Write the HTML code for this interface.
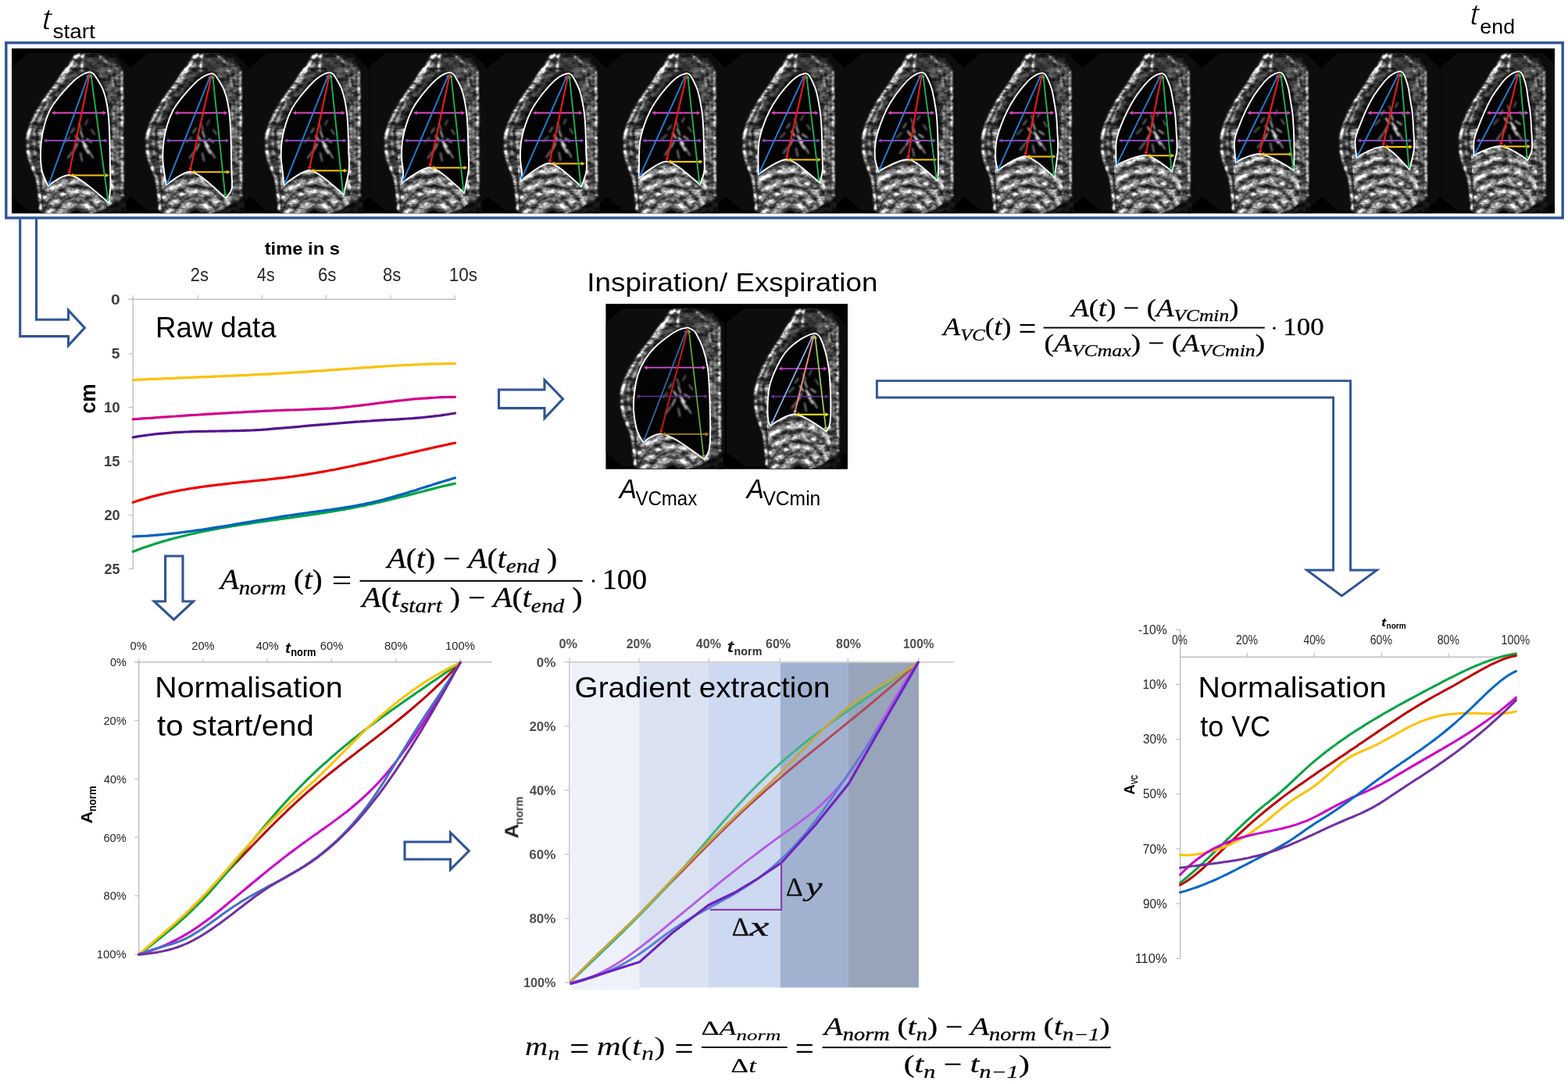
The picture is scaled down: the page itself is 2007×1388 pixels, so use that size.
<!DOCTYPE html>
<html><head><meta charset="utf-8"><title>Lung MRI analysis pipeline</title>
<style>html,body{margin:0;padding:0;background:#fff;}svg{display:block;}</style>
</head><body>
<svg width="2007" height="1388" viewBox="0 0 2007 1388">
<defs>
<filter id="blur1" x="-5%" y="-5%" width="110%" height="110%"><feGaussianBlur stdDeviation="1"/></filter>
<filter id="blurT" x="-5%" y="-20%" width="110%" height="140%"><feGaussianBlur stdDeviation="0.55"/></filter>
<filter id="blurC" x="-2%" y="-2%" width="104%" height="104%"><feGaussianBlur stdDeviation="0.7"/></filter>
</defs>
<rect x="0" y="0" width="2007" height="1388" fill="#fff"/>

<text x="53.30" y="37.60" font-size="39.00" textLength="12.96" lengthAdjust="spacingAndGlyphs" style='font-family:"Liberation Sans", Arial, sans-serif;font-style:italic;' fill="#000" stroke="#fff" stroke-width="1.1">t</text>
<text x="67.62" y="48.60" font-size="26.50" textLength="54.27" lengthAdjust="spacingAndGlyphs" style='font-family:"Liberation Sans", Arial, sans-serif;' fill="#000">start</text>
<text x="1880.90" y="32.00" font-size="39.00" textLength="12.34" lengthAdjust="spacingAndGlyphs" style='font-family:"Liberation Sans", Arial, sans-serif;font-style:italic;' fill="#000" stroke="#fff" stroke-width="1.1">t</text>
<text x="1894.38" y="42.90" font-size="26.50" textLength="44.65" lengthAdjust="spacingAndGlyphs" style='font-family:"Liberation Sans", Arial, sans-serif;' fill="#000">end</text>
<rect x="7.8" y="54.8" width="1992.4" height="224.2" fill="none" stroke="#2F5597" stroke-width="3.4"/>
<defs>
<filter id="mriBlur" x="-10%" y="-10%" width="120%" height="120%"><feGaussianBlur stdDeviation="1.1"/></filter>
<filter id="mriBlur2" x="-10%" y="-10%" width="120%" height="120%"><feGaussianBlur stdDeviation="2.0"/></filter>
<filter id="mriTex" x="0" y="0" width="100%" height="100%" color-interpolation-filters="sRGB">
  <feTurbulence type="fractalNoise" baseFrequency="0.1 0.16" numOctaves="3" seed="11" result="n"/>
  <feColorMatrix in="n" type="matrix" values="2.6 0 0 0 -0.8  2.6 0 0 0 -0.8  2.6 0 0 0 -0.8  0 0 0 0 1" result="g"/>
  <feComposite in="SourceGraphic" in2="g" operator="arithmetic" k1="1.05" k2="0.36" k3="0" k4="0" result="c"/>
  <feGaussianBlur in="c" stdDeviation="0.45"/>
</filter>
<path id="mriOct" d="M0,24 L22,6 L132,6 L152.4,26 L152.4,190 L132,208 L22,208 L0,190 Z" fill="#0d0d0d"/>
<clipPath id="abdClip"><path d="M33,104 C55,100 100,102 130,112 L131,198 C120,206 110,211 100,211 L42,211 C40,190 38,160 33,104 Z"/></clipPath>
<g id="mriBodyRaw">
  <g filter="url(#mriBlur)">
    <!-- general soft tissue -->
    <path d="M87,7 C96,4 120,6 134,12 C142,18 145,40 145,80 L145,190 C140,200 134,208 126,211 L38,211
             C35,195 33,178 30,165 C22,150 17,135 19,118 C21,96 30,80 40,70 C52,55 62,36 72,22 C77,14 82,9 87,7 Z" fill="#1a1a1a"/>
    <!-- anterior chest wall -->
    <path d="M88,7 C80,12 72,24 63,37 C55,50 45,63 36,76 C27,90 20,106 19,122 C18,136 22,148 29,160
             C34,172 35,188 37,210 L46,210 C44,196 43,184 42,172 C38,160 36,146 36.5,128 C37,108 42,92 50,77
             C60,60 72,47 84,38 C90,33 94,30 98,29 C96,20 93,12 88,7 Z" fill="#3c3c3c"/>
    <!-- posterior soft tissue -->
    <path d="M116,14 C128,12 138,18 142,28 L143,190 C140,196 134,200 128,200 L127,120 C127,80 124,52 112,36 C110,26 111,17 116,14 Z" fill="#484848"/>
    <!-- top (above apex) -->
    <path d="M86,8 C92,5 108,5 118,9 C122,16 118,26 110,32 C104,28 96,28 90,31 C88,24 86,16 86,8 Z" fill="#3a3a3a"/>
  </g>
  <!-- abdomen (visible below the diaphragm): concentric arcs around the spine -->
  <g clip-path="url(#abdClip)">
    <g filter="url(#mriBlur)" fill="none">
      <rect x="30" y="100" width="104" height="112" fill="#8a8a8a"/>
      <circle cx="83" cy="218" r="14" stroke="#303030" stroke-width="3.6"/>
      <circle cx="83" cy="218" r="21" stroke="#d8d8d8" stroke-width="3.2"/>
      <circle cx="83" cy="218" r="28" stroke="#303030" stroke-width="3.6"/>
      <circle cx="83" cy="218" r="35" stroke="#d8d8d8" stroke-width="3.2"/>
      <circle cx="83" cy="218" r="42" stroke="#303030" stroke-width="3.6"/>
      <circle cx="83" cy="218" r="49" stroke="#d8d8d8" stroke-width="3.2"/>
      <circle cx="83" cy="218" r="56" stroke="#303030" stroke-width="3.6"/>
      <circle cx="83" cy="218" r="63" stroke="#d8d8d8" stroke-width="3.2"/>
      <circle cx="83" cy="218" r="70" stroke="#303030" stroke-width="3.6"/>
      <circle cx="83" cy="218" r="77" stroke="#d8d8d8" stroke-width="3.2"/>
      <circle cx="83" cy="218" r="84" stroke="#303030" stroke-width="3.6"/>
      <circle cx="83" cy="218" r="91" stroke="#d8d8d8" stroke-width="3.2"/>
      <circle cx="83" cy="218" r="98" stroke="#303030" stroke-width="3.6"/>
      <circle cx="83" cy="218" r="12" fill="#050505"/>
    </g>
  </g>
  <g filter="url(#mriBlur)" fill="none" stroke-linecap="round">
    <!-- skin lines -->
    <path d="M141,30 L141.5,188" stroke="#f0f0f0" stroke-width="2.2"/>
    <path d="M134,24 C136,60 136,120 135,180" stroke="#7a7a7a" stroke-width="2"/>
    <path d="M86,8 C74,18 62,40 48,58 C36,74 24,92 20,116" stroke="#f4f4f4" stroke-width="3.2"/>
    <path d="M20,124 C21,140 26,152 32,164 C35,176 36,190 37,206" stroke="#e0e0e0" stroke-width="3"/>
    <path d="M82,10 C76,20 70,30 66,38" stroke="#ffffff" stroke-width="4"/>
    <path d="M90,10 C82,22 70,34 58,50 C48,64 40,80 34,96" stroke="#a8a8a8" stroke-width="2"/>
    <path d="M30,100 C28,112 28,124 30,136" stroke="#9a9a9a" stroke-width="2"/>
    <path d="M92,8 C90,14 89,20 90,28" stroke="#dddddd" stroke-width="2.5"/>
    <path d="M122,18 C126,30 130,44 134,60" stroke="#b0b0b0" stroke-width="2.4"/>
    <path d="M112,10 C118,14 124,18 128,26" stroke="#c8c8c8" stroke-width="2"/>
    <path d="M130,70 C131,90 131,110 130,130" stroke="#a8a8a8" stroke-width="1.8"/>
    <path d="M131,140 C132,155 132,170 131,185" stroke="#909090" stroke-width="1.8"/>
  </g>
  <!-- dark gap right of posterior tip -->
  <path d="M127,196 C131,205 134,209 136,211 L146,211 L146,196 Z" fill="#141414" filter="url(#mriBlur)"/>
</g>
<g id="mriBody"><use href="#mriBodyRaw" filter="url(#mriTex)"/></g>
<clipPath id="stripClip"><rect x="15.0" y="62.0" width="1975.0" height="211.3"/></clipPath></defs>
<rect x="15.0" y="62.0" width="1975.0" height="211.3" fill="#000"/>
<g clip-path="url(#stripClip)">
<g transform="translate(15.00,62.00)">
<use href="#mriOct"/>
<use href="#mriBody"/>
<path d="M100.00,30.20 C98.75,30.58 95.33,31.12 92.50,32.50 C89.67,33.88 86.00,36.17 83.00,38.50 C80.00,40.83 78.08,42.75 74.50,46.50 C70.92,50.25 65.58,55.92 61.50,61.00 C57.42,66.08 53.17,71.17 50.00,77.00 C46.83,82.83 44.50,89.17 42.50,96.00 C40.50,102.83 38.92,110.67 38.00,118.00 C37.08,125.33 36.83,133.33 37.00,140.00 C37.17,146.67 37.42,152.00 39.00,158.00 C40.58,164.00 45.25,173.00 46.50,176.00 C55.77,168.90 66.38,162.60 73.00,162.00 C85.75,162.80 106.15,182.57 124.00,197.50 C124.38,194.25 125.97,185.08 126.30,178.00 C126.63,170.92 126.12,163.00 126.00,155.00 C125.88,147.00 125.77,138.33 125.60,130.00 C125.43,121.67 125.33,112.67 125.00,105.00 C124.67,97.33 124.30,90.50 123.60,84.00 C122.90,77.50 121.98,71.33 120.80,66.00 C119.62,60.67 118.22,56.17 116.50,52.00 C114.78,47.83 112.50,44.25 110.50,41.00 C108.50,37.75 106.25,34.30 104.50,32.50 C102.75,30.70 100.75,30.58 100.00,30.20 Z" fill="#030303" stroke="none"/>
<g stroke-linecap="round" fill="none" filter="url(#mriBlur)"><path d="M86.0,96.0 L89.0,104.0" stroke="#a0a0a0" stroke-width="1.4"/><path d="M88.0,106.0 L91.0,114.0" stroke="#d0d0d0" stroke-width="1.8"/><path d="M82.0,112.0 L86.0,118.0" stroke="#e0e0e0" stroke-width="2.0"/><path d="M90.0,118.0 L96.0,126.0" stroke="#f4f4f4" stroke-width="2.4"/><path d="M92.0,124.0 L98.0,134.0" stroke="#e4e4e4" stroke-width="2.2"/><path d="M84.0,122.0 L80.0,130.0" stroke="#c0c0c0" stroke-width="1.8"/><path d="M96.0,116.0 L102.0,120.0" stroke="#cccccc" stroke-width="1.8"/><path d="M98.0,130.0 L104.0,140.0" stroke="#a8a8a8" stroke-width="1.7"/><path d="M78.0,132.0 L72.0,140.0" stroke="#6a6a6a" stroke-width="2.6"/><path d="M74.0,114.0 L68.0,120.0" stroke="#5a5a5a" stroke-width="2.4"/><path d="M102.0,104.0 L106.0,110.0" stroke="#8a8a8a" stroke-width="1.5"/><path d="M88.0,134.0 L90.0,144.0" stroke="#9a9a9a" stroke-width="1.7"/><path d="M80.0,102.0 L76.0,108.0" stroke="#9a9a9a" stroke-width="1.5"/><path d="M94.0,98.0 L97.0,92.0" stroke="#8a8a8a" stroke-width="1.4"/></g>
<path d="M100.00,30.20 C98.75,30.58 95.33,31.12 92.50,32.50 C89.67,33.88 86.00,36.17 83.00,38.50 C80.00,40.83 78.08,42.75 74.50,46.50 C70.92,50.25 65.58,55.92 61.50,61.00 C57.42,66.08 53.17,71.17 50.00,77.00 C46.83,82.83 44.50,89.17 42.50,96.00 C40.50,102.83 38.92,110.67 38.00,118.00 C37.08,125.33 36.83,133.33 37.00,140.00 C37.17,146.67 37.42,152.00 39.00,158.00 C40.58,164.00 45.25,173.00 46.50,176.00 C55.77,168.90 66.38,162.60 73.00,162.00 C85.75,162.80 106.15,182.57 124.00,197.50 C124.38,194.25 125.97,185.08 126.30,178.00 C126.63,170.92 126.12,163.00 126.00,155.00 C125.88,147.00 125.77,138.33 125.60,130.00 C125.43,121.67 125.33,112.67 125.00,105.00 C124.67,97.33 124.30,90.50 123.60,84.00 C122.90,77.50 121.98,71.33 120.80,66.00 C119.62,60.67 118.22,56.17 116.50,52.00 C114.78,47.83 112.50,44.25 110.50,41.00 C108.50,37.75 106.25,34.30 104.50,32.50 C102.75,30.70 100.75,30.58 100.00,30.20 Z" fill="none" stroke="#fff" stroke-width="1.9"/>
<line x1="54.51" y1="82.50" x2="117.69" y2="82.50" stroke="#E444C6" stroke-width="1.90"/><path d="M121.37,82.50 L116.77,85.03 L116.77,79.97 Z" fill="#E444C6"/><path d="M50.83,82.50 L55.43,85.03 L55.43,79.97 Z" fill="#E444C6"/>
<line x1="44.18" y1="118.00" x2="119.63" y2="118.00" stroke="#8A44B8" stroke-width="1.90"/><path d="M123.31,118.00 L118.71,120.53 L118.71,115.47 Z" fill="#8A44B8"/><path d="M40.50,118.00 L45.10,120.53 L45.10,115.47 Z" fill="#8A44B8"/>
<line x1="78.18" y1="162.50" x2="120.92" y2="162.50" stroke="#FFC20A" stroke-width="2.10"/><path d="M124.60,162.50 L120.00,165.03 L120.00,159.97 Z" fill="#FFC20A"/><path d="M74.50,162.50 L79.10,165.03 L79.10,159.97 Z" fill="#FFC20A"/>
<line x1="48.25" y1="172.04" x2="97.55" y2="35.66" stroke="#1F7FD6" stroke-width="1.90"/><path d="M98.80,32.20 L99.62,37.39 L94.86,35.67 Z" fill="#1F7FD6"/><path d="M47.00,175.50 L50.94,172.03 L46.18,170.31 Z" fill="#1F7FD6"/>
<line x1="73.75" y1="158.40" x2="99.45" y2="34.80" stroke="#F21818" stroke-width="2.10"/><path d="M100.20,31.20 L101.74,36.22 L96.79,35.19 Z" fill="#F21818"/><path d="M73.00,162.00 L76.41,158.01 L71.46,156.98 Z" fill="#F21818"/>
<line x1="123.01" y1="193.05" x2="101.69" y2="35.85" stroke="#1DB054" stroke-width="1.90"/><path d="M101.20,32.20 L104.33,36.42 L99.31,37.10 Z" fill="#1DB054"/><path d="M123.50,196.70 L125.39,191.80 L120.37,192.48 Z" fill="#1DB054"/>
</g>
<g transform="translate(167.40,62.00)">
<use href="#mriOct"/>
<use href="#mriBody" transform="translate(64,0) scale(0.9908,1) translate(-64,0)"/>
<path d="M103.60,32.00 C102.36,32.38 98.95,32.92 96.14,34.30 C93.33,35.68 89.70,37.97 86.74,40.30 C83.78,42.63 81.89,44.55 78.37,48.30 C74.85,52.05 69.61,57.72 65.61,62.80 C61.61,67.88 57.52,72.97 54.38,78.80 C51.24,84.63 48.81,90.97 46.75,97.80 C44.69,104.63 42.97,112.47 42.02,119.80 C41.06,127.13 40.85,135.13 41.02,141.80 C41.18,148.47 42.25,154.32 43.02,159.80 C43.78,165.28 45.17,172.22 45.60,174.70 C56.10,166.55 68.10,158.30 75.60,157.70 C87.10,158.50 105.50,177.23 121.60,191.60 C122.87,189.63 127.98,185.60 129.19,179.80 C130.41,174.00 129.01,164.80 128.89,156.80 C128.77,148.80 128.66,140.13 128.49,131.80 C128.32,123.47 128.22,114.47 127.89,106.80 C127.56,99.13 127.19,92.30 126.49,85.80 C125.79,79.30 124.84,73.13 123.69,67.80 C122.54,62.47 121.23,57.97 119.59,53.80 C117.94,49.63 115.77,46.05 113.84,42.80 C111.92,39.55 109.75,36.10 108.05,34.30 C106.34,32.50 104.34,32.38 103.60,32.00 Z" fill="#030303" stroke="none"/>
<g stroke-linecap="round" fill="none" filter="url(#mriBlur)"><path d="M89.6,96.0 L92.6,104.0" stroke="#a0a0a0" stroke-width="1.4"/><path d="M91.6,106.0 L94.6,114.0" stroke="#d0d0d0" stroke-width="1.8"/><path d="M85.6,112.0 L89.6,118.0" stroke="#e0e0e0" stroke-width="2.0"/><path d="M93.6,118.0 L99.6,126.0" stroke="#f4f4f4" stroke-width="2.4"/><path d="M95.6,124.0 L101.6,134.0" stroke="#e4e4e4" stroke-width="2.2"/><path d="M87.6,122.0 L83.6,130.0" stroke="#c0c0c0" stroke-width="1.8"/><path d="M99.6,116.0 L105.6,120.0" stroke="#cccccc" stroke-width="1.8"/><path d="M101.6,130.0 L107.6,140.0" stroke="#a8a8a8" stroke-width="1.7"/><path d="M81.6,132.0 L75.6,140.0" stroke="#6a6a6a" stroke-width="2.6"/><path d="M77.6,114.0 L71.6,120.0" stroke="#5a5a5a" stroke-width="2.4"/><path d="M105.6,104.0 L109.6,110.0" stroke="#8a8a8a" stroke-width="1.5"/><path d="M91.6,134.0 L93.6,144.0" stroke="#9a9a9a" stroke-width="1.7"/><path d="M83.6,102.0 L79.6,108.0" stroke="#9a9a9a" stroke-width="1.5"/><path d="M97.6,98.0 L100.6,92.0" stroke="#8a8a8a" stroke-width="1.4"/></g>
<path d="M103.60,32.00 C102.36,32.38 98.95,32.92 96.14,34.30 C93.33,35.68 89.70,37.97 86.74,40.30 C83.78,42.63 81.89,44.55 78.37,48.30 C74.85,52.05 69.61,57.72 65.61,62.80 C61.61,67.88 57.52,72.97 54.38,78.80 C51.24,84.63 48.81,90.97 46.75,97.80 C44.69,104.63 42.97,112.47 42.02,119.80 C41.06,127.13 40.85,135.13 41.02,141.80 C41.18,148.47 42.25,154.32 43.02,159.80 C43.78,165.28 45.17,172.22 45.60,174.70 C56.10,166.55 68.10,158.30 75.60,157.70 C87.10,158.50 105.50,177.23 121.60,191.60 C122.87,189.63 127.98,185.60 129.19,179.80 C130.41,174.00 129.01,164.80 128.89,156.80 C128.77,148.80 128.66,140.13 128.49,131.80 C128.32,123.47 128.22,114.47 127.89,106.80 C127.56,99.13 127.19,92.30 126.49,85.80 C125.79,79.30 124.84,73.13 123.69,67.80 C122.54,62.47 121.23,57.97 119.59,53.80 C117.94,49.63 115.77,46.05 113.84,42.80 C111.92,39.55 109.75,36.10 108.05,34.30 C106.34,32.50 104.34,32.38 103.60,32.00 Z" fill="none" stroke="#fff" stroke-width="1.9"/>
<line x1="59.57" y1="82.50" x2="120.30" y2="82.50" stroke="#E444C6" stroke-width="1.90"/><path d="M123.98,82.50 L119.38,85.03 L119.38,79.97 Z" fill="#E444C6"/><path d="M55.89,82.50 L60.49,85.03 L60.49,79.97 Z" fill="#E444C6"/>
<line x1="48.58" y1="118.00" x2="122.48" y2="118.00" stroke="#8A44B8" stroke-width="1.90"/><path d="M126.16,118.00 L121.56,120.53 L121.56,115.47 Z" fill="#8A44B8"/><path d="M44.90,118.00 L49.50,120.53 L49.50,115.47 Z" fill="#8A44B8"/>
<line x1="80.78" y1="158.20" x2="123.73" y2="158.20" stroke="#FFC20A" stroke-width="2.10"/><path d="M127.41,158.20 L122.81,160.73 L122.81,155.67 Z" fill="#FFC20A"/><path d="M77.10,158.20 L81.70,160.73 L81.70,155.67 Z" fill="#FFC20A"/>
<line x1="47.47" y1="170.79" x2="101.03" y2="37.41" stroke="#1F7FD6" stroke-width="1.90"/><path d="M102.40,34.00 L103.03,39.21 L98.34,37.33 Z" fill="#1F7FD6"/><path d="M46.10,174.20 L50.16,170.87 L45.47,168.99 Z" fill="#1F7FD6"/>
<line x1="76.41" y1="154.11" x2="102.99" y2="36.59" stroke="#F21818" stroke-width="2.10"/><path d="M103.80,33.00 L105.25,38.04 L100.32,36.93 Z" fill="#F21818"/><path d="M75.60,157.70 L79.08,153.77 L74.15,152.66 Z" fill="#F21818"/>
<line x1="120.72" y1="187.14" x2="105.18" y2="37.66" stroke="#1DB054" stroke-width="1.90"/><path d="M104.80,34.00 L107.79,38.31 L102.76,38.84 Z" fill="#1DB054"/><path d="M121.10,190.80 L123.14,185.96 L118.11,186.49 Z" fill="#1DB054"/>
</g>
<g transform="translate(319.80,62.00)">
<use href="#mriOct"/>
<use href="#mriBody" transform="translate(64,0) scale(0.9817,1) translate(-64,0)"/>
<path d="M102.20,30.70 C100.96,31.08 97.56,31.62 94.77,33.00 C91.99,34.38 88.39,36.67 85.47,39.00 C82.55,41.33 80.69,43.25 77.23,47.00 C73.77,50.75 68.62,56.42 64.70,61.50 C60.78,66.58 56.83,71.67 53.72,77.50 C50.61,83.33 48.15,89.67 46.03,96.50 C43.92,103.33 42.03,111.17 41.03,118.50 C40.03,125.83 39.87,133.83 40.03,140.50 C40.20,147.17 41.39,152.80 42.03,158.50 C42.68,164.20 43.59,172.00 43.90,174.70 C55.06,165.96 67.82,156.60 75.80,156.00 C86.83,156.80 104.47,173.65 119.90,187.00 C121.05,181.75 125.70,164.92 126.78,155.50 C127.86,146.08 126.55,138.83 126.38,130.50 C126.22,122.17 126.12,113.17 125.78,105.50 C125.45,97.83 125.08,91.00 124.38,84.50 C123.68,78.00 122.70,71.83 121.58,66.50 C120.46,61.17 119.24,56.67 117.67,52.50 C116.10,48.33 114.04,44.75 112.19,41.50 C110.34,38.25 108.26,34.80 106.59,33.00 C104.93,31.20 102.93,31.08 102.20,30.70 Z" fill="#030303" stroke="none"/>
<g stroke-linecap="round" fill="none" filter="url(#mriBlur)"><path d="M88.2,96.0 L91.2,104.0" stroke="#a0a0a0" stroke-width="1.4"/><path d="M90.2,106.0 L93.2,114.0" stroke="#d0d0d0" stroke-width="1.8"/><path d="M84.2,112.0 L88.2,118.0" stroke="#e0e0e0" stroke-width="2.0"/><path d="M92.2,118.0 L98.2,126.0" stroke="#f4f4f4" stroke-width="2.4"/><path d="M94.2,124.0 L100.2,134.0" stroke="#e4e4e4" stroke-width="2.2"/><path d="M86.2,122.0 L82.2,130.0" stroke="#c0c0c0" stroke-width="1.8"/><path d="M98.2,116.0 L104.2,120.0" stroke="#cccccc" stroke-width="1.8"/><path d="M100.2,130.0 L106.2,140.0" stroke="#a8a8a8" stroke-width="1.7"/><path d="M80.2,132.0 L74.2,140.0" stroke="#6a6a6a" stroke-width="2.6"/><path d="M76.2,114.0 L70.2,120.0" stroke="#5a5a5a" stroke-width="2.4"/><path d="M104.2,104.0 L108.2,110.0" stroke="#8a8a8a" stroke-width="1.5"/><path d="M90.2,134.0 L92.2,144.0" stroke="#9a9a9a" stroke-width="1.7"/><path d="M82.2,102.0 L78.2,108.0" stroke="#9a9a9a" stroke-width="1.5"/><path d="M96.2,98.0 L99.2,92.0" stroke="#8a8a8a" stroke-width="1.4"/></g>
<path d="M102.20,30.70 C100.96,31.08 97.56,31.62 94.77,33.00 C91.99,34.38 88.39,36.67 85.47,39.00 C82.55,41.33 80.69,43.25 77.23,47.00 C73.77,50.75 68.62,56.42 64.70,61.50 C60.78,66.58 56.83,71.67 53.72,77.50 C50.61,83.33 48.15,89.67 46.03,96.50 C43.92,103.33 42.03,111.17 41.03,118.50 C40.03,125.83 39.87,133.83 40.03,140.50 C40.20,147.17 41.39,152.80 42.03,158.50 C42.68,164.20 43.59,172.00 43.90,174.70 C55.06,165.96 67.82,156.60 75.80,156.00 C86.83,156.80 104.47,173.65 119.90,187.00 C121.05,181.75 125.70,164.92 126.78,155.50 C127.86,146.08 126.55,138.83 126.38,130.50 C126.22,122.17 126.12,113.17 125.78,105.50 C125.45,97.83 125.08,91.00 124.38,84.50 C123.68,78.00 122.70,71.83 121.58,66.50 C120.46,61.17 119.24,56.67 117.67,52.50 C116.10,48.33 114.04,44.75 112.19,41.50 C110.34,38.25 108.26,34.80 106.59,33.00 C104.93,31.20 102.93,31.08 102.20,30.70 Z" fill="none" stroke="#fff" stroke-width="1.9"/>
<line x1="58.38" y1="82.50" x2="118.39" y2="82.50" stroke="#E444C6" stroke-width="1.90"/><path d="M122.07,82.50 L117.47,85.03 L117.47,79.97 Z" fill="#E444C6"/><path d="M54.70,82.50 L59.30,85.03 L59.30,79.97 Z" fill="#E444C6"/>
<line x1="47.33" y1="118.00" x2="120.40" y2="118.00" stroke="#8A44B8" stroke-width="1.90"/><path d="M124.08,118.00 L119.48,120.53 L119.48,115.47 Z" fill="#8A44B8"/><path d="M43.65,118.00 L48.25,120.53 L48.25,115.47 Z" fill="#8A44B8"/>
<line x1="80.98" y1="156.50" x2="121.38" y2="156.50" stroke="#FFC20A" stroke-width="2.10"/><path d="M125.06,156.50 L120.46,159.03 L120.46,153.97 Z" fill="#FFC20A"/><path d="M77.30,156.50 L81.90,159.03 L81.90,153.97 Z" fill="#FFC20A"/>
<line x1="45.77" y1="170.78" x2="99.63" y2="36.12" stroke="#1F7FD6" stroke-width="1.90"/><path d="M101.00,32.70 L101.64,37.91 L96.94,36.03 Z" fill="#1F7FD6"/><path d="M44.40,174.20 L48.46,170.87 L43.76,168.99 Z" fill="#1F7FD6"/>
<line x1="76.57" y1="152.40" x2="101.63" y2="35.30" stroke="#F21818" stroke-width="2.10"/><path d="M102.40,31.70 L103.91,36.73 L98.96,35.67 Z" fill="#F21818"/><path d="M75.80,156.00 L79.24,152.03 L74.29,150.97 Z" fill="#F21818"/>
<line x1="119.02" y1="182.54" x2="103.78" y2="36.36" stroke="#1DB054" stroke-width="1.90"/><path d="M103.40,32.70 L106.39,37.01 L101.36,37.54 Z" fill="#1DB054"/><path d="M119.40,186.20 L121.44,181.36 L116.41,181.89 Z" fill="#1DB054"/>
</g>
<g transform="translate(472.20,62.00)">
<use href="#mriOct"/>
<use href="#mriBody" transform="translate(64,0) scale(0.9725,1) translate(-64,0)"/>
<path d="M103.70,30.60 C102.47,30.98 99.08,31.52 96.31,32.90 C93.55,34.28 89.99,36.57 87.10,38.90 C84.22,41.23 82.39,43.15 78.99,46.90 C75.59,50.65 70.53,56.32 66.70,61.40 C62.86,66.48 59.06,71.57 55.98,77.40 C52.89,83.23 50.37,89.57 48.20,96.40 C46.03,103.23 43.99,111.07 42.95,118.40 C41.91,125.73 41.78,133.73 41.95,140.40 C42.12,147.07 43.81,153.17 43.95,158.40 C44.09,163.63 42.99,169.57 42.80,171.80 C55.05,162.78 69.05,152.90 77.80,152.30 C88.80,153.10 106.40,170.86 121.80,184.70 C122.76,179.82 126.68,164.45 127.57,155.40 C128.47,146.35 127.34,138.73 127.18,130.40 C127.01,122.07 126.91,113.07 126.57,105.40 C126.24,97.73 125.88,90.90 125.17,84.40 C124.47,77.90 123.46,71.73 122.38,66.40 C121.29,61.07 120.15,56.57 118.66,52.40 C117.17,48.23 115.20,44.65 113.44,41.40 C111.67,38.15 109.66,34.70 108.04,32.90 C106.41,31.10 104.42,30.98 103.70,30.60 Z" fill="#030303" stroke="none"/>
<g stroke-linecap="round" fill="none" filter="url(#mriBlur)"><path d="M89.7,96.0 L92.7,104.0" stroke="#a0a0a0" stroke-width="1.4"/><path d="M91.7,106.0 L94.7,114.0" stroke="#d0d0d0" stroke-width="1.8"/><path d="M85.7,112.0 L89.7,118.0" stroke="#e0e0e0" stroke-width="2.0"/><path d="M93.7,118.0 L99.7,126.0" stroke="#f4f4f4" stroke-width="2.4"/><path d="M95.7,124.0 L101.7,134.0" stroke="#e4e4e4" stroke-width="2.2"/><path d="M87.7,122.0 L83.7,130.0" stroke="#c0c0c0" stroke-width="1.8"/><path d="M99.7,116.0 L105.7,120.0" stroke="#cccccc" stroke-width="1.8"/><path d="M101.7,130.0 L107.7,140.0" stroke="#a8a8a8" stroke-width="1.7"/><path d="M81.7,132.0 L75.7,140.0" stroke="#6a6a6a" stroke-width="2.6"/><path d="M77.7,114.0 L71.7,120.0" stroke="#5a5a5a" stroke-width="2.4"/><path d="M105.7,104.0 L109.7,110.0" stroke="#8a8a8a" stroke-width="1.5"/><path d="M91.7,134.0 L93.7,144.0" stroke="#9a9a9a" stroke-width="1.7"/><path d="M83.7,102.0 L79.7,108.0" stroke="#9a9a9a" stroke-width="1.5"/><path d="M97.7,98.0 L100.7,92.0" stroke="#8a8a8a" stroke-width="1.4"/></g>
<path d="M103.70,30.60 C102.47,30.98 99.08,31.52 96.31,32.90 C93.55,34.28 89.99,36.57 87.10,38.90 C84.22,41.23 82.39,43.15 78.99,46.90 C75.59,50.65 70.53,56.32 66.70,61.40 C62.86,66.48 59.06,71.57 55.98,77.40 C52.89,83.23 50.37,89.57 48.20,96.40 C46.03,103.23 43.99,111.07 42.95,118.40 C41.91,125.73 41.78,133.73 41.95,140.40 C42.12,147.07 43.81,153.17 43.95,158.40 C44.09,163.63 42.99,169.57 42.80,171.80 C55.05,162.78 69.05,152.90 77.80,152.30 C88.80,153.10 106.40,170.86 121.80,184.70 C122.76,179.82 126.68,164.45 127.57,155.40 C128.47,146.35 127.34,138.73 127.18,130.40 C127.01,122.07 126.91,113.07 126.57,105.40 C126.24,97.73 125.88,90.90 125.17,84.40 C124.47,77.90 123.46,71.73 122.38,66.40 C121.29,61.07 120.15,56.57 118.66,52.40 C117.17,48.23 115.20,44.65 113.44,41.40 C111.67,38.15 109.66,34.70 108.04,32.90 C106.41,31.10 104.42,30.98 103.70,30.60 Z" fill="none" stroke="#fff" stroke-width="1.9"/>
<line x1="60.57" y1="82.50" x2="119.20" y2="82.50" stroke="#E444C6" stroke-width="1.90"/><path d="M122.88,82.50 L118.28,85.03 L118.28,79.97 Z" fill="#E444C6"/><path d="M56.89,82.50 L61.49,85.03 L61.49,79.97 Z" fill="#E444C6"/>
<line x1="49.23" y1="118.00" x2="121.20" y2="118.00" stroke="#8A44B8" stroke-width="1.90"/><path d="M124.88,118.00 L120.28,120.53 L120.28,115.47 Z" fill="#8A44B8"/><path d="M45.55,118.00 L50.15,120.53 L50.15,115.47 Z" fill="#8A44B8"/>
<line x1="82.98" y1="152.80" x2="122.35" y2="152.80" stroke="#FFC20A" stroke-width="2.10"/><path d="M126.03,152.80 L121.43,155.33 L121.43,150.27 Z" fill="#FFC20A"/><path d="M79.30,152.80 L83.90,155.33 L83.90,150.27 Z" fill="#FFC20A"/>
<line x1="44.74" y1="167.92" x2="101.06" y2="35.98" stroke="#1F7FD6" stroke-width="1.90"/><path d="M102.50,32.60 L103.02,37.82 L98.37,35.84 Z" fill="#1F7FD6"/><path d="M43.30,171.30 L47.43,168.06 L42.78,166.08 Z" fill="#1F7FD6"/>
<line x1="78.58" y1="148.70" x2="103.12" y2="35.20" stroke="#F21818" stroke-width="2.10"/><path d="M103.90,31.60 L105.40,36.63 L100.45,35.56 Z" fill="#F21818"/><path d="M77.80,152.30 L81.25,148.34 L76.30,147.27 Z" fill="#F21818"/>
<line x1="120.90" y1="180.24" x2="105.30" y2="36.26" stroke="#1DB054" stroke-width="1.90"/><path d="M104.90,32.60 L107.91,36.90 L102.88,37.45 Z" fill="#1DB054"/><path d="M121.30,183.90 L123.32,179.05 L118.29,179.60 Z" fill="#1DB054"/>
</g>
<g transform="translate(624.60,62.00)">
<use href="#mriOct"/>
<use href="#mriBody" transform="translate(64,0) scale(0.9633,1) translate(-64,0)"/>
<path d="M102.80,31.90 C101.58,32.28 98.19,32.82 95.45,34.20 C92.71,35.58 89.20,37.87 86.35,40.20 C83.51,42.53 81.72,44.45 78.38,48.20 C75.05,51.95 70.09,57.62 66.35,62.70 C62.60,67.78 58.99,72.87 55.91,78.70 C52.84,84.53 50.15,90.87 47.91,97.70 C45.67,104.53 43.54,112.37 42.47,119.70 C41.39,127.03 41.30,135.03 41.47,141.70 C41.63,148.37 43.39,155.15 43.47,159.70 C43.54,164.25 42.16,167.45 41.90,169.00 C54.78,159.10 69.50,147.60 78.70,147.00 C88.88,147.80 105.16,164.00 119.40,177.00 C120.49,173.62 124.94,164.25 125.97,156.70 C126.99,149.15 125.73,140.03 125.57,131.70 C125.40,123.37 125.30,114.37 124.97,106.70 C124.63,99.03 124.27,92.20 123.57,85.70 C122.87,79.20 121.82,73.03 120.77,67.70 C119.71,62.37 118.66,57.87 117.24,53.70 C115.83,49.53 113.97,45.95 112.28,42.70 C110.59,39.45 108.66,36.00 107.08,34.20 C105.50,32.40 103.51,32.28 102.80,31.90 Z" fill="#030303" stroke="none"/>
<g stroke-linecap="round" fill="none" filter="url(#mriBlur)"><path d="M88.8,95.0 L91.8,103.0" stroke="#a0a0a0" stroke-width="1.4"/><path d="M90.8,105.0 L93.8,113.0" stroke="#d0d0d0" stroke-width="1.8"/><path d="M84.8,111.0 L88.8,117.0" stroke="#e0e0e0" stroke-width="2.0"/><path d="M92.8,117.0 L98.8,125.0" stroke="#f4f4f4" stroke-width="2.4"/><path d="M94.8,123.0 L100.8,133.0" stroke="#e4e4e4" stroke-width="2.2"/><path d="M86.8,121.0 L82.8,129.0" stroke="#c0c0c0" stroke-width="1.8"/><path d="M98.8,115.0 L104.8,119.0" stroke="#cccccc" stroke-width="1.8"/><path d="M100.8,129.0 L106.8,139.0" stroke="#a8a8a8" stroke-width="1.7"/><path d="M80.8,131.0 L74.8,139.0" stroke="#6a6a6a" stroke-width="2.6"/><path d="M76.8,113.0 L70.8,119.0" stroke="#5a5a5a" stroke-width="2.4"/><path d="M104.8,103.0 L108.8,109.0" stroke="#8a8a8a" stroke-width="1.5"/><path d="M90.8,133.0 L92.8,143.0" stroke="#9a9a9a" stroke-width="1.7"/><path d="M82.8,101.0 L78.8,107.0" stroke="#9a9a9a" stroke-width="1.5"/><path d="M96.8,97.0 L99.8,91.0" stroke="#8a8a8a" stroke-width="1.4"/></g>
<path d="M102.80,31.90 C101.58,32.28 98.19,32.82 95.45,34.20 C92.71,35.58 89.20,37.87 86.35,40.20 C83.51,42.53 81.72,44.45 78.38,48.20 C75.05,51.95 70.09,57.62 66.35,62.70 C62.60,67.78 58.99,72.87 55.91,78.70 C52.84,84.53 50.15,90.87 47.91,97.70 C45.67,104.53 43.54,112.37 42.47,119.70 C41.39,127.03 41.30,135.03 41.47,141.70 C41.63,148.37 43.39,155.15 43.47,159.70 C43.54,164.25 42.16,167.45 41.90,169.00 C54.78,159.10 69.50,147.60 78.70,147.00 C88.88,147.80 105.16,164.00 119.40,177.00 C120.49,173.62 124.94,164.25 125.97,156.70 C126.99,149.15 125.73,140.03 125.57,131.70 C125.40,123.37 125.30,114.37 124.97,106.70 C124.63,99.03 124.27,92.20 123.57,85.70 C122.87,79.20 121.82,73.03 120.77,67.70 C119.71,62.37 118.66,57.87 117.24,53.70 C115.83,49.53 113.97,45.95 112.28,42.70 C110.59,39.45 108.66,36.00 107.08,34.20 C105.50,32.40 103.51,32.28 102.80,31.90 Z" fill="none" stroke="#fff" stroke-width="1.9"/>
<line x1="60.99" y1="82.50" x2="117.39" y2="82.50" stroke="#E444C6" stroke-width="1.90"/><path d="M121.07,82.50 L116.47,85.03 L116.47,79.97 Z" fill="#E444C6"/><path d="M57.31,82.50 L61.91,85.03 L61.91,79.97 Z" fill="#E444C6"/>
<line x1="49.07" y1="118.00" x2="119.56" y2="118.00" stroke="#8A44B8" stroke-width="1.90"/><path d="M123.24,118.00 L118.64,120.53 L118.64,115.47 Z" fill="#8A44B8"/><path d="M45.39,118.00 L49.99,120.53 L49.99,115.47 Z" fill="#8A44B8"/>
<line x1="83.88" y1="147.50" x2="120.64" y2="147.50" stroke="#FFC20A" stroke-width="2.10"/><path d="M124.32,147.50 L119.72,150.03 L119.72,144.97 Z" fill="#FFC20A"/><path d="M80.20,147.50 L84.80,150.03 L84.80,144.97 Z" fill="#FFC20A"/>
<line x1="43.88" y1="165.13" x2="100.12" y2="37.27" stroke="#1F7FD6" stroke-width="1.90"/><path d="M101.60,33.90 L102.06,39.13 L97.43,37.09 Z" fill="#1F7FD6"/><path d="M42.40,168.50 L46.57,165.31 L41.94,163.27 Z" fill="#1F7FD6"/>
<line x1="79.47" y1="143.40" x2="102.23" y2="36.50" stroke="#F21818" stroke-width="2.10"/><path d="M103.00,32.90 L104.52,37.93 L99.57,36.87 Z" fill="#F21818"/><path d="M78.70,147.00 L82.13,143.03 L77.18,141.97 Z" fill="#F21818"/>
<line x1="118.52" y1="172.54" x2="104.38" y2="37.56" stroke="#1DB054" stroke-width="1.90"/><path d="M104.00,33.90 L107.00,38.21 L101.96,38.74 Z" fill="#1DB054"/><path d="M118.90,176.20 L120.94,171.36 L115.90,171.89 Z" fill="#1DB054"/>
</g>
<g transform="translate(777.00,62.00)">
<use href="#mriOct"/>
<use href="#mriBody" transform="translate(64,0) scale(0.9542,1) translate(-64,0)"/>
<path d="M102.00,31.90 C100.78,32.28 97.41,32.82 94.69,34.20 C91.97,35.58 88.50,37.87 85.69,40.20 C82.88,42.53 81.13,44.45 77.86,48.20 C74.58,51.95 69.72,57.62 66.06,62.70 C62.40,67.78 58.94,72.87 55.89,78.70 C52.84,84.53 50.06,90.87 47.76,97.70 C45.46,104.53 43.20,112.37 42.08,119.70 C40.97,127.03 41.26,134.10 41.08,141.70 C40.90,149.30 41.01,161.37 41.00,165.30 C53.25,155.86 67.25,145.20 76.00,144.60 C86.70,145.40 103.82,161.41 118.80,174.30 C119.74,171.37 123.58,163.80 124.46,156.70 C125.33,149.60 124.22,140.03 124.06,131.70 C123.89,123.37 123.79,114.37 123.46,106.70 C123.12,99.03 122.76,92.20 122.06,85.70 C121.36,79.20 120.28,73.03 119.26,67.70 C118.24,62.37 117.27,57.87 115.93,53.70 C114.59,49.53 112.84,45.95 111.22,42.70 C109.61,39.45 107.77,36.00 106.23,34.20 C104.69,32.40 102.70,32.28 102.00,31.90 Z" fill="#030303" stroke="none"/>
<g stroke-linecap="round" fill="none" filter="url(#mriBlur)"><path d="M88.0,92.6 L91.0,100.6" stroke="#a0a0a0" stroke-width="1.4"/><path d="M90.0,102.6 L93.0,110.6" stroke="#d0d0d0" stroke-width="1.8"/><path d="M84.0,108.6 L88.0,114.6" stroke="#e0e0e0" stroke-width="2.0"/><path d="M92.0,114.6 L98.0,122.6" stroke="#f4f4f4" stroke-width="2.4"/><path d="M94.0,120.6 L100.0,130.6" stroke="#e4e4e4" stroke-width="2.2"/><path d="M86.0,118.6 L82.0,126.6" stroke="#c0c0c0" stroke-width="1.8"/><path d="M98.0,112.6 L104.0,116.6" stroke="#cccccc" stroke-width="1.8"/><path d="M100.0,126.6 L106.0,136.6" stroke="#a8a8a8" stroke-width="1.7"/><path d="M80.0,128.6 L74.0,136.6" stroke="#6a6a6a" stroke-width="2.6"/><path d="M76.0,110.6 L70.0,116.6" stroke="#5a5a5a" stroke-width="2.4"/><path d="M104.0,100.6 L108.0,106.6" stroke="#8a8a8a" stroke-width="1.5"/><path d="M90.0,130.6 L92.0,140.6" stroke="#9a9a9a" stroke-width="1.7"/><path d="M82.0,98.6 L78.0,104.6" stroke="#9a9a9a" stroke-width="1.5"/><path d="M96.0,94.6 L99.0,88.6" stroke="#8a8a8a" stroke-width="1.4"/></g>
<path d="M102.00,31.90 C100.78,32.28 97.41,32.82 94.69,34.20 C91.97,35.58 88.50,37.87 85.69,40.20 C82.88,42.53 81.13,44.45 77.86,48.20 C74.58,51.95 69.72,57.62 66.06,62.70 C62.40,67.78 58.94,72.87 55.89,78.70 C52.84,84.53 50.06,90.87 47.76,97.70 C45.46,104.53 43.20,112.37 42.08,119.70 C40.97,127.03 41.26,134.10 41.08,141.70 C40.90,149.30 41.01,161.37 41.00,165.30 C53.25,155.86 67.25,145.20 76.00,144.60 C86.70,145.40 103.82,161.41 118.80,174.30 C119.74,171.37 123.58,163.80 124.46,156.70 C125.33,149.60 124.22,140.03 124.06,131.70 C123.89,123.37 123.79,114.37 123.46,106.70 C123.12,99.03 122.76,92.20 122.06,85.70 C121.36,79.20 120.28,73.03 119.26,67.70 C118.24,62.37 117.27,57.87 115.93,53.70 C114.59,49.53 112.84,45.95 111.22,42.70 C109.61,39.45 107.77,36.00 106.23,34.20 C104.69,32.40 102.70,32.28 102.00,31.90 Z" fill="none" stroke="#fff" stroke-width="1.9"/>
<line x1="60.95" y1="82.50" x2="115.88" y2="82.50" stroke="#E444C6" stroke-width="1.90"/><path d="M119.56,82.50 L114.96,85.03 L114.96,79.97 Z" fill="#E444C6"/><path d="M57.27,82.50 L61.87,85.03 L61.87,79.97 Z" fill="#E444C6"/>
<line x1="48.70" y1="118.00" x2="118.05" y2="118.00" stroke="#8A44B8" stroke-width="1.90"/><path d="M121.73,118.00 L117.13,120.53 L117.13,115.47 Z" fill="#8A44B8"/><path d="M45.02,118.00 L49.62,120.53 L49.62,115.47 Z" fill="#8A44B8"/>
<line x1="81.18" y1="145.10" x2="119.09" y2="145.10" stroke="#FFC20A" stroke-width="2.10"/><path d="M122.77,145.10 L118.17,147.63 L118.17,142.57 Z" fill="#FFC20A"/><path d="M77.50,145.10 L82.10,147.63 L82.10,142.57 Z" fill="#FFC20A"/>
<line x1="43.02" y1="161.45" x2="99.28" y2="37.25" stroke="#1F7FD6" stroke-width="1.90"/><path d="M100.80,33.90 L101.21,39.13 L96.60,37.05 Z" fill="#1F7FD6"/><path d="M41.50,164.80 L45.70,161.65 L41.09,159.57 Z" fill="#1F7FD6"/>
<line x1="76.84" y1="141.02" x2="101.36" y2="36.48" stroke="#F21818" stroke-width="2.10"/><path d="M102.20,32.90 L103.61,37.96 L98.69,36.80 Z" fill="#F21818"/><path d="M76.00,144.60 L79.51,140.70 L74.59,139.54 Z" fill="#F21818"/>
<line x1="117.90" y1="169.84" x2="103.60" y2="37.56" stroke="#1DB054" stroke-width="1.90"/><path d="M103.20,33.90 L106.21,38.20 L101.18,38.75 Z" fill="#1DB054"/><path d="M118.30,173.50 L120.32,168.65 L115.29,169.20 Z" fill="#1DB054"/>
</g>
<g transform="translate(929.40,62.00)">
<use href="#mriOct"/>
<use href="#mriBody" transform="translate(64,0) scale(0.9450,1) translate(-64,0)"/>
<path d="M101.60,31.90 C100.39,32.28 97.02,32.82 94.33,34.20 C91.63,35.58 88.20,37.87 85.43,40.20 C82.66,42.53 80.94,44.45 77.73,48.20 C74.52,51.95 69.75,57.62 66.17,62.70 C62.60,67.78 59.30,72.87 56.27,78.70 C53.24,84.53 50.37,90.87 48.01,97.70 C45.65,104.53 43.25,112.37 42.10,119.70 C40.95,127.03 41.20,134.82 41.10,141.70 C41.00,148.58 41.43,157.78 41.50,161.00 C53.96,152.15 68.20,142.60 77.10,142.00 C87.72,142.80 104.72,158.87 119.60,171.80 C120.22,169.28 122.79,163.38 123.35,156.70 C123.91,150.02 123.12,140.03 122.95,131.70 C122.78,123.37 122.68,114.37 122.35,106.70 C122.02,99.03 121.65,92.20 120.95,85.70 C120.25,79.20 119.14,73.03 118.15,67.70 C117.16,62.37 116.27,57.87 115.01,53.70 C113.75,49.53 112.11,45.95 110.57,42.70 C109.03,39.45 107.27,36.00 105.77,34.20 C104.28,32.40 102.30,32.28 101.60,31.90 Z" fill="#030303" stroke="none"/>
<g stroke-linecap="round" fill="none" filter="url(#mriBlur)"><path d="M87.6,90.0 L90.6,98.0" stroke="#a0a0a0" stroke-width="1.4"/><path d="M89.6,100.0 L92.6,108.0" stroke="#d0d0d0" stroke-width="1.8"/><path d="M83.6,106.0 L87.6,112.0" stroke="#e0e0e0" stroke-width="2.0"/><path d="M91.6,112.0 L97.6,120.0" stroke="#f4f4f4" stroke-width="2.4"/><path d="M93.6,118.0 L99.6,128.0" stroke="#e4e4e4" stroke-width="2.2"/><path d="M85.6,116.0 L81.6,124.0" stroke="#c0c0c0" stroke-width="1.8"/><path d="M97.6,110.0 L103.6,114.0" stroke="#cccccc" stroke-width="1.8"/><path d="M99.6,124.0 L105.6,134.0" stroke="#a8a8a8" stroke-width="1.7"/><path d="M79.6,126.0 L73.6,134.0" stroke="#6a6a6a" stroke-width="2.6"/><path d="M75.6,108.0 L69.6,114.0" stroke="#5a5a5a" stroke-width="2.4"/><path d="M103.6,98.0 L107.6,104.0" stroke="#8a8a8a" stroke-width="1.5"/><path d="M89.6,128.0 L91.6,138.0" stroke="#9a9a9a" stroke-width="1.7"/><path d="M81.6,96.0 L77.6,102.0" stroke="#9a9a9a" stroke-width="1.5"/><path d="M95.6,92.0 L98.6,86.0" stroke="#8a8a8a" stroke-width="1.4"/></g>
<path d="M101.60,31.90 C100.39,32.28 97.02,32.82 94.33,34.20 C91.63,35.58 88.20,37.87 85.43,40.20 C82.66,42.53 80.94,44.45 77.73,48.20 C74.52,51.95 69.75,57.62 66.17,62.70 C62.60,67.78 59.30,72.87 56.27,78.70 C53.24,84.53 50.37,90.87 48.01,97.70 C45.65,104.53 43.25,112.37 42.10,119.70 C40.95,127.03 41.20,134.82 41.10,141.70 C41.00,148.58 41.43,157.78 41.50,161.00 C53.96,152.15 68.20,142.60 77.10,142.00 C87.72,142.80 104.72,158.87 119.60,171.80 C120.22,169.28 122.79,163.38 123.35,156.70 C123.91,150.02 123.12,140.03 122.95,131.70 C122.78,123.37 122.68,114.37 122.35,106.70 C122.02,99.03 121.65,92.20 120.95,85.70 C120.25,79.20 119.14,73.03 118.15,67.70 C117.16,62.37 116.27,57.87 115.01,53.70 C113.75,49.53 112.11,45.95 110.57,42.70 C109.03,39.45 107.27,36.00 105.77,34.20 C104.28,32.40 102.30,32.28 101.60,31.90 Z" fill="none" stroke="#fff" stroke-width="1.9"/>
<line x1="61.30" y1="82.50" x2="114.77" y2="82.50" stroke="#E444C6" stroke-width="1.90"/><path d="M118.45,82.50 L113.85,85.03 L113.85,79.97 Z" fill="#E444C6"/><path d="M57.62,82.50 L62.22,85.03 L62.22,79.97 Z" fill="#E444C6"/>
<line x1="48.74" y1="118.00" x2="116.94" y2="118.00" stroke="#8A44B8" stroke-width="1.90"/><path d="M120.62,118.00 L116.02,120.53 L116.02,115.47 Z" fill="#8A44B8"/><path d="M45.06,118.00 L49.66,120.53 L49.66,115.47 Z" fill="#8A44B8"/>
<line x1="82.28" y1="142.50" x2="117.94" y2="142.50" stroke="#FFC20A" stroke-width="2.10"/><path d="M121.62,142.50 L117.02,145.03 L117.02,139.97 Z" fill="#FFC20A"/><path d="M78.60,142.50 L83.20,145.03 L83.20,139.97 Z" fill="#FFC20A"/>
<line x1="43.54" y1="157.16" x2="98.86" y2="37.24" stroke="#1F7FD6" stroke-width="1.90"/><path d="M100.40,33.90 L100.77,39.14 L96.18,37.02 Z" fill="#1F7FD6"/><path d="M42.00,160.50 L46.22,157.38 L41.63,155.26 Z" fill="#1F7FD6"/>
<line x1="77.91" y1="138.41" x2="100.99" y2="36.49" stroke="#F21818" stroke-width="2.10"/><path d="M101.80,32.90 L103.25,37.95 L98.32,36.83 Z" fill="#F21818"/><path d="M77.10,142.00 L80.58,138.07 L75.65,136.95 Z" fill="#F21818"/>
<line x1="118.67" y1="167.35" x2="103.23" y2="37.55" stroke="#1DB054" stroke-width="1.90"/><path d="M102.80,33.90 L105.86,38.17 L100.83,38.77 Z" fill="#1DB054"/><path d="M119.10,171.00 L121.07,166.13 L116.04,166.73 Z" fill="#1DB054"/>
</g>
<g transform="translate(1081.80,62.00)">
<use href="#mriOct"/>
<use href="#mriBody" transform="translate(64,0) scale(0.9358,1) translate(-64,0)"/>
<path d="M98.20,30.60 C96.99,30.98 93.64,31.52 90.96,32.90 C88.28,34.28 84.88,36.57 82.14,38.90 C79.41,41.23 77.71,43.15 74.55,46.90 C71.39,50.65 66.70,56.32 63.20,61.40 C59.69,66.48 56.48,71.57 53.51,77.40 C50.54,83.23 47.77,89.57 45.37,96.40 C42.97,103.23 40.33,111.07 39.12,118.40 C37.91,125.73 37.54,133.88 38.12,140.40 C38.70,146.92 41.85,154.65 42.60,157.50 C55.76,149.88 70.80,142.60 80.20,142.00 C89.58,142.80 104.58,157.05 117.70,169.00 C117.96,166.73 119.05,161.83 119.24,155.40 C119.43,148.97 119.01,138.73 118.84,130.40 C118.67,122.07 118.58,113.07 118.24,105.40 C117.91,97.73 117.54,90.90 116.84,84.40 C116.14,77.90 115.00,71.73 114.04,66.40 C113.08,61.07 112.28,56.57 111.10,52.40 C109.91,48.23 108.38,44.65 106.92,41.40 C105.45,38.15 103.77,34.70 102.32,32.90 C100.87,31.10 98.89,30.98 98.20,30.60 Z" fill="#030303" stroke="none"/>
<g stroke-linecap="round" fill="none" filter="url(#mriBlur)"><path d="M84.2,90.0 L87.2,98.0" stroke="#a0a0a0" stroke-width="1.4"/><path d="M86.2,100.0 L89.2,108.0" stroke="#d0d0d0" stroke-width="1.8"/><path d="M80.2,106.0 L84.2,112.0" stroke="#e0e0e0" stroke-width="2.0"/><path d="M88.2,112.0 L94.2,120.0" stroke="#f4f4f4" stroke-width="2.4"/><path d="M90.2,118.0 L96.2,128.0" stroke="#e4e4e4" stroke-width="2.2"/><path d="M82.2,116.0 L78.2,124.0" stroke="#c0c0c0" stroke-width="1.8"/><path d="M94.2,110.0 L100.2,114.0" stroke="#cccccc" stroke-width="1.8"/><path d="M96.2,124.0 L102.2,134.0" stroke="#a8a8a8" stroke-width="1.7"/><path d="M76.2,126.0 L70.2,134.0" stroke="#6a6a6a" stroke-width="2.6"/><path d="M72.2,108.0 L66.2,114.0" stroke="#5a5a5a" stroke-width="2.4"/><path d="M100.2,98.0 L104.2,104.0" stroke="#8a8a8a" stroke-width="1.5"/><path d="M86.2,128.0 L88.2,138.0" stroke="#9a9a9a" stroke-width="1.7"/><path d="M78.2,96.0 L74.2,102.0" stroke="#9a9a9a" stroke-width="1.5"/><path d="M92.2,92.0 L95.2,86.0" stroke="#8a8a8a" stroke-width="1.4"/></g>
<path d="M98.20,30.60 C96.99,30.98 93.64,31.52 90.96,32.90 C88.28,34.28 84.88,36.57 82.14,38.90 C79.41,41.23 77.71,43.15 74.55,46.90 C71.39,50.65 66.70,56.32 63.20,61.40 C59.69,66.48 56.48,71.57 53.51,77.40 C50.54,83.23 47.77,89.57 45.37,96.40 C42.97,103.23 40.33,111.07 39.12,118.40 C37.91,125.73 37.54,133.88 38.12,140.40 C38.70,146.92 41.85,154.65 42.60,157.50 C55.76,149.88 70.80,142.60 80.20,142.00 C89.58,142.80 104.58,157.05 117.70,169.00 C117.96,166.73 119.05,161.83 119.24,155.40 C119.43,148.97 119.01,138.73 118.84,130.40 C118.67,122.07 118.58,113.07 118.24,105.40 C117.91,97.73 117.54,90.90 116.84,84.40 C116.14,77.90 115.00,71.73 114.04,66.40 C113.08,61.07 112.28,56.57 111.10,52.40 C109.91,48.23 108.38,44.65 106.92,41.40 C105.45,38.15 103.77,34.70 102.32,32.90 C100.87,31.10 98.89,30.98 98.20,30.60 Z" fill="none" stroke="#fff" stroke-width="1.9"/>
<line x1="58.01" y1="82.50" x2="110.87" y2="82.50" stroke="#E444C6" stroke-width="1.90"/><path d="M114.55,82.50 L109.95,85.03 L109.95,79.97 Z" fill="#E444C6"/><path d="M54.33,82.50 L58.93,85.03 L58.93,79.97 Z" fill="#E444C6"/>
<line x1="45.41" y1="118.00" x2="112.86" y2="118.00" stroke="#8A44B8" stroke-width="1.90"/><path d="M116.54,118.00 L111.94,120.53 L111.94,115.47 Z" fill="#8A44B8"/><path d="M41.73,118.00 L46.33,120.53 L46.33,115.47 Z" fill="#8A44B8"/>
<line x1="85.38" y1="142.50" x2="113.86" y2="142.50" stroke="#FFC20A" stroke-width="2.10"/><path d="M117.54,142.50 L112.94,145.03 L112.94,139.97 Z" fill="#FFC20A"/><path d="M81.70,142.50 L86.30,145.03 L86.30,139.97 Z" fill="#FFC20A"/>
<line x1="44.56" y1="153.62" x2="95.54" y2="35.98" stroke="#1F7FD6" stroke-width="1.90"/><path d="M97.00,32.60 L97.49,37.83 L92.85,35.81 Z" fill="#1F7FD6"/><path d="M43.10,157.00 L47.25,153.79 L42.61,151.77 Z" fill="#1F7FD6"/>
<line x1="80.80" y1="138.37" x2="97.80" y2="35.23" stroke="#F21818" stroke-width="2.10"/><path d="M98.40,31.60 L100.15,36.55 L95.16,35.73 Z" fill="#F21818"/><path d="M80.20,142.00 L83.44,137.87 L78.45,137.05 Z" fill="#F21818"/>
<line x1="116.72" y1="164.55" x2="99.88" y2="36.25" stroke="#1DB054" stroke-width="1.90"/><path d="M99.40,32.60 L102.51,36.83 L97.49,37.49 Z" fill="#1DB054"/><path d="M117.20,168.20 L119.11,163.31 L114.09,163.97 Z" fill="#1DB054"/>
</g>
<g transform="translate(1234.20,62.00)">
<use href="#mriOct"/>
<use href="#mriBody" transform="translate(64,0) scale(0.9267,1) translate(-64,0)"/>
<path d="M99.80,31.30 C98.60,31.68 95.25,32.22 92.60,33.60 C89.95,34.98 86.58,37.27 83.89,39.60 C81.20,41.93 79.53,43.85 76.44,47.60 C73.35,51.35 68.76,57.02 65.35,62.10 C61.94,67.18 58.92,72.27 55.95,78.10 C52.99,83.93 50.04,90.27 47.57,97.10 C45.10,103.93 42.37,111.77 41.13,119.10 C39.89,126.43 39.86,134.95 40.13,141.10 C40.41,147.25 42.36,153.52 42.80,156.00 C55.05,147.50 69.05,138.60 77.80,138.00 C87.22,138.80 102.31,153.05 115.50,165.00 C116.21,159.35 119.13,140.92 119.73,131.10 C120.34,121.28 119.47,113.77 119.13,106.10 C118.80,98.43 118.43,91.60 117.73,85.10 C117.03,78.60 115.86,72.43 114.93,67.10 C114.01,61.77 113.29,57.27 112.18,53.10 C111.07,48.93 109.65,45.35 108.26,42.10 C106.87,38.85 105.28,35.40 103.87,33.60 C102.46,31.80 100.48,31.68 99.80,31.30 Z" fill="#030303" stroke="none"/>
<g stroke-linecap="round" fill="none" filter="url(#mriBlur)"><path d="M85.8,86.0 L88.8,94.0" stroke="#a0a0a0" stroke-width="1.4"/><path d="M87.8,96.0 L90.8,104.0" stroke="#d0d0d0" stroke-width="1.8"/><path d="M81.8,102.0 L85.8,108.0" stroke="#e0e0e0" stroke-width="2.0"/><path d="M89.8,108.0 L95.8,116.0" stroke="#f4f4f4" stroke-width="2.4"/><path d="M91.8,114.0 L97.8,124.0" stroke="#e4e4e4" stroke-width="2.2"/><path d="M83.8,112.0 L79.8,120.0" stroke="#c0c0c0" stroke-width="1.8"/><path d="M95.8,106.0 L101.8,110.0" stroke="#cccccc" stroke-width="1.8"/><path d="M97.8,120.0 L103.8,130.0" stroke="#a8a8a8" stroke-width="1.7"/><path d="M77.8,122.0 L71.8,130.0" stroke="#6a6a6a" stroke-width="2.6"/><path d="M73.8,104.0 L67.8,110.0" stroke="#5a5a5a" stroke-width="2.4"/><path d="M101.8,94.0 L105.8,100.0" stroke="#8a8a8a" stroke-width="1.5"/><path d="M87.8,124.0 L89.8,134.0" stroke="#9a9a9a" stroke-width="1.7"/><path d="M79.8,92.0 L75.8,98.0" stroke="#9a9a9a" stroke-width="1.5"/><path d="M93.8,88.0 L96.8,82.0" stroke="#8a8a8a" stroke-width="1.4"/></g>
<path d="M99.80,31.30 C98.60,31.68 95.25,32.22 92.60,33.60 C89.95,34.98 86.58,37.27 83.89,39.60 C81.20,41.93 79.53,43.85 76.44,47.60 C73.35,51.35 68.76,57.02 65.35,62.10 C61.94,67.18 58.92,72.27 55.95,78.10 C52.99,83.93 50.04,90.27 47.57,97.10 C45.10,103.93 42.37,111.77 41.13,119.10 C39.89,126.43 39.86,134.95 40.13,141.10 C40.41,147.25 42.36,153.52 42.80,156.00 C55.05,147.50 69.05,138.60 77.80,138.00 C87.22,138.80 102.31,153.05 115.50,165.00 C116.21,159.35 119.13,140.92 119.73,131.10 C120.34,121.28 119.47,113.77 119.13,106.10 C118.80,98.43 118.43,91.60 117.73,85.10 C117.03,78.60 115.86,72.43 114.93,67.10 C114.01,61.77 113.29,57.27 112.18,53.10 C111.07,48.93 109.65,45.35 108.26,42.10 C106.87,38.85 105.28,35.40 103.87,33.60 C102.46,31.80 100.48,31.68 99.80,31.30 Z" fill="none" stroke="#fff" stroke-width="1.9"/>
<line x1="60.69" y1="82.50" x2="111.65" y2="82.50" stroke="#E444C6" stroke-width="1.90"/><path d="M115.33,82.50 L110.73,85.03 L110.73,79.97 Z" fill="#E444C6"/><path d="M57.01,82.50 L61.61,85.03 L61.61,79.97 Z" fill="#E444C6"/>
<line x1="47.64" y1="118.00" x2="113.74" y2="118.00" stroke="#8A44B8" stroke-width="1.90"/><path d="M117.42,118.00 L112.82,120.53 L112.82,115.47 Z" fill="#8A44B8"/><path d="M43.96,118.00 L48.56,120.53 L48.56,115.47 Z" fill="#8A44B8"/>
<line x1="82.98" y1="138.50" x2="113.63" y2="138.50" stroke="#FFC20A" stroke-width="2.10"/><path d="M117.31,138.50 L112.71,141.03 L112.71,135.97 Z" fill="#FFC20A"/><path d="M79.30,138.50 L83.90,141.03 L83.90,135.97 Z" fill="#FFC20A"/>
<line x1="44.82" y1="152.15" x2="97.08" y2="36.65" stroke="#1F7FD6" stroke-width="1.90"/><path d="M98.60,33.30 L99.01,38.53 L94.40,36.45 Z" fill="#1F7FD6"/><path d="M43.30,155.50 L47.50,152.35 L42.89,150.27 Z" fill="#1F7FD6"/>
<line x1="78.56" y1="134.40" x2="99.24" y2="35.90" stroke="#F21818" stroke-width="2.10"/><path d="M100.00,32.30 L101.53,37.32 L96.58,36.28 Z" fill="#F21818"/><path d="M77.80,138.00 L81.22,134.02 L76.27,132.98 Z" fill="#F21818"/>
<line x1="114.61" y1="160.54" x2="101.39" y2="36.96" stroke="#1DB054" stroke-width="1.90"/><path d="M101.00,33.30 L104.00,37.60 L98.97,38.14 Z" fill="#1DB054"/><path d="M115.00,164.20 L117.03,159.36 L112.00,159.90 Z" fill="#1DB054"/>
</g>
<g transform="translate(1386.60,62.00)">
<use href="#mriOct"/>
<use href="#mriBody" transform="translate(64,0) scale(0.9175,1) translate(-64,0)"/>
<path d="M100.40,31.90 C99.21,32.28 95.87,32.82 93.24,34.20 C90.62,35.58 87.29,37.87 84.64,40.20 C81.99,42.53 80.36,44.45 77.34,48.20 C74.32,51.95 69.83,57.62 66.51,62.70 C63.19,67.78 60.36,72.87 57.41,78.70 C54.45,84.53 51.31,90.87 48.76,97.70 C46.22,104.53 43.24,111.03 42.15,119.70 C41.06,128.37 42.19,144.70 42.20,149.70 C55.33,142.99 70.33,137.40 79.70,136.80 C88.12,137.60 101.61,147.75 113.40,157.50 C114.44,153.20 118.69,140.17 119.62,131.70 C120.56,123.23 119.36,114.37 119.03,106.70 C118.69,99.03 118.33,92.20 117.62,85.70 C116.92,79.20 115.72,73.03 114.83,67.70 C113.93,62.37 113.30,57.87 112.27,53.70 C111.23,49.53 109.91,45.95 108.61,42.70 C107.30,39.45 105.78,36.00 104.41,34.20 C103.04,32.40 101.07,32.28 100.40,31.90 Z" fill="#030303" stroke="none"/>
<g stroke-linecap="round" fill="none" filter="url(#mriBlur)"><path d="M86.4,84.8 L89.4,92.8" stroke="#a0a0a0" stroke-width="1.4"/><path d="M88.4,94.8 L91.4,102.8" stroke="#d0d0d0" stroke-width="1.8"/><path d="M82.4,100.8 L86.4,106.8" stroke="#e0e0e0" stroke-width="2.0"/><path d="M90.4,106.8 L96.4,114.8" stroke="#f4f4f4" stroke-width="2.4"/><path d="M92.4,112.8 L98.4,122.8" stroke="#e4e4e4" stroke-width="2.2"/><path d="M84.4,110.8 L80.4,118.8" stroke="#c0c0c0" stroke-width="1.8"/><path d="M96.4,104.8 L102.4,108.8" stroke="#cccccc" stroke-width="1.8"/><path d="M98.4,118.8 L104.4,128.8" stroke="#a8a8a8" stroke-width="1.7"/><path d="M78.4,120.8 L72.4,128.8" stroke="#6a6a6a" stroke-width="2.6"/><path d="M74.4,102.8 L68.4,108.8" stroke="#5a5a5a" stroke-width="2.4"/><path d="M102.4,92.8 L106.4,98.8" stroke="#8a8a8a" stroke-width="1.5"/><path d="M88.4,122.8 L90.4,132.8" stroke="#9a9a9a" stroke-width="1.7"/><path d="M80.4,90.8 L76.4,96.8" stroke="#9a9a9a" stroke-width="1.5"/><path d="M94.4,86.8 L97.4,80.8" stroke="#8a8a8a" stroke-width="1.4"/></g>
<path d="M100.40,31.90 C99.21,32.28 95.87,32.82 93.24,34.20 C90.62,35.58 87.29,37.87 84.64,40.20 C81.99,42.53 80.36,44.45 77.34,48.20 C74.32,51.95 69.83,57.62 66.51,62.70 C63.19,67.78 60.36,72.87 57.41,78.70 C54.45,84.53 51.31,90.87 48.76,97.70 C46.22,104.53 43.24,111.03 42.15,119.70 C41.06,128.37 42.19,144.70 42.20,149.70 C55.33,142.99 70.33,137.40 79.70,136.80 C88.12,137.60 101.61,147.75 113.40,157.50 C114.44,153.20 118.69,140.17 119.62,131.70 C120.56,123.23 119.36,114.37 119.03,106.70 C118.69,99.03 118.33,92.20 117.62,85.70 C116.92,79.20 115.72,73.03 114.83,67.70 C113.93,62.37 113.30,57.87 112.27,53.70 C111.23,49.53 109.91,45.95 108.61,42.70 C107.30,39.45 105.78,36.00 104.41,34.20 C103.04,32.40 101.07,32.28 100.40,31.90 Z" fill="none" stroke="#fff" stroke-width="1.9"/>
<line x1="62.36" y1="82.50" x2="111.45" y2="82.50" stroke="#E444C6" stroke-width="1.90"/><path d="M115.13,82.50 L110.53,85.03 L110.53,79.97 Z" fill="#E444C6"/><path d="M58.68,82.50 L63.28,85.03 L63.28,79.97 Z" fill="#E444C6"/>
<line x1="48.84" y1="118.00" x2="113.62" y2="118.00" stroke="#8A44B8" stroke-width="1.90"/><path d="M117.30,118.00 L112.70,120.53 L112.70,115.47 Z" fill="#8A44B8"/><path d="M45.16,118.00 L49.76,120.53 L49.76,115.47 Z" fill="#8A44B8"/>
<line x1="84.88" y1="137.30" x2="113.09" y2="137.30" stroke="#FFC20A" stroke-width="2.10"/><path d="M116.77,137.30 L112.17,139.83 L112.17,134.77 Z" fill="#FFC20A"/><path d="M81.20,137.30 L85.80,139.83 L85.80,134.77 Z" fill="#FFC20A"/>
<line x1="44.32" y1="145.90" x2="97.58" y2="37.20" stroke="#1F7FD6" stroke-width="1.90"/><path d="M99.20,33.90 L99.45,39.14 L94.90,36.92 Z" fill="#1F7FD6"/><path d="M42.70,149.20 L47.00,146.18 L42.45,143.96 Z" fill="#1F7FD6"/>
<line x1="80.43" y1="133.19" x2="99.87" y2="36.51" stroke="#F21818" stroke-width="2.10"/><path d="M100.60,32.90 L102.17,37.91 L97.21,36.91 Z" fill="#F21818"/><path d="M79.70,136.80 L83.09,132.79 L78.13,131.79 Z" fill="#F21818"/>
<line x1="112.56" y1="153.04" x2="101.94" y2="37.56" stroke="#1DB054" stroke-width="1.90"/><path d="M101.60,33.90 L104.54,38.25 L99.50,38.71 Z" fill="#1DB054"/><path d="M112.90,156.70 L115.00,151.89 L109.96,152.35 Z" fill="#1DB054"/>
</g>
<g transform="translate(1539.00,62.00)">
<use href="#mriOct"/>
<use href="#mriBody" transform="translate(64,0) scale(0.9083,1) translate(-64,0)"/>
<path d="M99.00,30.60 C97.81,30.98 94.48,31.52 91.87,32.90 C89.26,34.28 85.97,36.57 83.35,38.90 C80.72,41.23 79.12,43.15 76.14,46.90 C73.17,50.65 68.75,56.32 65.49,61.40 C62.23,66.48 59.48,71.57 56.59,77.40 C53.70,83.23 50.74,89.57 48.17,96.40 C45.60,103.23 42.09,110.17 41.17,118.40 C40.24,126.63 42.36,141.23 42.60,145.80 C53.24,139.82 65.40,135.60 73.00,135.00 C84.00,135.80 101.60,146.15 117.00,156.00 C117.09,151.73 117.53,138.83 117.52,130.40 C117.50,121.97 117.25,113.07 116.92,105.40 C116.58,97.73 116.22,90.90 115.52,84.40 C114.82,77.90 113.58,71.73 112.72,66.40 C111.86,61.07 111.31,56.57 110.35,52.40 C109.39,48.23 108.18,44.65 106.95,41.40 C105.72,38.15 104.28,34.70 102.96,32.90 C101.63,31.10 99.66,30.98 99.00,30.60 Z" fill="#030303" stroke="none"/>
<g stroke-linecap="round" fill="none" filter="url(#mriBlur)"><path d="M85.0,83.0 L88.0,91.0" stroke="#a0a0a0" stroke-width="1.4"/><path d="M87.0,93.0 L90.0,101.0" stroke="#d0d0d0" stroke-width="1.8"/><path d="M81.0,99.0 L85.0,105.0" stroke="#e0e0e0" stroke-width="2.0"/><path d="M89.0,105.0 L95.0,113.0" stroke="#f4f4f4" stroke-width="2.4"/><path d="M91.0,111.0 L97.0,121.0" stroke="#e4e4e4" stroke-width="2.2"/><path d="M83.0,109.0 L79.0,117.0" stroke="#c0c0c0" stroke-width="1.8"/><path d="M95.0,103.0 L101.0,107.0" stroke="#cccccc" stroke-width="1.8"/><path d="M97.0,117.0 L103.0,127.0" stroke="#a8a8a8" stroke-width="1.7"/><path d="M77.0,119.0 L71.0,127.0" stroke="#6a6a6a" stroke-width="2.6"/><path d="M73.0,101.0 L67.0,107.0" stroke="#5a5a5a" stroke-width="2.4"/><path d="M101.0,91.0 L105.0,97.0" stroke="#8a8a8a" stroke-width="1.5"/><path d="M87.0,121.0 L89.0,131.0" stroke="#9a9a9a" stroke-width="1.7"/><path d="M79.0,89.0 L75.0,95.0" stroke="#9a9a9a" stroke-width="1.5"/><path d="M93.0,85.0 L96.0,79.0" stroke="#8a8a8a" stroke-width="1.4"/></g>
<path d="M99.00,30.60 C97.81,30.98 94.48,31.52 91.87,32.90 C89.26,34.28 85.97,36.57 83.35,38.90 C80.72,41.23 79.12,43.15 76.14,46.90 C73.17,50.65 68.75,56.32 65.49,61.40 C62.23,66.48 59.48,71.57 56.59,77.40 C53.70,83.23 50.74,89.57 48.17,96.40 C45.60,103.23 42.09,110.17 41.17,118.40 C40.24,126.63 42.36,141.23 42.60,145.80 C53.24,139.82 65.40,135.60 73.00,135.00 C84.00,135.80 101.60,146.15 117.00,156.00 C117.09,151.73 117.53,138.83 117.52,130.40 C117.50,121.97 117.25,113.07 116.92,105.40 C116.58,97.73 116.22,90.90 115.52,84.40 C114.82,77.90 113.58,71.73 112.72,66.40 C111.86,61.07 111.31,56.57 110.35,52.40 C109.39,48.23 108.18,44.65 106.95,41.40 C105.72,38.15 104.28,34.70 102.96,32.90 C101.63,31.10 99.66,30.98 99.00,30.60 Z" fill="none" stroke="#fff" stroke-width="1.9"/>
<line x1="61.01" y1="82.50" x2="109.54" y2="82.50" stroke="#E444C6" stroke-width="1.90"/><path d="M113.22,82.50 L108.62,85.03 L108.62,79.97 Z" fill="#E444C6"/><path d="M57.33,82.50 L61.93,85.03 L61.93,79.97 Z" fill="#E444C6"/>
<line x1="47.47" y1="118.00" x2="111.54" y2="118.00" stroke="#8A44B8" stroke-width="1.90"/><path d="M115.22,118.00 L110.62,120.53 L110.62,115.47 Z" fill="#8A44B8"/><path d="M43.79,118.00 L48.39,120.53 L48.39,115.47 Z" fill="#8A44B8"/>
<line x1="78.18" y1="135.50" x2="112.23" y2="135.50" stroke="#FFC20A" stroke-width="2.10"/><path d="M115.91,135.50 L111.31,138.03 L111.31,132.97 Z" fill="#FFC20A"/><path d="M74.50,135.50 L79.10,138.03 L79.10,132.97 Z" fill="#FFC20A"/>
<line x1="44.71" y1="141.99" x2="96.19" y2="35.91" stroke="#1F7FD6" stroke-width="1.90"/><path d="M97.80,32.60 L98.07,37.84 L93.52,35.63 Z" fill="#1F7FD6"/><path d="M43.10,145.30 L47.38,142.27 L42.83,140.06 Z" fill="#1F7FD6"/>
<line x1="73.90" y1="131.43" x2="98.30" y2="35.17" stroke="#F21818" stroke-width="2.10"/><path d="M99.20,31.60 L100.52,36.68 L95.62,35.44 Z" fill="#F21818"/><path d="M73.00,135.00 L76.58,131.16 L71.68,129.92 Z" fill="#F21818"/>
<line x1="116.02" y1="151.55" x2="100.68" y2="36.25" stroke="#1DB054" stroke-width="1.90"/><path d="M100.20,32.60 L103.31,36.83 L98.30,37.49 Z" fill="#1DB054"/><path d="M116.50,155.20 L118.40,150.31 L113.39,150.97 Z" fill="#1DB054"/>
</g>
<g transform="translate(1691.40,62.00)">
<use href="#mriOct"/>
<use href="#mriBody" transform="translate(64,0) scale(0.8992,1) translate(-64,0)"/>
<path d="M100.60,29.30 C99.42,29.68 96.09,30.22 93.50,31.60 C90.91,32.98 87.64,35.27 85.04,37.60 C82.45,39.93 80.87,41.85 77.94,45.60 C75.00,49.35 70.66,55.02 67.46,60.10 C64.26,65.18 61.55,70.27 58.74,76.10 C55.93,81.93 53.17,88.27 50.60,95.10 C48.03,101.93 44.21,109.72 43.30,117.10 C42.38,124.48 44.80,135.68 45.10,139.40 C56.82,132.37 70.22,126.20 78.60,125.60 C87.10,126.40 100.70,142.21 112.60,155.00 C113.57,150.68 117.54,137.58 118.41,129.10 C119.28,120.62 118.14,111.77 117.81,104.10 C117.47,96.43 117.11,89.60 116.41,83.10 C115.71,76.60 114.44,70.43 113.61,65.10 C112.78,59.77 112.32,55.27 111.44,51.10 C110.55,46.93 109.45,43.35 108.29,40.10 C107.14,36.85 105.79,33.40 104.50,31.60 C103.22,29.80 101.25,29.68 100.60,29.30 Z" fill="#030303" stroke="none"/>
<g stroke-linecap="round" fill="none" filter="url(#mriBlur)"><path d="M86.6,73.6 L89.6,81.6" stroke="#a0a0a0" stroke-width="1.4"/><path d="M88.6,83.6 L91.6,91.6" stroke="#d0d0d0" stroke-width="1.8"/><path d="M82.6,89.6 L86.6,95.6" stroke="#e0e0e0" stroke-width="2.0"/><path d="M90.6,95.6 L96.6,103.6" stroke="#f4f4f4" stroke-width="2.4"/><path d="M92.6,101.6 L98.6,111.6" stroke="#e4e4e4" stroke-width="2.2"/><path d="M84.6,99.6 L80.6,107.6" stroke="#c0c0c0" stroke-width="1.8"/><path d="M96.6,93.6 L102.6,97.6" stroke="#cccccc" stroke-width="1.8"/><path d="M98.6,107.6 L104.6,117.6" stroke="#a8a8a8" stroke-width="1.7"/><path d="M78.6,109.6 L72.6,117.6" stroke="#6a6a6a" stroke-width="2.6"/><path d="M74.6,91.6 L68.6,97.6" stroke="#5a5a5a" stroke-width="2.4"/><path d="M102.6,81.6 L106.6,87.6" stroke="#8a8a8a" stroke-width="1.5"/><path d="M88.6,111.6 L90.6,121.6" stroke="#9a9a9a" stroke-width="1.7"/><path d="M80.6,79.6 L76.6,85.6" stroke="#9a9a9a" stroke-width="1.5"/><path d="M94.6,75.6 L97.6,69.6" stroke="#8a8a8a" stroke-width="1.4"/></g>
<path d="M100.60,29.30 C99.42,29.68 96.09,30.22 93.50,31.60 C90.91,32.98 87.64,35.27 85.04,37.60 C82.45,39.93 80.87,41.85 77.94,45.60 C75.00,49.35 70.66,55.02 67.46,60.10 C64.26,65.18 61.55,70.27 58.74,76.10 C55.93,81.93 53.17,88.27 50.60,95.10 C48.03,101.93 44.21,109.72 43.30,117.10 C42.38,124.48 44.80,135.68 45.10,139.40 C56.82,132.37 70.22,126.20 78.60,125.60 C87.10,126.40 100.70,142.21 112.60,155.00 C113.57,150.68 117.54,137.58 118.41,129.10 C119.28,120.62 118.14,111.77 117.81,104.10 C117.47,96.43 117.11,89.60 116.41,83.10 C115.71,76.60 114.44,70.43 113.61,65.10 C112.78,59.77 112.32,55.27 111.44,51.10 C110.55,46.93 109.45,43.35 108.29,40.10 C107.14,36.85 105.79,33.40 104.50,31.60 C103.22,29.80 101.25,29.68 100.60,29.30 Z" fill="none" stroke="#fff" stroke-width="1.9"/>
<line x1="62.68" y1="82.50" x2="110.63" y2="82.50" stroke="#E444C6" stroke-width="1.90"/><path d="M114.31,82.50 L109.71,85.03 L109.71,79.97 Z" fill="#E444C6"/><path d="M59.00,82.50 L63.60,85.03 L63.60,79.97 Z" fill="#E444C6"/>
<line x1="49.55" y1="118.00" x2="112.46" y2="118.00" stroke="#8A44B8" stroke-width="1.90"/><path d="M116.14,118.00 L111.54,120.53 L111.54,115.47 Z" fill="#8A44B8"/><path d="M45.87,118.00 L50.47,120.53 L50.47,115.47 Z" fill="#8A44B8"/>
<line x1="83.78" y1="126.10" x2="113.16" y2="126.10" stroke="#FFC20A" stroke-width="2.10"/><path d="M116.84,126.10 L112.24,128.63 L112.24,123.57 Z" fill="#FFC20A"/><path d="M80.10,126.10 L84.70,128.63 L84.70,123.57 Z" fill="#FFC20A"/>
<line x1="47.25" y1="135.61" x2="97.75" y2="34.59" stroke="#1F7FD6" stroke-width="1.90"/><path d="M99.40,31.30 L99.61,36.55 L95.08,34.28 Z" fill="#1F7FD6"/><path d="M45.60,138.90 L49.92,135.92 L45.39,133.65 Z" fill="#1F7FD6"/>
<line x1="79.43" y1="122.02" x2="99.97" y2="33.88" stroke="#F21818" stroke-width="2.10"/><path d="M100.80,30.30 L102.22,35.35 L97.29,34.21 Z" fill="#F21818"/><path d="M78.60,125.60 L82.11,121.69 L77.18,120.55 Z" fill="#F21818"/>
<line x1="111.79" y1="150.53" x2="102.11" y2="34.97" stroke="#1DB054" stroke-width="1.90"/><path d="M101.80,31.30 L104.71,35.67 L99.66,36.10 Z" fill="#1DB054"/><path d="M112.10,154.20 L114.24,149.40 L109.19,149.83 Z" fill="#1DB054"/>
</g>
<g transform="translate(1843.80,62.00)">
<use href="#mriOct"/>
<use href="#mriBody" transform="translate(64,0) scale(0.8900,1) translate(-64,0)"/>
<path d="M99.90,29.30 C98.72,29.68 95.41,30.22 92.84,31.60 C90.27,32.98 87.03,35.27 84.47,37.60 C81.92,39.93 80.36,41.85 77.49,45.60 C74.62,49.35 70.36,55.02 67.24,60.10 C64.13,65.18 61.56,70.27 58.78,76.10 C56.00,81.93 53.21,88.27 50.58,95.10 C47.95,101.93 44.31,110.15 43.03,117.10 C41.74,124.05 42.92,133.52 42.90,136.80 C54.69,130.47 68.17,125.60 76.60,125.00 C85.35,125.80 99.35,134.20 111.60,143.00 C112.50,140.68 116.20,135.58 117.00,129.10 C117.80,122.62 116.73,111.77 116.40,104.10 C116.07,96.43 115.70,89.60 115.00,83.10 C114.30,76.60 113.00,70.43 112.20,65.10 C111.40,59.77 111.03,55.27 110.22,51.10 C109.41,46.93 108.42,43.35 107.34,40.10 C106.26,36.85 104.99,33.40 103.75,31.60 C102.51,29.80 100.54,29.68 99.90,29.30 Z" fill="#030303" stroke="none"/>
<g stroke-linecap="round" fill="none" filter="url(#mriBlur)"><path d="M85.9,73.0 L88.9,81.0" stroke="#a0a0a0" stroke-width="1.4"/><path d="M87.9,83.0 L90.9,91.0" stroke="#d0d0d0" stroke-width="1.8"/><path d="M81.9,89.0 L85.9,95.0" stroke="#e0e0e0" stroke-width="2.0"/><path d="M89.9,95.0 L95.9,103.0" stroke="#f4f4f4" stroke-width="2.4"/><path d="M91.9,101.0 L97.9,111.0" stroke="#e4e4e4" stroke-width="2.2"/><path d="M83.9,99.0 L79.9,107.0" stroke="#c0c0c0" stroke-width="1.8"/><path d="M95.9,93.0 L101.9,97.0" stroke="#cccccc" stroke-width="1.8"/><path d="M97.9,107.0 L103.9,117.0" stroke="#a8a8a8" stroke-width="1.7"/><path d="M77.9,109.0 L71.9,117.0" stroke="#6a6a6a" stroke-width="2.6"/><path d="M73.9,91.0 L67.9,97.0" stroke="#5a5a5a" stroke-width="2.4"/><path d="M101.9,81.0 L105.9,87.0" stroke="#8a8a8a" stroke-width="1.5"/><path d="M87.9,111.0 L89.9,121.0" stroke="#9a9a9a" stroke-width="1.7"/><path d="M79.9,79.0 L75.9,85.0" stroke="#9a9a9a" stroke-width="1.5"/><path d="M93.9,75.0 L96.9,69.0" stroke="#8a8a8a" stroke-width="1.4"/></g>
<path d="M99.90,29.30 C98.72,29.68 95.41,30.22 92.84,31.60 C90.27,32.98 87.03,35.27 84.47,37.60 C81.92,39.93 80.36,41.85 77.49,45.60 C74.62,49.35 70.36,55.02 67.24,60.10 C64.13,65.18 61.56,70.27 58.78,76.10 C56.00,81.93 53.21,88.27 50.58,95.10 C47.95,101.93 44.31,110.15 43.03,117.10 C41.74,124.05 42.92,133.52 42.90,136.80 C54.69,130.47 68.17,125.60 76.60,125.00 C85.35,125.80 99.35,134.20 111.60,143.00 C112.50,140.68 116.20,135.58 117.00,129.10 C117.80,122.62 116.73,111.77 116.40,104.10 C116.07,96.43 115.70,89.60 115.00,83.10 C114.30,76.60 113.00,70.43 112.20,65.10 C111.40,59.77 111.03,55.27 110.22,51.10 C109.41,46.93 108.42,43.35 107.34,40.10 C106.26,36.85 104.99,33.40 103.75,31.60 C102.51,29.80 100.54,29.68 99.90,29.30 Z" fill="none" stroke="#fff" stroke-width="1.9"/>
<line x1="62.70" y1="82.50" x2="109.23" y2="82.50" stroke="#E444C6" stroke-width="1.90"/><path d="M112.91,82.50 L108.31,85.03 L108.31,79.97 Z" fill="#E444C6"/><path d="M59.02,82.50 L63.62,85.03 L63.62,79.97 Z" fill="#E444C6"/>
<line x1="49.20" y1="118.00" x2="111.05" y2="118.00" stroke="#8A44B8" stroke-width="1.90"/><path d="M114.73,118.00 L110.13,120.53 L110.13,115.47 Z" fill="#8A44B8"/><path d="M45.52,118.00 L50.12,120.53 L50.12,115.47 Z" fill="#8A44B8"/>
<line x1="81.78" y1="125.50" x2="111.73" y2="125.50" stroke="#FFC20A" stroke-width="2.10"/><path d="M115.41,125.50 L110.81,128.03 L110.81,122.97 Z" fill="#FFC20A"/><path d="M78.10,125.50 L82.70,128.03 L82.70,122.97 Z" fill="#FFC20A"/>
<line x1="45.11" y1="133.04" x2="96.99" y2="34.56" stroke="#1F7FD6" stroke-width="1.90"/><path d="M98.70,31.30 L98.79,36.55 L94.32,34.19 Z" fill="#1F7FD6"/><path d="M43.40,136.30 L47.78,133.41 L43.31,131.05 Z" fill="#1F7FD6"/>
<line x1="77.49" y1="121.43" x2="99.21" y2="33.87" stroke="#F21818" stroke-width="2.10"/><path d="M100.10,30.30 L101.45,35.37 L96.54,34.16 Z" fill="#F21818"/><path d="M76.60,125.00 L80.16,121.14 L75.25,119.93 Z" fill="#F21818"/>
<line x1="110.77" y1="138.53" x2="101.43" y2="34.97" stroke="#1DB054" stroke-width="1.90"/><path d="M101.10,31.30 L104.03,35.65 L98.99,36.11 Z" fill="#1DB054"/><path d="M111.10,142.20 L113.21,137.39 L108.17,137.85 Z" fill="#1DB054"/>
</g>
</g>
<path d="M25.7,280.5 L25.7,430.6 L87.5,430.6 L87.5,442.5 L108.3,419.8 L87.5,397.3 L87.5,409.3 L46.5,409.3 L46.5,280.5" fill="none" stroke="#2F5597" stroke-width="3.1" stroke-linejoin="miter"/>
<path d="M638.5,499 L697,499 L697,486.5 L720.5,510.8 L697,535.5 L697,522.6 L638.5,522.6 Z" fill="none" stroke="#2F5597" stroke-width="3.1" stroke-linejoin="miter"/>
<path d="M1122.4,487.6 L1728.6,487.6 L1728.6,730 L1762.5,730 L1717.4,763 L1672.7,730 L1706.6,730 L1706.6,509 L1122.4,509 Z" fill="none" stroke="#2F5597" stroke-width="2.9" stroke-linejoin="miter"/>
<path d="M211.6,712 L234,712 L234,770 L247.5,770 L222.5,793.3 L197.3,770 L211.6,770 Z" fill="none" stroke="#2F5597" stroke-width="3.1" stroke-linejoin="miter"/>
<path d="M518,1078 L576.5,1078 L576.5,1066 L600.3,1089.6 L576.5,1113.6 L576.5,1100.3 L518,1100.3 Z" fill="none" stroke="#2F5597" stroke-width="3.1" stroke-linejoin="miter"/>
<line x1="163.70" y1="383.30" x2="582.80" y2="383.30" stroke="#BFBFBF" stroke-width="1.40"/>
<line x1="170.30" y1="378.00" x2="170.30" y2="383.30" stroke="#BFBFBF" stroke-width="1.20"/>
<line x1="253.10" y1="378.00" x2="253.10" y2="383.30" stroke="#BFBFBF" stroke-width="1.20"/>
<line x1="335.30" y1="378.00" x2="335.30" y2="383.30" stroke="#BFBFBF" stroke-width="1.20"/>
<line x1="417.40" y1="378.00" x2="417.40" y2="383.30" stroke="#BFBFBF" stroke-width="1.20"/>
<line x1="500.00" y1="378.00" x2="500.00" y2="383.30" stroke="#BFBFBF" stroke-width="1.20"/>
<line x1="582.20" y1="378.00" x2="582.20" y2="383.30" stroke="#BFBFBF" stroke-width="1.20"/>
<line x1="170.30" y1="383.30" x2="170.30" y2="729.00" stroke="#BFBFBF" stroke-width="1.40"/>
<line x1="164.60" y1="453.00" x2="170.30" y2="453.00" stroke="#BFBFBF" stroke-width="1.20"/>
<line x1="164.60" y1="521.70" x2="170.30" y2="521.70" stroke="#BFBFBF" stroke-width="1.20"/>
<line x1="164.60" y1="590.90" x2="170.30" y2="590.90" stroke="#BFBFBF" stroke-width="1.20"/>
<line x1="164.60" y1="659.60" x2="170.30" y2="659.60" stroke="#BFBFBF" stroke-width="1.20"/>
<line x1="164.60" y1="728.50" x2="170.30" y2="728.50" stroke="#BFBFBF" stroke-width="1.20"/>
<text x="338.72" y="325.80" font-size="22.50" textLength="96.27" lengthAdjust="spacingAndGlyphs" style='font-family:"Liberation Sans", Arial, sans-serif;font-weight:bold;' fill="#000">time in s</text>
<text x="243.80" y="359.70" font-size="23.30" textLength="23.19" lengthAdjust="spacingAndGlyphs" style='font-family:"Liberation Sans", Arial, sans-serif;' fill="#262626">2s</text>
<text x="329.11" y="359.70" font-size="23.30" textLength="22.46" lengthAdjust="spacingAndGlyphs" style='font-family:"Liberation Sans", Arial, sans-serif;' fill="#262626">4s</text>
<text x="406.96" y="359.70" font-size="23.30" textLength="23.54" lengthAdjust="spacingAndGlyphs" style='font-family:"Liberation Sans", Arial, sans-serif;' fill="#262626">6s</text>
<text x="490.05" y="359.70" font-size="23.30" textLength="23.24" lengthAdjust="spacingAndGlyphs" style='font-family:"Liberation Sans", Arial, sans-serif;' fill="#262626">8s</text>
<text x="574.79" y="359.70" font-size="23.30" textLength="36.33" lengthAdjust="spacingAndGlyphs" style='font-family:"Liberation Sans", Arial, sans-serif;' fill="#262626">10s</text>
<text x="141.98" y="389.50" font-size="17.80" textLength="11.68" lengthAdjust="spacingAndGlyphs" style='font-family:"Liberation Sans", Arial, sans-serif;font-weight:bold;' fill="#404040">0</text>
<text x="142.80" y="459.20" font-size="17.80" textLength="10.74" lengthAdjust="spacingAndGlyphs" style='font-family:"Liberation Sans", Arial, sans-serif;font-weight:bold;' fill="#404040">5</text>
<text x="132.92" y="527.90" font-size="17.80" textLength="20.86" lengthAdjust="spacingAndGlyphs" style='font-family:"Liberation Sans", Arial, sans-serif;font-weight:bold;' fill="#404040">10</text>
<text x="132.93" y="597.10" font-size="17.80" textLength="20.59" lengthAdjust="spacingAndGlyphs" style='font-family:"Liberation Sans", Arial, sans-serif;font-weight:bold;' fill="#404040">15</text>
<text x="133.46" y="665.80" font-size="17.80" textLength="20.29" lengthAdjust="spacingAndGlyphs" style='font-family:"Liberation Sans", Arial, sans-serif;font-weight:bold;' fill="#404040">20</text>
<text x="133.47" y="734.70" font-size="17.80" textLength="20.04" lengthAdjust="spacingAndGlyphs" style='font-family:"Liberation Sans", Arial, sans-serif;font-weight:bold;' fill="#404040">25</text>
<g transform="translate(121.6,528.4) rotate(-90)"><text x="-1.03" y="0.00" font-size="27.50" textLength="38.07" lengthAdjust="spacingAndGlyphs" style='font-family:"Liberation Sans", Arial, sans-serif;font-weight:bold;' fill="#000">cm</text></g>
<text x="199.00" y="431.80" font-size="37.50" textLength="154.52" lengthAdjust="spacingAndGlyphs" style='font-family:"Liberation Sans", Arial, sans-serif;' fill="#000">Raw data</text>
<path d="M170.2,486.5 C171.2,486.5 174.2,486.3 176.3,486.2 C178.3,486.1 180.3,486.0 182.3,486.0 C184.3,485.9 186.4,485.8 188.4,485.7 C190.4,485.6 192.4,485.5 194.5,485.4 C196.5,485.3 198.5,485.3 200.5,485.2 C202.5,485.1 204.6,485.0 206.6,484.9 C208.6,484.8 210.6,484.8 212.6,484.7 C214.7,484.6 216.7,484.5 218.7,484.4 C220.7,484.3 222.7,484.3 224.8,484.2 C226.8,484.1 228.8,484.0 230.8,483.9 C232.9,483.9 234.9,483.8 236.9,483.7 C238.9,483.6 240.9,483.5 243.0,483.4 C245.0,483.4 247.0,483.3 249.0,483.2 C251.0,483.1 253.1,483.0 255.1,482.9 C257.1,482.9 259.1,482.8 261.1,482.7 C263.2,482.6 265.2,482.5 267.2,482.5 C269.2,482.4 271.3,482.3 273.3,482.2 C275.3,482.1 277.3,482.0 279.3,481.9 C281.4,481.9 283.4,481.8 285.4,481.7 C287.4,481.6 289.4,481.5 291.5,481.4 C293.5,481.3 295.5,481.2 297.5,481.1 C299.5,481.1 301.6,481.0 303.6,480.9 C305.6,480.8 307.6,480.7 309.7,480.6 C311.7,480.5 313.7,480.4 315.7,480.3 C317.7,480.2 319.8,480.1 321.8,480.0 C323.8,479.9 325.8,479.8 327.8,479.7 C329.9,479.6 331.9,479.5 333.9,479.4 C335.9,479.3 337.9,479.2 340.0,479.1 C342.0,479.0 344.0,478.9 346.0,478.8 C348.1,478.7 350.1,478.6 352.1,478.4 C354.1,478.3 356.1,478.2 358.2,478.1 C360.2,478.0 362.2,477.9 364.2,477.8 C366.2,477.6 368.3,477.5 370.3,477.4 C372.3,477.3 374.3,477.1 376.4,477.0 C378.4,476.9 380.4,476.8 382.4,476.6 C384.4,476.5 386.5,476.4 388.5,476.2 C390.5,476.1 392.5,476.0 394.5,475.8 C396.6,475.7 398.6,475.6 400.6,475.4 C402.6,475.3 404.6,475.1 406.7,475.0 C408.7,474.9 410.7,474.7 412.7,474.6 C414.8,474.4 416.8,474.3 418.8,474.1 C420.8,474.0 422.8,473.8 424.9,473.7 C426.9,473.6 428.9,473.4 430.9,473.3 C432.9,473.1 435.0,473.0 437.0,472.8 C439.0,472.7 441.0,472.5 443.0,472.4 C445.1,472.2 447.1,472.1 449.1,472.0 C451.1,471.8 453.2,471.7 455.2,471.5 C457.2,471.4 459.2,471.2 461.2,471.1 C463.3,470.9 465.3,470.8 467.3,470.7 C469.3,470.5 471.3,470.4 473.4,470.3 C475.4,470.1 477.4,470.0 479.4,469.8 C481.4,469.7 483.5,469.6 485.5,469.4 C487.5,469.3 489.5,469.2 491.6,469.1 C493.6,468.9 495.6,468.8 497.6,468.7 C499.6,468.6 501.7,468.4 503.7,468.3 C505.7,468.2 507.7,468.1 509.7,468.0 C511.8,467.9 513.8,467.8 515.8,467.7 C517.8,467.5 519.8,467.4 521.9,467.3 C523.9,467.2 525.9,467.1 527.9,467.1 C530.0,467.0 532.0,466.9 534.0,466.8 C536.0,466.7 538.0,466.6 540.1,466.5 C542.1,466.5 544.1,466.4 546.1,466.3 C548.1,466.2 550.2,466.2 552.2,466.1 C554.2,466.0 556.2,466.0 558.2,465.9 C560.3,465.9 562.3,465.8 564.3,465.8 C566.3,465.7 568.4,465.7 570.4,465.7 C572.4,465.6 574.4,465.6 576.4,465.6 C578.5,465.5 581.5,465.5 582.5,465.5" fill="none" stroke="#FFC000" stroke-width="3.20" stroke-linecap="round" stroke-linejoin="round"/>
<path d="M170.2,536.8 C171.2,536.7 174.2,536.5 176.3,536.4 C178.3,536.2 180.3,536.1 182.3,535.9 C184.3,535.8 186.4,535.6 188.4,535.5 C190.4,535.4 192.4,535.2 194.5,535.1 C196.5,534.9 198.5,534.8 200.5,534.6 C202.5,534.5 204.6,534.4 206.6,534.2 C208.6,534.1 210.6,533.9 212.6,533.8 C214.7,533.7 216.7,533.5 218.7,533.4 C220.7,533.2 222.7,533.1 224.8,533.0 C226.8,532.8 228.8,532.7 230.8,532.6 C232.9,532.4 234.9,532.3 236.9,532.1 C238.9,532.0 240.9,531.9 243.0,531.7 C245.0,531.6 247.0,531.5 249.0,531.4 C251.0,531.2 253.1,531.1 255.1,531.0 C257.1,530.8 259.1,530.7 261.1,530.6 C263.2,530.5 265.2,530.3 267.2,530.2 C269.2,530.1 271.3,530.0 273.3,529.8 C275.3,529.7 277.3,529.6 279.3,529.5 C281.4,529.3 283.4,529.2 285.4,529.1 C287.4,529.0 289.4,528.9 291.5,528.8 C293.5,528.6 295.5,528.5 297.5,528.4 C299.5,528.3 301.6,528.2 303.6,528.1 C305.6,528.0 307.6,527.9 309.7,527.8 C311.7,527.6 313.7,527.5 315.7,527.4 C317.7,527.3 319.8,527.2 321.8,527.1 C323.8,527.0 325.8,526.9 327.8,526.8 C329.9,526.7 331.9,526.6 333.9,526.5 C335.9,526.4 337.9,526.3 340.0,526.2 C342.0,526.2 344.0,526.1 346.0,526.0 C348.1,525.9 350.1,525.8 352.1,525.7 C354.1,525.6 356.1,525.5 358.2,525.5 C360.2,525.4 362.2,525.3 364.2,525.2 C366.2,525.1 368.3,525.1 370.3,525.0 C372.3,524.9 374.3,524.8 376.4,524.8 C378.4,524.7 380.4,524.6 382.4,524.6 C384.4,524.5 386.5,524.4 388.5,524.4 C390.5,524.3 392.5,524.2 394.5,524.2 C396.6,524.1 398.6,524.0 400.6,523.9 C402.6,523.9 404.6,523.8 406.7,523.7 C408.7,523.6 410.7,523.5 412.7,523.4 C414.8,523.3 416.8,523.2 418.8,523.1 C420.8,523.0 422.8,522.9 424.9,522.8 C426.9,522.6 428.9,522.5 430.9,522.3 C432.9,522.2 435.0,522.0 437.0,521.8 C439.0,521.6 441.0,521.4 443.0,521.2 C445.1,521.0 447.1,520.8 449.1,520.6 C451.1,520.3 453.2,520.1 455.2,519.9 C457.2,519.6 459.2,519.4 461.2,519.1 C463.3,518.9 465.3,518.6 467.3,518.3 C469.3,518.1 471.3,517.8 473.4,517.6 C475.4,517.3 477.4,517.0 479.4,516.8 C481.4,516.5 483.5,516.3 485.5,516.0 C487.5,515.8 489.5,515.5 491.6,515.3 C493.6,515.0 495.6,514.8 497.6,514.5 C499.6,514.3 501.7,514.0 503.7,513.8 C505.7,513.6 507.7,513.3 509.7,513.1 C511.8,512.9 513.8,512.7 515.8,512.5 C517.8,512.2 519.8,512.0 521.9,511.8 C523.9,511.6 525.9,511.4 527.9,511.2 C530.0,511.1 532.0,510.9 534.0,510.7 C536.0,510.5 538.0,510.4 540.1,510.2 C542.1,510.0 544.1,509.9 546.1,509.8 C548.1,509.6 550.2,509.5 552.2,509.4 C554.2,509.2 556.2,509.1 558.2,509.0 C560.3,508.9 562.3,508.8 564.3,508.7 C566.3,508.7 568.4,508.6 570.4,508.5 C572.4,508.5 574.4,508.4 576.4,508.4 C578.5,508.3 581.5,508.3 582.5,508.3" fill="none" stroke="#D1008B" stroke-width="3.20" stroke-linecap="round" stroke-linejoin="round"/>
<path d="M170.2,560.0 C171.2,559.8 174.2,559.3 176.3,558.9 C178.3,558.6 180.3,558.3 182.3,558.0 C184.3,557.7 186.4,557.4 188.4,557.1 C190.4,556.9 192.4,556.6 194.5,556.4 C196.5,556.1 198.5,555.9 200.5,555.7 C202.5,555.5 204.6,555.3 206.6,555.1 C208.6,554.9 210.6,554.7 212.6,554.6 C214.7,554.4 216.7,554.2 218.7,554.1 C220.7,553.9 222.7,553.8 224.8,553.7 C226.8,553.6 228.8,553.4 230.8,553.3 C232.9,553.2 234.9,553.1 236.9,553.0 C238.9,553.0 240.9,552.9 243.0,552.8 C245.0,552.7 247.0,552.7 249.0,552.6 C251.0,552.5 253.1,552.5 255.1,552.4 C257.1,552.4 259.1,552.3 261.1,552.3 C263.2,552.2 265.2,552.2 267.2,552.2 C269.2,552.1 271.3,552.1 273.3,552.1 C275.3,552.0 277.3,552.0 279.3,552.0 C281.4,552.0 283.4,551.9 285.4,551.9 C287.4,551.9 289.4,551.8 291.5,551.8 C293.5,551.8 295.5,551.7 297.5,551.7 C299.5,551.7 301.6,551.6 303.6,551.6 C305.6,551.5 307.6,551.5 309.7,551.4 C311.7,551.4 313.7,551.3 315.7,551.2 C317.7,551.1 319.8,551.1 321.8,551.0 C323.8,550.9 325.8,550.8 327.8,550.6 C329.9,550.5 331.9,550.4 333.9,550.3 C335.9,550.2 337.9,550.0 340.0,549.9 C342.0,549.7 344.0,549.6 346.0,549.4 C348.1,549.3 350.1,549.1 352.1,548.9 C354.1,548.8 356.1,548.6 358.2,548.4 C360.2,548.3 362.2,548.1 364.2,547.9 C366.2,547.7 368.3,547.5 370.3,547.4 C372.3,547.2 374.3,547.0 376.4,546.8 C378.4,546.6 380.4,546.4 382.4,546.3 C384.4,546.1 386.5,545.9 388.5,545.7 C390.5,545.5 392.5,545.4 394.5,545.2 C396.6,545.0 398.6,544.8 400.6,544.6 C402.6,544.5 404.6,544.3 406.7,544.1 C408.7,543.9 410.7,543.8 412.7,543.6 C414.8,543.4 416.8,543.2 418.8,543.1 C420.8,542.9 422.8,542.7 424.9,542.6 C426.9,542.4 428.9,542.2 430.9,542.1 C432.9,541.9 435.0,541.7 437.0,541.6 C439.0,541.4 441.0,541.3 443.0,541.1 C445.1,541.0 447.1,540.8 449.1,540.7 C451.1,540.5 453.2,540.4 455.2,540.2 C457.2,540.1 459.2,539.9 461.2,539.8 C463.3,539.6 465.3,539.5 467.3,539.4 C469.3,539.2 471.3,539.1 473.4,539.0 C475.4,538.8 477.4,538.7 479.4,538.6 C481.4,538.5 483.5,538.3 485.5,538.2 C487.5,538.1 489.5,538.0 491.6,537.9 C493.6,537.8 495.6,537.6 497.6,537.5 C499.6,537.4 501.7,537.3 503.7,537.2 C505.7,537.0 507.7,536.9 509.7,536.8 C511.8,536.7 513.8,536.6 515.8,536.4 C517.8,536.3 519.8,536.2 521.9,536.0 C523.9,535.9 525.9,535.7 527.9,535.6 C530.0,535.4 532.0,535.3 534.0,535.1 C536.0,534.9 538.0,534.7 540.1,534.6 C542.1,534.4 544.1,534.2 546.1,534.0 C548.1,533.8 550.2,533.6 552.2,533.3 C554.2,533.1 556.2,532.9 558.2,532.6 C560.3,532.4 562.3,532.1 564.3,531.9 C566.3,531.6 568.4,531.3 570.4,531.0 C572.4,530.7 574.4,530.4 576.4,530.0 C578.5,529.7 581.5,529.2 582.5,529.0" fill="none" stroke="#55138F" stroke-width="3.20" stroke-linecap="round" stroke-linejoin="round"/>
<path d="M170.2,643.2 C171.2,642.9 174.2,641.9 176.3,641.2 C178.3,640.6 180.3,640.0 182.3,639.4 C184.3,638.7 186.4,638.2 188.4,637.6 C190.4,637.0 192.4,636.5 194.5,635.9 C196.5,635.4 198.5,634.9 200.5,634.4 C202.5,633.9 204.6,633.4 206.6,632.9 C208.6,632.4 210.6,632.0 212.6,631.5 C214.7,631.1 216.7,630.6 218.7,630.2 C220.7,629.8 222.7,629.4 224.8,629.0 C226.8,628.6 228.8,628.2 230.8,627.8 C232.9,627.5 234.9,627.1 236.9,626.8 C238.9,626.4 240.9,626.1 243.0,625.7 C245.0,625.4 247.0,625.1 249.0,624.8 C251.0,624.5 253.1,624.2 255.1,623.9 C257.1,623.6 259.1,623.3 261.1,623.0 C263.2,622.7 265.2,622.5 267.2,622.2 C269.2,621.9 271.3,621.7 273.3,621.4 C275.3,621.2 277.3,620.9 279.3,620.7 C281.4,620.5 283.4,620.2 285.4,620.0 C287.4,619.8 289.4,619.5 291.5,619.3 C293.5,619.1 295.5,618.9 297.5,618.7 C299.5,618.4 301.6,618.2 303.6,618.0 C305.6,617.8 307.6,617.6 309.7,617.4 C311.7,617.2 313.7,617.0 315.7,616.8 C317.7,616.6 319.8,616.4 321.8,616.1 C323.8,615.9 325.8,615.7 327.8,615.5 C329.9,615.3 331.9,615.1 333.9,614.9 C335.9,614.7 337.9,614.5 340.0,614.3 C342.0,614.0 344.0,613.8 346.0,613.6 C348.1,613.4 350.1,613.1 352.1,612.9 C354.1,612.7 356.1,612.5 358.2,612.2 C360.2,612.0 362.2,611.7 364.2,611.5 C366.2,611.2 368.3,611.0 370.3,610.7 C372.3,610.4 374.3,610.2 376.4,609.9 C378.4,609.6 380.4,609.3 382.4,609.0 C384.4,608.7 386.5,608.4 388.5,608.1 C390.5,607.8 392.5,607.5 394.5,607.2 C396.6,606.9 398.6,606.5 400.6,606.2 C402.6,605.9 404.6,605.5 406.7,605.2 C408.7,604.8 410.7,604.5 412.7,604.1 C414.8,603.7 416.8,603.4 418.8,603.0 C420.8,602.6 422.8,602.2 424.9,601.8 C426.9,601.5 428.9,601.1 430.9,600.7 C432.9,600.3 435.0,599.9 437.0,599.5 C439.0,599.1 441.0,598.7 443.0,598.2 C445.1,597.8 447.1,597.4 449.1,597.0 C451.1,596.6 453.2,596.1 455.2,595.7 C457.2,595.3 459.2,594.8 461.2,594.4 C463.3,594.0 465.3,593.5 467.3,593.1 C469.3,592.6 471.3,592.2 473.4,591.7 C475.4,591.3 477.4,590.8 479.4,590.4 C481.4,589.9 483.5,589.5 485.5,589.0 C487.5,588.6 489.5,588.1 491.6,587.6 C493.6,587.2 495.6,586.7 497.6,586.3 C499.6,585.8 501.7,585.3 503.7,584.9 C505.7,584.4 507.7,583.9 509.7,583.5 C511.8,583.0 513.8,582.5 515.8,582.1 C517.8,581.6 519.8,581.1 521.9,580.7 C523.9,580.2 525.9,579.7 527.9,579.3 C530.0,578.8 532.0,578.3 534.0,577.9 C536.0,577.4 538.0,576.9 540.1,576.5 C542.1,576.0 544.1,575.6 546.1,575.1 C548.1,574.6 550.2,574.2 552.2,573.7 C554.2,573.3 556.2,572.8 558.2,572.4 C560.3,571.9 562.3,571.5 564.3,571.0 C566.3,570.6 568.4,570.1 570.4,569.7 C572.4,569.3 574.4,568.8 576.4,568.4 C578.5,568.0 581.5,567.3 582.5,567.1" fill="none" stroke="#F00000" stroke-width="3.20" stroke-linecap="round" stroke-linejoin="round"/>
<path d="M170.2,706.3 C171.2,705.9 174.2,704.8 176.3,704.0 C178.3,703.2 180.3,702.5 182.3,701.8 C184.3,701.1 186.4,700.4 188.4,699.7 C190.4,699.0 192.4,698.3 194.5,697.7 C196.5,697.0 198.5,696.3 200.5,695.7 C202.5,695.1 204.6,694.5 206.6,693.8 C208.6,693.2 210.6,692.6 212.6,692.1 C214.7,691.5 216.7,690.9 218.7,690.4 C220.7,689.8 222.7,689.3 224.8,688.7 C226.8,688.2 228.8,687.7 230.8,687.2 C232.9,686.7 234.9,686.2 236.9,685.7 C238.9,685.2 240.9,684.7 243.0,684.2 C245.0,683.8 247.0,683.3 249.0,682.9 C251.0,682.4 253.1,682.0 255.1,681.5 C257.1,681.1 259.1,680.7 261.1,680.3 C263.2,679.9 265.2,679.4 267.2,679.1 C269.2,678.7 271.3,678.3 273.3,677.9 C275.3,677.5 277.3,677.1 279.3,676.8 C281.4,676.4 283.4,676.0 285.4,675.7 C287.4,675.3 289.4,675.0 291.5,674.6 C293.5,674.3 295.5,674.0 297.5,673.6 C299.5,673.3 301.6,673.0 303.6,672.6 C305.6,672.3 307.6,672.0 309.7,671.7 C311.7,671.4 313.7,671.1 315.7,670.8 C317.7,670.5 319.8,670.2 321.8,669.9 C323.8,669.6 325.8,669.3 327.8,669.0 C329.9,668.7 331.9,668.4 333.9,668.1 C335.9,667.8 337.9,667.5 340.0,667.3 C342.0,667.0 344.0,666.7 346.0,666.4 C348.1,666.1 350.1,665.8 352.1,665.6 C354.1,665.3 356.1,665.0 358.2,664.7 C360.2,664.5 362.2,664.2 364.2,663.9 C366.2,663.6 368.3,663.3 370.3,663.1 C372.3,662.8 374.3,662.5 376.4,662.2 C378.4,661.9 380.4,661.6 382.4,661.4 C384.4,661.1 386.5,660.8 388.5,660.5 C390.5,660.2 392.5,659.9 394.5,659.6 C396.6,659.3 398.6,659.0 400.6,658.7 C402.6,658.4 404.6,658.1 406.7,657.8 C408.7,657.5 410.7,657.2 412.7,656.8 C414.8,656.5 416.8,656.2 418.8,655.9 C420.8,655.6 422.8,655.2 424.9,654.9 C426.9,654.6 428.9,654.2 430.9,653.9 C432.9,653.5 435.0,653.2 437.0,652.8 C439.0,652.5 441.0,652.1 443.0,651.8 C445.1,651.4 447.1,651.0 449.1,650.6 C451.1,650.3 453.2,649.9 455.2,649.5 C457.2,649.1 459.2,648.7 461.2,648.3 C463.3,647.9 465.3,647.5 467.3,647.1 C469.3,646.6 471.3,646.2 473.4,645.8 C475.4,645.3 477.4,644.9 479.4,644.4 C481.4,644.0 483.5,643.5 485.5,643.1 C487.5,642.6 489.5,642.1 491.6,641.7 C493.6,641.2 495.6,640.7 497.6,640.2 C499.6,639.7 501.7,639.2 503.7,638.7 C505.7,638.2 507.7,637.7 509.7,637.2 C511.8,636.7 513.8,636.2 515.8,635.7 C517.8,635.2 519.8,634.7 521.9,634.1 C523.9,633.6 525.9,633.1 527.9,632.6 C530.0,632.1 532.0,631.6 534.0,631.0 C536.0,630.5 538.0,630.0 540.1,629.5 C542.1,629.0 544.1,628.4 546.1,627.9 C548.1,627.4 550.2,626.9 552.2,626.4 C554.2,625.9 556.2,625.4 558.2,624.8 C560.3,624.3 562.3,623.8 564.3,623.3 C566.3,622.8 568.4,622.3 570.4,621.9 C572.4,621.4 574.4,620.9 576.4,620.4 C578.5,619.9 581.5,619.2 582.5,619.0" fill="none" stroke="#00A443" stroke-width="3.20" stroke-linecap="round" stroke-linejoin="round"/>
<path d="M170.2,687.0 C171.2,687.0 174.2,686.8 176.3,686.7 C178.3,686.7 180.3,686.5 182.3,686.4 C184.3,686.3 186.4,686.2 188.4,686.1 C190.4,685.9 192.4,685.8 194.5,685.6 C196.5,685.5 198.5,685.3 200.5,685.1 C202.5,684.9 204.6,684.8 206.6,684.6 C208.6,684.4 210.6,684.2 212.6,684.0 C214.7,683.8 216.7,683.6 218.7,683.3 C220.7,683.1 222.7,682.9 224.8,682.7 C226.8,682.4 228.8,682.2 230.8,681.9 C232.9,681.7 234.9,681.4 236.9,681.2 C238.9,680.9 240.9,680.6 243.0,680.4 C245.0,680.1 247.0,679.8 249.0,679.5 C251.0,679.2 253.1,678.9 255.1,678.7 C257.1,678.4 259.1,678.1 261.1,677.8 C263.2,677.5 265.2,677.1 267.2,676.8 C269.2,676.5 271.3,676.2 273.3,675.9 C275.3,675.6 277.3,675.3 279.3,674.9 C281.4,674.6 283.4,674.3 285.4,674.0 C287.4,673.6 289.4,673.3 291.5,673.0 C293.5,672.6 295.5,672.3 297.5,672.0 C299.5,671.6 301.6,671.3 303.6,670.9 C305.6,670.6 307.6,670.3 309.7,669.9 C311.7,669.6 313.7,669.2 315.7,668.9 C317.7,668.6 319.8,668.2 321.8,667.9 C323.8,667.5 325.8,667.2 327.8,666.9 C329.9,666.5 331.9,666.2 333.9,665.8 C335.9,665.5 337.9,665.2 340.0,664.8 C342.0,664.5 344.0,664.2 346.0,663.8 C348.1,663.5 350.1,663.2 352.1,662.8 C354.1,662.5 356.1,662.2 358.2,661.9 C360.2,661.6 362.2,661.2 364.2,660.9 C366.2,660.6 368.3,660.3 370.3,660.0 C372.3,659.7 374.3,659.4 376.4,659.1 C378.4,658.8 380.4,658.5 382.4,658.2 C384.4,657.9 386.5,657.7 388.5,657.4 C390.5,657.1 392.5,656.8 394.5,656.5 C396.6,656.3 398.6,656.0 400.6,655.7 C402.6,655.4 404.6,655.2 406.7,654.9 C408.7,654.6 410.7,654.3 412.7,654.1 C414.8,653.8 416.8,653.5 418.8,653.2 C420.8,653.0 422.8,652.7 424.9,652.4 C426.9,652.1 428.9,651.8 430.9,651.5 C432.9,651.2 435.0,650.9 437.0,650.6 C439.0,650.3 441.0,649.9 443.0,649.6 C445.1,649.3 447.1,648.9 449.1,648.6 C451.1,648.2 453.2,647.9 455.2,647.5 C457.2,647.2 459.2,646.8 461.2,646.4 C463.3,646.0 465.3,645.6 467.3,645.2 C469.3,644.8 471.3,644.3 473.4,643.9 C475.4,643.4 477.4,643.0 479.4,642.5 C481.4,642.0 483.5,641.5 485.5,641.0 C487.5,640.5 489.5,640.0 491.6,639.5 C493.6,638.9 495.6,638.4 497.6,637.8 C499.6,637.3 501.7,636.7 503.7,636.1 C505.7,635.6 507.7,635.0 509.7,634.4 C511.8,633.8 513.8,633.2 515.8,632.6 C517.8,632.0 519.8,631.3 521.9,630.7 C523.9,630.1 525.9,629.5 527.9,628.8 C530.0,628.2 532.0,627.6 534.0,626.9 C536.0,626.3 538.0,625.7 540.1,625.0 C542.1,624.4 544.1,623.7 546.1,623.1 C548.1,622.5 550.2,621.8 552.2,621.2 C554.2,620.5 556.2,619.9 558.2,619.3 C560.3,618.6 562.3,618.0 564.3,617.4 C566.3,616.7 568.4,616.1 570.4,615.5 C572.4,614.9 574.4,614.3 576.4,613.7 C578.5,613.1 581.5,612.2 582.5,611.9" fill="none" stroke="#0062BE" stroke-width="3.20" stroke-linecap="round" stroke-linejoin="round"/>
<text x="751.32" y="372.70" font-size="33.87" textLength="372.08" lengthAdjust="spacingAndGlyphs" style='font-family:"Liberation Sans", Arial, sans-serif;' fill="#000">Inspiration/ Exspiration</text>
<defs><clipPath id="inspClip"><rect x="775.4" y="389.0" width="309.6" height="211.7"/></clipPath></defs>
<rect x="775.4" y="389.0" width="309.6" height="211.7" fill="#000"/>
<g clip-path="url(#inspClip)">
<g transform="translate(775.40,389.00)">
<use href="#mriOct"/>
<use href="#mriBody" transform="translate(20,0) scale(1.035,1) translate(-20,0)"/>
<path d="M104.90,30.40 C103.33,30.75 98.80,31.23 95.50,32.50 C92.20,33.77 90.38,34.30 85.10,38.00 C79.82,41.70 69.62,49.13 63.80,54.70 C57.98,60.27 54.00,65.32 50.20,71.40 C46.40,77.48 43.28,83.85 41.00,91.20 C38.72,98.55 37.38,107.90 36.50,115.50 C35.62,123.10 35.32,129.72 35.70,136.80 C36.08,143.88 37.50,152.47 38.80,158.00 C40.10,163.53 41.98,166.83 43.50,170.00 C45.02,173.17 47.17,175.83 47.90,177.00 C55.60,171.09 64.40,167.00 69.90,166.40 C83.95,167.20 106.43,185.09 126.10,199.00 C127.08,197.17 130.73,193.30 132.00,188.00 C133.27,182.70 133.53,178.27 133.70,167.20 C133.87,156.13 133.50,135.53 133.00,121.60 C132.50,107.67 132.10,94.23 130.70,83.60 C129.30,72.97 127.13,65.40 124.60,57.80 C122.07,50.20 117.85,42.13 115.50,38.00 C113.15,33.87 112.27,34.27 110.50,33.00 C108.73,31.73 105.83,30.83 104.90,30.40 Z" fill="#030303" stroke="none"/>
<g stroke-linecap="round" fill="none" filter="url(#mriBlur)"><path d="M90.9,96.0 L93.9,104.0" stroke="#a0a0a0" stroke-width="1.4"/><path d="M92.9,106.0 L95.9,114.0" stroke="#d0d0d0" stroke-width="1.8"/><path d="M86.9,112.0 L90.9,118.0" stroke="#e0e0e0" stroke-width="2.0"/><path d="M94.9,118.0 L100.9,126.0" stroke="#f4f4f4" stroke-width="2.4"/><path d="M96.9,124.0 L102.9,134.0" stroke="#e4e4e4" stroke-width="2.2"/><path d="M88.9,122.0 L84.9,130.0" stroke="#c0c0c0" stroke-width="1.8"/><path d="M100.9,116.0 L106.9,120.0" stroke="#cccccc" stroke-width="1.8"/><path d="M102.9,130.0 L108.9,140.0" stroke="#a8a8a8" stroke-width="1.7"/><path d="M82.9,132.0 L76.9,140.0" stroke="#6a6a6a" stroke-width="2.6"/><path d="M78.9,114.0 L72.9,120.0" stroke="#5a5a5a" stroke-width="2.4"/><path d="M106.9,104.0 L110.9,110.0" stroke="#8a8a8a" stroke-width="1.5"/><path d="M92.9,134.0 L94.9,144.0" stroke="#9a9a9a" stroke-width="1.7"/><path d="M84.9,102.0 L80.9,108.0" stroke="#9a9a9a" stroke-width="1.5"/><path d="M98.9,98.0 L101.9,92.0" stroke="#8a8a8a" stroke-width="1.4"/></g>
<path d="M104.90,30.40 C103.33,30.75 98.80,31.23 95.50,32.50 C92.20,33.77 90.38,34.30 85.10,38.00 C79.82,41.70 69.62,49.13 63.80,54.70 C57.98,60.27 54.00,65.32 50.20,71.40 C46.40,77.48 43.28,83.85 41.00,91.20 C38.72,98.55 37.38,107.90 36.50,115.50 C35.62,123.10 35.32,129.72 35.70,136.80 C36.08,143.88 37.50,152.47 38.80,158.00 C40.10,163.53 41.98,166.83 43.50,170.00 C45.02,173.17 47.17,175.83 47.90,177.00 C55.60,171.09 64.40,167.00 69.90,166.40 C83.95,167.20 106.43,185.09 126.10,199.00 C127.08,197.17 130.73,193.30 132.00,188.00 C133.27,182.70 133.53,178.27 133.70,167.20 C133.87,156.13 133.50,135.53 133.00,121.60 C132.50,107.67 132.10,94.23 130.70,83.60 C129.30,72.97 127.13,65.40 124.60,57.80 C122.07,50.20 117.85,42.13 115.50,38.00 C113.15,33.87 112.27,34.27 110.50,33.00 C108.73,31.73 105.83,30.83 104.90,30.40 Z" fill="none" stroke="#fff" stroke-width="1.9"/>
<line x1="52.09" y1="81.70" x2="124.57" y2="81.70" stroke="#D84FE0" stroke-width="1.70"/><path d="M128.25,81.70 L123.65,84.23 L123.65,79.17 Z" fill="#D84FE0"/><path d="M48.41,81.70 L53.01,84.23 L53.01,79.17 Z" fill="#D84FE0"/>
<line x1="42.57" y1="118.50" x2="127.13" y2="118.50" stroke="#6B2F95" stroke-width="1.70"/><path d="M130.81,118.50 L126.21,121.03 L126.21,115.97 Z" fill="#6B2F95"/><path d="M38.89,118.50 L43.49,121.03 L43.49,115.97 Z" fill="#6B2F95"/>
<line x1="75.08" y1="166.90" x2="128.52" y2="166.90" stroke="#A88412" stroke-width="1.90"/><path d="M132.20,166.90 L127.60,169.43 L127.60,164.37 Z" fill="#A88412"/><path d="M71.40,166.90 L76.00,169.43 L76.00,164.37 Z" fill="#A88412"/>
<line x1="49.72" y1="173.06" x2="102.38" y2="35.84" stroke="#2E6BB0" stroke-width="1.70"/><path d="M103.70,32.40 L104.41,37.60 L99.69,35.79 Z" fill="#2E6BB0"/><path d="M48.40,176.50 L52.41,173.11 L47.69,171.30 Z" fill="#2E6BB0"/>
<line x1="70.83" y1="162.84" x2="104.17" y2="34.96" stroke="#D01818" stroke-width="1.90"/><path d="M105.10,31.40 L106.39,36.49 L101.49,35.21 Z" fill="#D01818"/><path d="M69.90,166.40 L73.51,162.59 L68.61,161.31 Z" fill="#D01818"/>
<line x1="125.17" y1="194.55" x2="106.53" y2="36.05" stroke="#6AA83A" stroke-width="1.70"/><path d="M106.10,32.40 L109.15,36.67 L104.12,37.26 Z" fill="#6AA83A"/><path d="M125.60,198.20 L127.58,193.34 L122.55,193.93 Z" fill="#6AA83A"/>
</g>
<g transform="translate(930.20,389.00)">
<use href="#mriOct"/>
<use href="#mriBody" transform="translate(146,0) scale(0.87,1) translate(-146,0)"/>
<path d="M111.70,38.00 C110.42,38.42 106.92,39.23 104.00,40.50 C101.08,41.77 98.37,42.72 94.20,45.60 C90.03,48.48 83.05,53.75 79.00,57.80 C74.95,61.85 72.93,64.85 69.90,69.90 C66.87,74.95 63.33,82.02 60.80,88.10 C58.27,94.18 56.10,99.55 54.70,106.40 C53.30,113.25 52.65,121.93 52.40,129.20 C52.15,136.47 52.57,145.57 53.20,150.00 C53.83,154.43 55.70,154.83 56.20,155.80 C66.84,148.53 79.00,141.90 86.60,141.30 C96.88,142.10 113.31,153.17 127.70,163.40 C128.45,161.50 131.32,158.97 132.20,152.00 C133.08,145.03 133.25,133.00 133.00,121.60 C132.75,110.20 131.85,93.73 130.70,83.60 C129.55,73.47 127.88,67.40 126.10,60.80 C124.32,54.20 121.77,47.67 120.00,44.00 C118.23,40.33 116.88,39.80 115.50,38.80 C114.12,37.80 112.33,38.13 111.70,38.00 Z" fill="#030303" stroke="none"/>
<g stroke-linecap="round" fill="none" filter="url(#mriBlur)"><path d="M97.7,89.3 L100.7,97.3" stroke="#a0a0a0" stroke-width="1.4"/><path d="M99.7,99.3 L102.7,107.3" stroke="#d0d0d0" stroke-width="1.8"/><path d="M93.7,105.3 L97.7,111.3" stroke="#e0e0e0" stroke-width="2.0"/><path d="M101.7,111.3 L107.7,119.3" stroke="#f4f4f4" stroke-width="2.4"/><path d="M103.7,117.3 L109.7,127.3" stroke="#e4e4e4" stroke-width="2.2"/><path d="M95.7,115.3 L91.7,123.3" stroke="#c0c0c0" stroke-width="1.8"/><path d="M107.7,109.3 L113.7,113.3" stroke="#cccccc" stroke-width="1.8"/><path d="M109.7,123.3 L115.7,133.3" stroke="#a8a8a8" stroke-width="1.7"/><path d="M89.7,125.3 L83.7,133.3" stroke="#6a6a6a" stroke-width="2.6"/><path d="M85.7,107.3 L79.7,113.3" stroke="#5a5a5a" stroke-width="2.4"/><path d="M113.7,97.3 L117.7,103.3" stroke="#8a8a8a" stroke-width="1.5"/><path d="M99.7,127.3 L101.7,137.3" stroke="#9a9a9a" stroke-width="1.7"/><path d="M91.7,95.3 L87.7,101.3" stroke="#9a9a9a" stroke-width="1.5"/><path d="M105.7,91.3 L108.7,85.3" stroke="#8a8a8a" stroke-width="1.4"/></g>
<path d="M111.70,38.00 C110.42,38.42 106.92,39.23 104.00,40.50 C101.08,41.77 98.37,42.72 94.20,45.60 C90.03,48.48 83.05,53.75 79.00,57.80 C74.95,61.85 72.93,64.85 69.90,69.90 C66.87,74.95 63.33,82.02 60.80,88.10 C58.27,94.18 56.10,99.55 54.70,106.40 C53.30,113.25 52.65,121.93 52.40,129.20 C52.15,136.47 52.57,145.57 53.20,150.00 C53.83,154.43 55.70,154.83 56.20,155.80 C66.84,148.53 79.00,141.90 86.60,141.30 C96.88,142.10 113.31,153.17 127.70,163.40 C128.45,161.50 131.32,158.97 132.20,152.00 C133.08,145.03 133.25,133.00 133.00,121.60 C132.75,110.20 131.85,93.73 130.70,83.60 C129.55,73.47 127.88,67.40 126.10,60.80 C124.32,54.20 121.77,47.67 120.00,44.00 C118.23,40.33 116.88,39.80 115.50,38.80 C114.12,37.80 112.33,38.13 111.70,38.00 Z" fill="none" stroke="#fff" stroke-width="1.9"/>
<line x1="70.03" y1="83.00" x2="124.90" y2="83.00" stroke="#D040E0" stroke-width="1.70"/><path d="M128.58,83.00 L123.98,85.53 L123.98,80.47 Z" fill="#D040E0"/><path d="M66.35,83.00 L70.95,85.53 L70.95,80.47 Z" fill="#D040E0"/>
<line x1="59.64" y1="118.70" x2="127.14" y2="118.70" stroke="#6A2E96" stroke-width="1.70"/><path d="M130.82,118.70 L126.22,121.23 L126.22,116.17 Z" fill="#6A2E96"/><path d="M55.96,118.70 L60.56,121.23 L60.56,116.17 Z" fill="#6A2E96"/>
<line x1="91.78" y1="141.80" x2="127.29" y2="141.80" stroke="#F4EE10" stroke-width="1.90"/><path d="M130.97,141.80 L126.37,144.33 L126.37,139.27 Z" fill="#F4EE10"/><path d="M88.10,141.80 L92.70,144.33 L92.70,139.27 Z" fill="#F4EE10"/>
<line x1="58.26" y1="151.97" x2="108.94" y2="43.33" stroke="#86B8EE" stroke-width="1.70"/><path d="M110.50,40.00 L110.85,45.24 L106.26,43.10 Z" fill="#86B8EE"/><path d="M56.70,155.30 L60.94,152.20 L56.35,150.06 Z" fill="#86B8EE"/>
<line x1="87.48" y1="137.73" x2="111.02" y2="42.57" stroke="#F08A80" stroke-width="1.90"/><path d="M111.90,39.00 L113.25,44.07 L108.34,42.86 Z" fill="#F08A80"/><path d="M86.60,141.30 L90.16,137.44 L85.25,136.23 Z" fill="#F08A80"/>
<line x1="126.77" y1="158.94" x2="113.33" y2="43.66" stroke="#9ED25A" stroke-width="1.70"/><path d="M112.90,40.00 L115.95,44.28 L110.92,44.86 Z" fill="#9ED25A"/><path d="M127.20,162.60 L129.18,157.74 L124.15,158.32 Z" fill="#9ED25A"/>
</g>
</g>
<text x="792.63" y="638.30" font-size="35.00" textLength="22.17" lengthAdjust="spacingAndGlyphs" style='font-family:"Liberation Sans", Arial, sans-serif;font-style:italic;' fill="#000">A</text>
<text x="813.40" y="646.60" font-size="25.50" textLength="78.87" lengthAdjust="spacingAndGlyphs" style='font-family:"Liberation Sans", Arial, sans-serif;' fill="#000">VCmax</text>
<text x="955.63" y="638.30" font-size="35.00" textLength="22.17" lengthAdjust="spacingAndGlyphs" style='font-family:"Liberation Sans", Arial, sans-serif;font-style:italic;' fill="#000">A</text>
<text x="976.40" y="646.60" font-size="25.50" textLength="73.91" lengthAdjust="spacingAndGlyphs" style='font-family:"Liberation Sans", Arial, sans-serif;' fill="#000">VCmin</text>
<text x="1207.36" y="428.80" font-size="31.70" textLength="21.81" lengthAdjust="spacingAndGlyphs" style='font-family:"Liberation Serif", "Times New Roman", serif;font-style:italic;' stroke="#000" stroke-width="0.28">A</text>
<text x="1229.18" y="435.90" font-size="21.87" textLength="31.49" lengthAdjust="spacingAndGlyphs" style='font-family:"Liberation Serif", "Times New Roman", serif;font-style:italic;' stroke="#000" stroke-width="0.28">VC</text>
<text x="1260.67" y="428.80" font-size="31.70" textLength="11.89" lengthAdjust="spacingAndGlyphs" style='font-family:"Liberation Serif", "Times New Roman", serif;' stroke="#000" stroke-width="0.28">(</text>
<text x="1272.56" y="428.80" font-size="31.70" textLength="9.92" lengthAdjust="spacingAndGlyphs" style='font-family:"Liberation Serif", "Times New Roman", serif;font-style:italic;' stroke="#000" stroke-width="0.28">t</text>
<text x="1282.48" y="428.80" font-size="31.70" textLength="11.89" lengthAdjust="spacingAndGlyphs" style='font-family:"Liberation Serif", "Times New Roman", serif;' stroke="#000" stroke-width="0.28">)</text>
<text x="1303.79" y="433.94" font-size="42.00" textLength="22.68" lengthAdjust="spacingAndGlyphs" style='font-family:"Liberation Serif", "Times New Roman", serif;' stroke="#000" stroke-width="0.15">=</text>
<text x="1371.23" y="404.80" font-size="31.70" textLength="22.51" lengthAdjust="spacingAndGlyphs" style='font-family:"Liberation Serif", "Times New Roman", serif;font-style:italic;' stroke="#000" stroke-width="0.28">A</text>
<text x="1393.74" y="404.80" font-size="31.70" textLength="12.27" lengthAdjust="spacingAndGlyphs" style='font-family:"Liberation Serif", "Times New Roman", serif;' stroke="#000" stroke-width="0.28">(</text>
<text x="1406.01" y="404.80" font-size="31.70" textLength="10.24" lengthAdjust="spacingAndGlyphs" style='font-family:"Liberation Serif", "Times New Roman", serif;font-style:italic;' stroke="#000" stroke-width="0.28">t</text>
<text x="1416.25" y="404.80" font-size="31.70" textLength="12.27" lengthAdjust="spacingAndGlyphs" style='font-family:"Liberation Serif", "Times New Roman", serif;' stroke="#000" stroke-width="0.28">)</text>
<text x="1437.73" y="404.80" font-size="31.70" textLength="20.78" lengthAdjust="spacingAndGlyphs" style='font-family:"Liberation Serif", "Times New Roman", serif;' stroke="#000" stroke-width="0.28">−</text>
<text x="1467.73" y="404.80" font-size="31.70" textLength="12.27" lengthAdjust="spacingAndGlyphs" style='font-family:"Liberation Serif", "Times New Roman", serif;' stroke="#000" stroke-width="0.28">(</text>
<text x="1480.00" y="404.80" font-size="31.70" textLength="22.51" lengthAdjust="spacingAndGlyphs" style='font-family:"Liberation Serif", "Times New Roman", serif;font-style:italic;' stroke="#000" stroke-width="0.28">A</text>
<text x="1502.51" y="410.60" font-size="21.87" textLength="70.64" lengthAdjust="spacingAndGlyphs" style='font-family:"Liberation Serif", "Times New Roman", serif;font-style:italic;' stroke="#000" stroke-width="0.28">VCmin</text>
<text x="1573.15" y="404.80" font-size="31.70" textLength="12.27" lengthAdjust="spacingAndGlyphs" style='font-family:"Liberation Serif", "Times New Roman", serif;' stroke="#000" stroke-width="0.28">)</text>
<rect x="1335.60" y="418.65" width="283.20" height="1.90" fill="#000"/>
<text x="1336.56" y="449.50" font-size="31.70" textLength="12.44" lengthAdjust="spacingAndGlyphs" style='font-family:"Liberation Serif", "Times New Roman", serif;' stroke="#000" stroke-width="0.28">(</text>
<text x="1349.00" y="449.50" font-size="31.70" textLength="22.82" lengthAdjust="spacingAndGlyphs" style='font-family:"Liberation Serif", "Times New Roman", serif;font-style:italic;' stroke="#000" stroke-width="0.28">A</text>
<text x="1371.81" y="456.00" font-size="21.87" textLength="75.87" lengthAdjust="spacingAndGlyphs" style='font-family:"Liberation Serif", "Times New Roman", serif;font-style:italic;' stroke="#000" stroke-width="0.28">VCmax</text>
<text x="1447.68" y="449.50" font-size="31.70" textLength="12.44" lengthAdjust="spacingAndGlyphs" style='font-family:"Liberation Serif", "Times New Roman", serif;' stroke="#000" stroke-width="0.28">)</text>
<text x="1469.46" y="449.50" font-size="31.70" textLength="21.06" lengthAdjust="spacingAndGlyphs" style='font-family:"Liberation Serif", "Times New Roman", serif;' stroke="#000" stroke-width="0.28">−</text>
<text x="1499.86" y="449.50" font-size="31.70" textLength="12.44" lengthAdjust="spacingAndGlyphs" style='font-family:"Liberation Serif", "Times New Roman", serif;' stroke="#000" stroke-width="0.28">(</text>
<text x="1512.30" y="449.50" font-size="31.70" textLength="22.82" lengthAdjust="spacingAndGlyphs" style='font-family:"Liberation Serif", "Times New Roman", serif;font-style:italic;' stroke="#000" stroke-width="0.28">A</text>
<text x="1535.11" y="456.00" font-size="21.87" textLength="71.59" lengthAdjust="spacingAndGlyphs" style='font-family:"Liberation Serif", "Times New Roman", serif;font-style:italic;' stroke="#000" stroke-width="0.28">VCmin</text>
<text x="1606.71" y="449.50" font-size="31.70" textLength="12.44" lengthAdjust="spacingAndGlyphs" style='font-family:"Liberation Serif", "Times New Roman", serif;' stroke="#000" stroke-width="0.28">)</text>
<circle cx="1631.00" cy="420.30" r="1.70" fill="#000"/>
<text x="1642.23" y="428.80" font-size="31.70" textLength="52.40" lengthAdjust="spacingAndGlyphs" style='font-family:"Liberation Serif", "Times New Roman", serif;' stroke="#000" stroke-width="0.28">100</text>
<text x="282.03" y="754.30" font-size="35.10" textLength="23.71" lengthAdjust="spacingAndGlyphs" style='font-family:"Liberation Serif", "Times New Roman", serif;font-style:italic;' stroke="#000" stroke-width="0.28">A</text>
<text x="305.74" y="760.60" font-size="25.97" textLength="60.63" lengthAdjust="spacingAndGlyphs" style='font-family:"Liberation Serif", "Times New Roman", serif;font-style:italic;' stroke="#000" stroke-width="0.28">norm</text>
<text x="376.08" y="754.30" font-size="35.10" textLength="12.92" lengthAdjust="spacingAndGlyphs" style='font-family:"Liberation Serif", "Times New Roman", serif;' stroke="#000" stroke-width="0.28">(</text>
<text x="389.00" y="754.30" font-size="35.10" textLength="10.78" lengthAdjust="spacingAndGlyphs" style='font-family:"Liberation Serif", "Times New Roman", serif;font-style:italic;' stroke="#000" stroke-width="0.28">t</text>
<text x="399.78" y="754.30" font-size="35.10" textLength="12.92" lengthAdjust="spacingAndGlyphs" style='font-family:"Liberation Serif", "Times New Roman", serif;' stroke="#000" stroke-width="0.28">)</text>
<text x="424.74" y="757.15" font-size="39.00" textLength="25.47" lengthAdjust="spacingAndGlyphs" style='font-family:"Liberation Serif", "Times New Roman", serif;' stroke="#000" stroke-width="0.15">=</text>
<text x="495.48" y="727.10" font-size="35.10" textLength="24.23" lengthAdjust="spacingAndGlyphs" style='font-family:"Liberation Serif", "Times New Roman", serif;font-style:italic;' stroke="#000" stroke-width="0.28">A</text>
<text x="519.71" y="727.10" font-size="35.10" textLength="13.21" lengthAdjust="spacingAndGlyphs" style='font-family:"Liberation Serif", "Times New Roman", serif;' stroke="#000" stroke-width="0.28">(</text>
<text x="532.93" y="727.10" font-size="35.10" textLength="11.02" lengthAdjust="spacingAndGlyphs" style='font-family:"Liberation Serif", "Times New Roman", serif;font-style:italic;' stroke="#000" stroke-width="0.28">t</text>
<text x="543.95" y="727.10" font-size="35.10" textLength="13.21" lengthAdjust="spacingAndGlyphs" style='font-family:"Liberation Serif", "Times New Roman", serif;' stroke="#000" stroke-width="0.28">)</text>
<text x="567.08" y="727.10" font-size="35.10" textLength="22.37" lengthAdjust="spacingAndGlyphs" style='font-family:"Liberation Serif", "Times New Roman", serif;' stroke="#000" stroke-width="0.28">−</text>
<text x="599.37" y="727.10" font-size="35.10" textLength="24.23" lengthAdjust="spacingAndGlyphs" style='font-family:"Liberation Serif", "Times New Roman", serif;font-style:italic;' stroke="#000" stroke-width="0.28">A</text>
<text x="623.60" y="727.10" font-size="35.10" textLength="13.21" lengthAdjust="spacingAndGlyphs" style='font-family:"Liberation Serif", "Times New Roman", serif;' stroke="#000" stroke-width="0.28">(</text>
<text x="636.81" y="727.10" font-size="35.10" textLength="11.02" lengthAdjust="spacingAndGlyphs" style='font-family:"Liberation Serif", "Times New Roman", serif;font-style:italic;' stroke="#000" stroke-width="0.28">t</text>
<text x="647.83" y="733.40" font-size="25.97" textLength="42.39" lengthAdjust="spacingAndGlyphs" style='font-family:"Liberation Serif", "Times New Roman", serif;font-style:italic;' stroke="#000" stroke-width="0.28">end</text>
<text x="700.14" y="727.10" font-size="35.10" textLength="13.21" lengthAdjust="spacingAndGlyphs" style='font-family:"Liberation Serif", "Times New Roman", serif;' stroke="#000" stroke-width="0.28">)</text>
<rect x="460.50" y="742.80" width="285.20" height="2.00" fill="#000"/>
<text x="463.39" y="777.30" font-size="35.10" textLength="24.27" lengthAdjust="spacingAndGlyphs" style='font-family:"Liberation Serif", "Times New Roman", serif;font-style:italic;' stroke="#000" stroke-width="0.28">A</text>
<text x="487.66" y="777.30" font-size="35.10" textLength="13.23" lengthAdjust="spacingAndGlyphs" style='font-family:"Liberation Serif", "Times New Roman", serif;' stroke="#000" stroke-width="0.28">(</text>
<text x="500.89" y="777.30" font-size="35.10" textLength="11.04" lengthAdjust="spacingAndGlyphs" style='font-family:"Liberation Serif", "Times New Roman", serif;font-style:italic;' stroke="#000" stroke-width="0.28">t</text>
<text x="511.93" y="783.60" font-size="25.97" textLength="53.92" lengthAdjust="spacingAndGlyphs" style='font-family:"Liberation Serif", "Times New Roman", serif;font-style:italic;' stroke="#000" stroke-width="0.28">start</text>
<text x="575.78" y="777.30" font-size="35.10" textLength="13.23" lengthAdjust="spacingAndGlyphs" style='font-family:"Liberation Serif", "Times New Roman", serif;' stroke="#000" stroke-width="0.28">)</text>
<text x="598.95" y="777.30" font-size="35.10" textLength="22.41" lengthAdjust="spacingAndGlyphs" style='font-family:"Liberation Serif", "Times New Roman", serif;' stroke="#000" stroke-width="0.28">−</text>
<text x="631.29" y="777.30" font-size="35.10" textLength="24.27" lengthAdjust="spacingAndGlyphs" style='font-family:"Liberation Serif", "Times New Roman", serif;font-style:italic;' stroke="#000" stroke-width="0.28">A</text>
<text x="655.56" y="777.30" font-size="35.10" textLength="13.23" lengthAdjust="spacingAndGlyphs" style='font-family:"Liberation Serif", "Times New Roman", serif;' stroke="#000" stroke-width="0.28">(</text>
<text x="668.79" y="777.30" font-size="35.10" textLength="11.04" lengthAdjust="spacingAndGlyphs" style='font-family:"Liberation Serif", "Times New Roman", serif;font-style:italic;' stroke="#000" stroke-width="0.28">t</text>
<text x="679.83" y="783.60" font-size="25.97" textLength="42.45" lengthAdjust="spacingAndGlyphs" style='font-family:"Liberation Serif", "Times New Roman", serif;font-style:italic;' stroke="#000" stroke-width="0.28">end</text>
<text x="732.22" y="777.30" font-size="35.10" textLength="13.23" lengthAdjust="spacingAndGlyphs" style='font-family:"Liberation Serif", "Times New Roman", serif;' stroke="#000" stroke-width="0.28">)</text>
<circle cx="759.50" cy="744.00" r="1.80" fill="#000"/>
<text x="770.73" y="754.30" font-size="35.10" textLength="57.42" lengthAdjust="spacingAndGlyphs" style='font-family:"Liberation Serif", "Times New Roman", serif;' stroke="#000" stroke-width="0.28">100</text>
<text x="672.04" y="1350.80" font-size="34.50" textLength="29.23" lengthAdjust="spacingAndGlyphs" style='font-family:"Liberation Serif", "Times New Roman", serif;font-style:italic;'>m</text>
<text x="701.27" y="1356.50" font-size="25.88" textLength="15.18" lengthAdjust="spacingAndGlyphs" style='font-family:"Liberation Serif", "Times New Roman", serif;font-style:italic;'>n</text>
<text x="729.06" y="1356.24" font-size="42.00" textLength="25.23" lengthAdjust="spacingAndGlyphs" style='font-family:"Liberation Serif", "Times New Roman", serif;' stroke="#000" stroke-width="0.15">=</text>
<text x="763.75" y="1350.80" font-size="34.50" textLength="31.04" lengthAdjust="spacingAndGlyphs" style='font-family:"Liberation Serif", "Times New Roman", serif;font-style:italic;'>m</text>
<text x="794.80" y="1350.80" font-size="34.50" textLength="14.32" lengthAdjust="spacingAndGlyphs" style='font-family:"Liberation Serif", "Times New Roman", serif;'>(</text>
<text x="809.11" y="1350.80" font-size="34.50" textLength="11.94" lengthAdjust="spacingAndGlyphs" style='font-family:"Liberation Serif", "Times New Roman", serif;font-style:italic;'>t</text>
<text x="821.06" y="1356.50" font-size="25.88" textLength="16.12" lengthAdjust="spacingAndGlyphs" style='font-family:"Liberation Serif", "Times New Roman", serif;font-style:italic;'>n</text>
<text x="837.18" y="1350.80" font-size="34.50" textLength="14.32" lengthAdjust="spacingAndGlyphs" style='font-family:"Liberation Serif", "Times New Roman", serif;'>)</text>
<text x="863.56" y="1356.24" font-size="42.00" textLength="24.14" lengthAdjust="spacingAndGlyphs" style='font-family:"Liberation Serif", "Times New Roman", serif;' stroke="#000" stroke-width="0.15">=</text>
<text x="897.44" y="1325.30" font-size="26.00" textLength="23.10" lengthAdjust="spacingAndGlyphs" style='font-family:"Liberation Serif", "Times New Roman", serif;' stroke="#000" stroke-width="0.10">Δ</text>
<text x="920.53" y="1325.30" font-size="26.00" textLength="21.94" lengthAdjust="spacingAndGlyphs" style='font-family:"Liberation Serif", "Times New Roman", serif;font-style:italic;' stroke="#000" stroke-width="0.10">A</text>
<text x="942.47" y="1331.90" font-size="19.50" textLength="56.87" lengthAdjust="spacingAndGlyphs" style='font-family:"Liberation Serif", "Times New Roman", serif;font-style:italic;' stroke="#000" stroke-width="0.10">norm</text>
<rect x="897.90" y="1340.10" width="109.80" height="1.80" fill="#000"/>
<text x="935.35" y="1372.60" font-size="26.00" textLength="22.93" lengthAdjust="spacingAndGlyphs" style='font-family:"Liberation Serif", "Times New Roman", serif;' stroke="#000" stroke-width="0.10">Δ</text>
<text x="958.27" y="1372.60" font-size="26.00" textLength="9.91" lengthAdjust="spacingAndGlyphs" style='font-family:"Liberation Serif", "Times New Roman", serif;font-style:italic;' stroke="#000" stroke-width="0.10">t</text>
<text x="1017.86" y="1356.24" font-size="42.00" textLength="24.14" lengthAdjust="spacingAndGlyphs" style='font-family:"Liberation Serif", "Times New Roman", serif;' stroke="#000" stroke-width="0.15">=</text>
<text x="1054.77" y="1325.10" font-size="31.00" textLength="24.08" lengthAdjust="spacingAndGlyphs" style='font-family:"Liberation Serif", "Times New Roman", serif;font-style:italic;' stroke="#000" stroke-width="0.28">A</text>
<text x="1078.85" y="1331.50" font-size="22.32" textLength="59.94" lengthAdjust="spacingAndGlyphs" style='font-family:"Liberation Serif", "Times New Roman", serif;font-style:italic;' stroke="#000" stroke-width="0.28">norm</text>
<text x="1148.64" y="1325.10" font-size="31.00" textLength="13.13" lengthAdjust="spacingAndGlyphs" style='font-family:"Liberation Serif", "Times New Roman", serif;' stroke="#000" stroke-width="0.28">(</text>
<text x="1161.77" y="1325.10" font-size="31.00" textLength="10.95" lengthAdjust="spacingAndGlyphs" style='font-family:"Liberation Serif", "Times New Roman", serif;font-style:italic;' stroke="#000" stroke-width="0.28">t</text>
<text x="1172.73" y="1331.50" font-size="22.32" textLength="14.19" lengthAdjust="spacingAndGlyphs" style='font-family:"Liberation Serif", "Times New Roman", serif;font-style:italic;' stroke="#000" stroke-width="0.28">n</text>
<text x="1186.92" y="1325.10" font-size="31.00" textLength="13.13" lengthAdjust="spacingAndGlyphs" style='font-family:"Liberation Serif", "Times New Roman", serif;' stroke="#000" stroke-width="0.28">)</text>
<text x="1209.91" y="1325.10" font-size="31.00" textLength="22.24" lengthAdjust="spacingAndGlyphs" style='font-family:"Liberation Serif", "Times New Roman", serif;' stroke="#000" stroke-width="0.28">−</text>
<text x="1242.00" y="1325.10" font-size="31.00" textLength="24.08" lengthAdjust="spacingAndGlyphs" style='font-family:"Liberation Serif", "Times New Roman", serif;font-style:italic;' stroke="#000" stroke-width="0.28">A</text>
<text x="1266.09" y="1331.50" font-size="22.32" textLength="59.94" lengthAdjust="spacingAndGlyphs" style='font-family:"Liberation Serif", "Times New Roman", serif;font-style:italic;' stroke="#000" stroke-width="0.28">norm</text>
<text x="1335.88" y="1325.10" font-size="31.00" textLength="13.13" lengthAdjust="spacingAndGlyphs" style='font-family:"Liberation Serif", "Times New Roman", serif;' stroke="#000" stroke-width="0.28">(</text>
<text x="1349.01" y="1325.10" font-size="31.00" textLength="10.95" lengthAdjust="spacingAndGlyphs" style='font-family:"Liberation Serif", "Times New Roman", serif;font-style:italic;' stroke="#000" stroke-width="0.28">t</text>
<text x="1359.96" y="1331.50" font-size="22.32" textLength="47.54" lengthAdjust="spacingAndGlyphs" style='font-family:"Liberation Serif", "Times New Roman", serif;font-style:italic;' stroke="#000" stroke-width="0.28">n−1</text>
<text x="1407.51" y="1325.10" font-size="31.00" textLength="13.13" lengthAdjust="spacingAndGlyphs" style='font-family:"Liberation Serif", "Times New Roman", serif;' stroke="#000" stroke-width="0.28">)</text>
<rect x="1052.60" y="1340.25" width="369.20" height="1.90" fill="#000"/>
<text x="1156.66" y="1372.70" font-size="31.00" textLength="13.94" lengthAdjust="spacingAndGlyphs" style='font-family:"Liberation Serif", "Times New Roman", serif;' stroke="#000" stroke-width="0.28">(</text>
<text x="1170.60" y="1372.70" font-size="31.00" textLength="11.63" lengthAdjust="spacingAndGlyphs" style='font-family:"Liberation Serif", "Times New Roman", serif;font-style:italic;' stroke="#000" stroke-width="0.28">t</text>
<text x="1182.22" y="1379.50" font-size="22.32" textLength="15.07" lengthAdjust="spacingAndGlyphs" style='font-family:"Liberation Serif", "Times New Roman", serif;font-style:italic;' stroke="#000" stroke-width="0.28">n</text>
<text x="1207.75" y="1372.70" font-size="31.00" textLength="23.60" lengthAdjust="spacingAndGlyphs" style='font-family:"Liberation Serif", "Times New Roman", serif;' stroke="#000" stroke-width="0.28">−</text>
<text x="1241.81" y="1372.70" font-size="31.00" textLength="11.63" lengthAdjust="spacingAndGlyphs" style='font-family:"Liberation Serif", "Times New Roman", serif;font-style:italic;' stroke="#000" stroke-width="0.28">t</text>
<text x="1253.44" y="1379.50" font-size="22.32" textLength="50.46" lengthAdjust="spacingAndGlyphs" style='font-family:"Liberation Serif", "Times New Roman", serif;font-style:italic;' stroke="#000" stroke-width="0.28">n−1</text>
<text x="1303.91" y="1372.70" font-size="31.00" textLength="13.94" lengthAdjust="spacingAndGlyphs" style='font-family:"Liberation Serif", "Times New Roman", serif;' stroke="#000" stroke-width="0.28">)</text>
<line x1="172.40" y1="847.80" x2="629.90" y2="847.80" stroke="#BFBFBF" stroke-width="1.40"/>
<line x1="177.70" y1="843.20" x2="177.70" y2="847.80" stroke="#BFBFBF" stroke-width="1.20"/>
<line x1="260.00" y1="843.20" x2="260.00" y2="847.80" stroke="#BFBFBF" stroke-width="1.20"/>
<line x1="342.00" y1="843.20" x2="342.00" y2="847.80" stroke="#BFBFBF" stroke-width="1.20"/>
<line x1="424.50" y1="843.20" x2="424.50" y2="847.80" stroke="#BFBFBF" stroke-width="1.20"/>
<line x1="507.00" y1="843.20" x2="507.00" y2="847.80" stroke="#BFBFBF" stroke-width="1.20"/>
<line x1="589.00" y1="843.20" x2="589.00" y2="847.80" stroke="#BFBFBF" stroke-width="1.20"/>
<line x1="177.70" y1="847.80" x2="177.70" y2="1222.00" stroke="#BFBFBF" stroke-width="1.40"/>
<line x1="172.40" y1="922.60" x2="177.70" y2="922.60" stroke="#BFBFBF" stroke-width="1.20"/>
<line x1="172.40" y1="997.40" x2="177.70" y2="997.40" stroke="#BFBFBF" stroke-width="1.20"/>
<line x1="172.40" y1="1072.20" x2="177.70" y2="1072.20" stroke="#BFBFBF" stroke-width="1.20"/>
<line x1="172.40" y1="1147.00" x2="177.70" y2="1147.00" stroke="#BFBFBF" stroke-width="1.20"/>
<line x1="172.40" y1="1222.00" x2="177.70" y2="1222.00" stroke="#BFBFBF" stroke-width="1.20"/>
<text x="166.62" y="831.60" font-size="15.50" textLength="21.40" lengthAdjust="spacingAndGlyphs" style='font-family:"Liberation Sans", Arial, sans-serif;' fill="#262626">0%</text>
<text x="245.27" y="831.60" font-size="15.50" textLength="29.35" lengthAdjust="spacingAndGlyphs" style='font-family:"Liberation Sans", Arial, sans-serif;' fill="#262626">20%</text>
<text x="327.67" y="831.60" font-size="15.50" textLength="29.15" lengthAdjust="spacingAndGlyphs" style='font-family:"Liberation Sans", Arial, sans-serif;' fill="#262626">40%</text>
<text x="409.75" y="831.60" font-size="15.50" textLength="29.58" lengthAdjust="spacingAndGlyphs" style='font-family:"Liberation Sans", Arial, sans-serif;' fill="#262626">60%</text>
<text x="491.96" y="831.60" font-size="15.50" textLength="29.56" lengthAdjust="spacingAndGlyphs" style='font-family:"Liberation Sans", Arial, sans-serif;' fill="#262626">80%</text>
<text x="569.98" y="831.60" font-size="15.50" textLength="37.85" lengthAdjust="spacingAndGlyphs" style='font-family:"Liberation Sans", Arial, sans-serif;' fill="#262626">100%</text>
<text x="140.94" y="853.10" font-size="15.50" textLength="20.87" lengthAdjust="spacingAndGlyphs" style='font-family:"Liberation Sans", Arial, sans-serif;' fill="#262626">0%</text>
<text x="132.47" y="927.90" font-size="15.50" textLength="29.35" lengthAdjust="spacingAndGlyphs" style='font-family:"Liberation Sans", Arial, sans-serif;' fill="#262626">20%</text>
<text x="132.87" y="1002.70" font-size="15.50" textLength="28.95" lengthAdjust="spacingAndGlyphs" style='font-family:"Liberation Sans", Arial, sans-serif;' fill="#262626">40%</text>
<text x="132.45" y="1077.50" font-size="15.50" textLength="29.37" lengthAdjust="spacingAndGlyphs" style='font-family:"Liberation Sans", Arial, sans-serif;' fill="#262626">60%</text>
<text x="132.57" y="1152.30" font-size="15.50" textLength="29.25" lengthAdjust="spacingAndGlyphs" style='font-family:"Liberation Sans", Arial, sans-serif;' fill="#262626">80%</text>
<text x="123.67" y="1227.30" font-size="15.50" textLength="38.17" lengthAdjust="spacingAndGlyphs" style='font-family:"Liberation Sans", Arial, sans-serif;' fill="#262626">100%</text>
<text x="364.93" y="836.00" font-size="18.50" textLength="6.87" lengthAdjust="spacingAndGlyphs" style='font-family:"Liberation Sans", Arial, sans-serif;font-weight:bold;font-style:italic;' fill="#000">t</text>
<text x="372.15" y="840.20" font-size="14.50" textLength="32.25" lengthAdjust="spacingAndGlyphs" style='font-family:"Liberation Sans", Arial, sans-serif;font-weight:bold;' fill="#000">norm</text>
<g transform="translate(118.4,1054) rotate(-90)"><text x="-0.55" y="0.00" font-size="20.50" textLength="15.93" lengthAdjust="spacingAndGlyphs" style='font-family:"Liberation Sans", Arial, sans-serif;font-weight:bold;' fill="#000">A</text><text x="14.63" y="5.00" font-size="14.50" textLength="32.99" lengthAdjust="spacingAndGlyphs" style='font-family:"Liberation Sans", Arial, sans-serif;font-weight:bold;' fill="#000">norm</text></g>
<text x="198.38" y="893.30" font-size="36.77" textLength="240.19" lengthAdjust="spacingAndGlyphs" style='font-family:"Liberation Sans", Arial, sans-serif;' fill="#000">Normalisation</text>
<text x="201.00" y="942.00" font-size="36.77" textLength="200.77" lengthAdjust="spacingAndGlyphs" style='font-family:"Liberation Sans", Arial, sans-serif;' fill="#000">to start/end</text>
<path d="M177.6,1222.2 C178.6,1221.4 181.6,1219.2 183.7,1217.6 C185.7,1216.0 187.7,1214.5 189.7,1212.8 C191.7,1211.2 193.7,1209.6 195.8,1207.9 C197.8,1206.3 199.8,1204.6 201.8,1202.9 C203.8,1201.1 205.8,1199.4 207.9,1197.6 C209.9,1195.9 211.9,1194.1 213.9,1192.3 C215.9,1190.5 217.9,1188.7 220.0,1186.8 C222.0,1185.0 224.0,1183.1 226.0,1181.2 C228.0,1179.3 230.0,1177.4 232.1,1175.5 C234.1,1173.6 236.1,1171.7 238.1,1169.7 C240.1,1167.8 242.1,1165.8 244.2,1163.8 C246.2,1161.9 248.2,1159.9 250.2,1157.9 C252.2,1155.9 254.3,1153.8 256.3,1151.8 C258.3,1149.8 260.3,1147.7 262.3,1145.7 C264.3,1143.7 266.4,1141.6 268.4,1139.5 C270.4,1137.5 272.4,1135.4 274.4,1133.3 C276.4,1131.2 278.5,1129.2 280.5,1127.1 C282.5,1125.0 284.5,1122.9 286.5,1120.8 C288.5,1118.7 290.6,1116.6 292.6,1114.5 C294.6,1112.4 296.6,1110.3 298.6,1108.2 C300.6,1106.1 302.7,1104.0 304.7,1101.9 C306.7,1099.8 308.7,1097.7 310.7,1095.6 C312.7,1093.5 314.8,1091.4 316.8,1089.3 C318.8,1087.2 320.8,1085.1 322.8,1083.0 C324.9,1080.9 326.9,1078.8 328.9,1076.7 C330.9,1074.7 332.9,1072.6 334.9,1070.5 C337.0,1068.5 339.0,1066.4 341.0,1064.4 C343.0,1062.3 345.0,1060.3 347.0,1058.3 C349.1,1056.3 351.1,1054.3 353.1,1052.3 C355.1,1050.3 357.1,1048.3 359.1,1046.3 C361.2,1044.3 363.2,1042.4 365.2,1040.5 C367.2,1038.5 369.2,1036.6 371.2,1034.7 C373.3,1032.8 375.3,1030.9 377.3,1029.0 C379.3,1027.1 381.3,1025.3 383.4,1023.4 C385.4,1021.6 387.4,1019.8 389.4,1018.0 C391.4,1016.2 393.4,1014.4 395.5,1012.7 C397.5,1010.9 399.5,1009.2 401.5,1007.5 C403.5,1005.7 405.5,1004.0 407.6,1002.4 C409.6,1000.7 411.6,999.0 413.6,997.3 C415.6,995.7 417.6,994.0 419.7,992.4 C421.7,990.7 423.7,989.1 425.7,987.5 C427.7,985.9 429.7,984.3 431.8,982.7 C433.8,981.1 435.8,979.5 437.8,977.9 C439.8,976.4 441.8,974.8 443.9,973.2 C445.9,971.6 447.9,970.1 449.9,968.5 C451.9,967.0 454.0,965.4 456.0,963.9 C458.0,962.3 460.0,960.8 462.0,959.2 C464.0,957.7 466.1,956.1 468.1,954.6 C470.1,953.0 472.1,951.5 474.1,949.9 C476.1,948.4 478.2,946.8 480.2,945.3 C482.2,943.7 484.2,942.2 486.2,940.6 C488.2,939.0 490.3,937.5 492.3,935.9 C494.3,934.3 496.3,932.7 498.3,931.1 C500.3,929.5 502.4,927.9 504.4,926.3 C506.4,924.7 508.4,923.1 510.4,921.5 C512.4,919.8 514.5,918.2 516.5,916.5 C518.5,914.9 520.5,913.2 522.5,911.5 C524.6,909.8 526.6,908.1 528.6,906.4 C530.6,904.7 532.6,903.0 534.6,901.2 C536.7,899.5 538.7,897.7 540.7,895.9 C542.7,894.1 544.7,892.3 546.7,890.5 C548.8,888.6 550.8,886.8 552.8,884.9 C554.8,883.0 556.8,881.1 558.8,879.2 C560.9,877.3 562.9,875.4 564.9,873.4 C566.9,871.4 568.9,869.4 570.9,867.4 C573.0,865.4 575.0,863.3 577.0,861.2 C579.0,859.2 581.0,857.1 583.0,854.9 C585.1,852.8 588.1,849.5 589.1,848.4" fill="none" stroke="#C00000" stroke-width="3.00" stroke-linecap="round" stroke-linejoin="round"/>
<path d="M177.6,1222.2 C178.6,1221.4 181.6,1219.2 183.7,1217.7 C185.7,1216.1 187.7,1214.6 189.7,1213.1 C191.7,1211.5 193.7,1210.0 195.8,1208.4 C197.8,1206.8 199.8,1205.3 201.8,1203.7 C203.8,1202.1 205.8,1200.5 207.9,1198.8 C209.9,1197.2 211.9,1195.6 213.9,1193.9 C215.9,1192.2 217.9,1190.5 220.0,1188.8 C222.0,1187.1 224.0,1185.4 226.0,1183.6 C228.0,1181.9 230.0,1180.1 232.1,1178.3 C234.1,1176.5 236.1,1174.7 238.1,1172.8 C240.1,1170.9 242.1,1169.1 244.2,1167.1 C246.2,1165.2 248.2,1163.3 250.2,1161.3 C252.2,1159.3 254.3,1157.2 256.3,1155.2 C258.3,1153.1 260.3,1151.0 262.3,1148.9 C264.3,1146.8 266.4,1144.6 268.4,1142.4 C270.4,1140.1 272.4,1137.9 274.4,1135.6 C276.4,1133.3 278.5,1131.0 280.5,1128.6 C282.5,1126.3 284.5,1123.9 286.5,1121.5 C288.5,1119.1 290.6,1116.7 292.6,1114.2 C294.6,1111.8 296.6,1109.3 298.6,1106.8 C300.6,1104.4 302.7,1101.9 304.7,1099.4 C306.7,1096.9 308.7,1094.4 310.7,1091.9 C312.7,1089.4 314.8,1086.9 316.8,1084.4 C318.8,1081.9 320.8,1079.4 322.8,1076.9 C324.9,1074.4 326.9,1072.0 328.9,1069.5 C330.9,1067.1 332.9,1064.6 334.9,1062.2 C337.0,1059.8 339.0,1057.4 341.0,1055.0 C343.0,1052.6 345.0,1050.2 347.0,1047.9 C349.1,1045.5 351.1,1043.2 353.1,1040.9 C355.1,1038.6 357.1,1036.3 359.1,1034.0 C361.2,1031.8 363.2,1029.6 365.2,1027.4 C367.2,1025.1 369.2,1023.0 371.2,1020.8 C373.3,1018.7 375.3,1016.6 377.3,1014.5 C379.3,1012.4 381.3,1010.3 383.4,1008.2 C385.4,1006.2 387.4,1004.2 389.4,1002.2 C391.4,1000.2 393.4,998.2 395.5,996.2 C397.5,994.3 399.5,992.3 401.5,990.4 C403.5,988.5 405.5,986.6 407.6,984.7 C409.6,982.9 411.6,981.0 413.6,979.2 C415.6,977.4 417.6,975.6 419.7,973.8 C421.7,972.0 423.7,970.2 425.7,968.4 C427.7,966.7 429.7,964.9 431.8,963.2 C433.8,961.5 435.8,959.8 437.8,958.1 C439.8,956.4 441.8,954.8 443.9,953.1 C445.9,951.5 447.9,949.8 449.9,948.2 C451.9,946.6 454.0,945.0 456.0,943.4 C458.0,941.8 460.0,940.2 462.0,938.6 C464.0,937.0 466.1,935.5 468.1,933.9 C470.1,932.4 472.1,930.9 474.1,929.3 C476.1,927.8 478.2,926.3 480.2,924.8 C482.2,923.3 484.2,921.8 486.2,920.3 C488.2,918.8 490.3,917.4 492.3,915.9 C494.3,914.4 496.3,913.0 498.3,911.5 C500.3,910.1 502.4,908.6 504.4,907.2 C506.4,905.8 508.4,904.3 510.4,902.9 C512.4,901.5 514.5,900.1 516.5,898.7 C518.5,897.2 520.5,895.8 522.5,894.4 C524.6,893.0 526.6,891.6 528.6,890.2 C530.6,888.8 532.6,887.4 534.6,886.1 C536.7,884.7 538.7,883.3 540.7,881.9 C542.7,880.5 544.7,879.1 546.7,877.7 C548.8,876.3 550.8,875.0 552.8,873.6 C554.8,872.2 556.8,870.8 558.8,869.4 C560.9,868.0 562.9,866.6 564.9,865.2 C566.9,863.9 568.9,862.5 570.9,861.1 C573.0,859.7 575.0,858.3 577.0,856.9 C579.0,855.5 581.0,854.1 583.0,852.6 C585.1,851.2 588.1,849.1 589.1,848.4" fill="none" stroke="#00A443" stroke-width="3.00" stroke-linecap="round" stroke-linejoin="round"/>
<path d="M177.6,1222.2 C178.6,1221.3 181.6,1218.6 183.7,1216.9 C185.7,1215.1 187.7,1213.3 189.7,1211.6 C191.7,1209.9 193.7,1208.1 195.8,1206.4 C197.8,1204.7 199.8,1203.0 201.8,1201.2 C203.8,1199.5 205.8,1197.8 207.9,1196.1 C209.9,1194.4 211.9,1192.6 213.9,1190.9 C215.9,1189.2 217.9,1187.4 220.0,1185.7 C222.0,1183.9 224.0,1182.1 226.0,1180.3 C228.0,1178.5 230.0,1176.7 232.1,1174.9 C234.1,1173.0 236.1,1171.2 238.1,1169.3 C240.1,1167.4 242.1,1165.5 244.2,1163.5 C246.2,1161.6 248.2,1159.6 250.2,1157.6 C252.2,1155.5 254.3,1153.5 256.3,1151.4 C258.3,1149.3 260.3,1147.2 262.3,1145.0 C264.3,1142.9 266.4,1140.7 268.4,1138.5 C270.4,1136.3 272.4,1134.1 274.4,1131.8 C276.4,1129.6 278.5,1127.3 280.5,1125.0 C282.5,1122.7 284.5,1120.4 286.5,1118.1 C288.5,1115.8 290.6,1113.5 292.6,1111.1 C294.6,1108.8 296.6,1106.4 298.6,1104.1 C300.6,1101.8 302.7,1099.4 304.7,1097.1 C306.7,1094.8 308.7,1092.4 310.7,1090.1 C312.7,1087.8 314.8,1085.5 316.8,1083.3 C318.8,1081.0 320.8,1078.8 322.8,1076.5 C324.9,1074.3 326.9,1072.1 328.9,1070.0 C330.9,1067.8 332.9,1065.7 334.9,1063.6 C337.0,1061.5 339.0,1059.4 341.0,1057.3 C343.0,1055.2 345.0,1053.2 347.0,1051.2 C349.1,1049.1 351.1,1047.2 353.1,1045.2 C355.1,1043.2 357.1,1041.2 359.1,1039.3 C361.2,1037.4 363.2,1035.5 365.2,1033.6 C367.2,1031.7 369.2,1029.8 371.2,1027.9 C373.3,1026.1 375.3,1024.2 377.3,1022.4 C379.3,1020.5 381.3,1018.7 383.4,1016.9 C385.4,1015.0 387.4,1013.2 389.4,1011.4 C391.4,1009.5 393.4,1007.7 395.5,1005.9 C397.5,1004.0 399.5,1002.1 401.5,1000.3 C403.5,998.4 405.5,996.5 407.6,994.6 C409.6,992.7 411.6,990.7 413.6,988.8 C415.6,986.8 417.6,984.8 419.7,982.9 C421.7,980.9 423.7,978.9 425.7,976.8 C427.7,974.8 429.7,972.8 431.8,970.8 C433.8,968.7 435.8,966.7 437.8,964.7 C439.8,962.6 441.8,960.6 443.9,958.5 C445.9,956.5 447.9,954.5 449.9,952.4 C451.9,950.4 454.0,948.4 456.0,946.4 C458.0,944.4 460.0,942.4 462.0,940.4 C464.0,938.4 466.1,936.4 468.1,934.5 C470.1,932.5 472.1,930.6 474.1,928.7 C476.1,926.8 478.2,925.0 480.2,923.1 C482.2,921.3 484.2,919.4 486.2,917.7 C488.2,915.9 490.3,914.1 492.3,912.4 C494.3,910.6 496.3,908.9 498.3,907.2 C500.3,905.5 502.4,903.9 504.4,902.2 C506.4,900.6 508.4,899.0 510.4,897.4 C512.4,895.8 514.5,894.3 516.5,892.7 C518.5,891.2 520.5,889.7 522.5,888.2 C524.6,886.7 526.6,885.3 528.6,883.8 C530.6,882.4 532.6,881.0 534.6,879.6 C536.7,878.2 538.7,876.9 540.7,875.6 C542.7,874.2 544.7,872.9 546.7,871.6 C548.8,870.4 550.8,869.1 552.8,867.9 C554.8,866.7 556.8,865.4 558.8,864.3 C560.9,863.1 562.9,861.9 564.9,860.8 C566.9,859.7 568.9,858.6 570.9,857.5 C573.0,856.4 575.0,855.3 577.0,854.3 C579.0,853.3 581.0,852.3 583.0,851.3 C585.1,850.3 588.1,848.9 589.1,848.4" fill="none" stroke="#FFC000" stroke-width="3.00" stroke-linecap="round" stroke-linejoin="round"/>
<path d="M177.6,1222.2 C178.6,1221.9 181.6,1221.0 183.7,1220.4 C185.7,1219.8 187.7,1219.1 189.7,1218.4 C191.7,1217.8 193.7,1217.1 195.8,1216.3 C197.8,1215.6 199.8,1214.9 201.8,1214.1 C203.8,1213.3 205.8,1212.5 207.9,1211.6 C209.9,1210.8 211.9,1209.9 213.9,1209.0 C215.9,1208.1 217.9,1207.2 220.0,1206.2 C222.0,1205.2 224.0,1204.2 226.0,1203.1 C228.0,1202.1 230.0,1201.0 232.1,1199.9 C234.1,1198.8 236.1,1197.6 238.1,1196.4 C240.1,1195.2 242.1,1194.0 244.2,1192.7 C246.2,1191.4 248.2,1190.1 250.2,1188.8 C252.2,1187.4 254.3,1186.0 256.3,1184.6 C258.3,1183.2 260.3,1181.8 262.3,1180.3 C264.3,1178.8 266.4,1177.3 268.4,1175.8 C270.4,1174.2 272.4,1172.6 274.4,1171.0 C276.4,1169.5 278.5,1167.8 280.5,1166.2 C282.5,1164.6 284.5,1162.9 286.5,1161.3 C288.5,1159.6 290.6,1157.9 292.6,1156.2 C294.6,1154.6 296.6,1152.9 298.6,1151.2 C300.6,1149.5 302.7,1147.8 304.7,1146.1 C306.7,1144.4 308.7,1142.8 310.7,1141.1 C312.7,1139.4 314.8,1137.7 316.8,1136.0 C318.8,1134.4 320.8,1132.7 322.8,1131.0 C324.9,1129.3 326.9,1127.7 328.9,1126.0 C330.9,1124.4 332.9,1122.7 334.9,1121.0 C337.0,1119.4 339.0,1117.8 341.0,1116.1 C343.0,1114.5 345.0,1112.9 347.0,1111.2 C349.1,1109.6 351.1,1108.0 353.1,1106.4 C355.1,1104.8 357.1,1103.2 359.1,1101.6 C361.2,1100.0 363.2,1098.5 365.2,1096.9 C367.2,1095.3 369.2,1093.8 371.2,1092.3 C373.3,1090.7 375.3,1089.2 377.3,1087.7 C379.3,1086.2 381.3,1084.7 383.4,1083.2 C385.4,1081.7 387.4,1080.2 389.4,1078.8 C391.4,1077.3 393.4,1075.9 395.5,1074.4 C397.5,1073.0 399.5,1071.6 401.5,1070.1 C403.5,1068.7 405.5,1067.3 407.6,1065.9 C409.6,1064.4 411.6,1063.0 413.6,1061.6 C415.6,1060.2 417.6,1058.7 419.7,1057.3 C421.7,1055.8 423.7,1054.4 425.7,1052.9 C427.7,1051.4 429.7,1049.9 431.8,1048.4 C433.8,1046.9 435.8,1045.4 437.8,1043.9 C439.8,1042.3 441.8,1040.8 443.9,1039.2 C445.9,1037.6 447.9,1035.9 449.9,1034.3 C451.9,1032.6 454.0,1030.9 456.0,1029.2 C458.0,1027.5 460.0,1025.7 462.0,1023.9 C464.0,1022.1 466.1,1020.3 468.1,1018.4 C470.1,1016.5 472.1,1014.6 474.1,1012.6 C476.1,1010.6 478.2,1008.5 480.2,1006.5 C482.2,1004.4 484.2,1002.2 486.2,1000.0 C488.2,997.8 490.3,995.5 492.3,993.2 C494.3,990.9 496.3,988.5 498.3,986.1 C500.3,983.6 502.4,981.1 504.4,978.5 C506.4,976.0 508.4,973.3 510.4,970.7 C512.4,968.0 514.5,965.3 516.5,962.5 C518.5,959.7 520.5,956.9 522.5,954.1 C524.6,951.2 526.6,948.3 528.6,945.3 C530.6,942.4 532.6,939.4 534.6,936.4 C536.7,933.3 538.7,930.3 540.7,927.2 C542.7,924.1 544.7,920.9 546.7,917.8 C548.8,914.6 550.8,911.4 552.8,908.2 C554.8,905.0 556.8,901.8 558.8,898.5 C560.9,895.2 562.9,892.0 564.9,888.7 C566.9,885.4 568.9,882.0 570.9,878.7 C573.0,875.4 575.0,872.0 577.0,868.7 C579.0,865.3 581.0,861.9 583.0,858.5 C585.1,855.2 588.1,850.1 589.1,848.4" fill="none" stroke="#CC00CC" stroke-width="3.00" stroke-linecap="round" stroke-linejoin="round"/>
<path d="M177.6,1222.2 C178.6,1221.8 181.6,1220.5 183.7,1219.8 C185.7,1219.0 187.7,1218.3 189.7,1217.6 C191.7,1217.0 193.7,1216.4 195.8,1215.8 C197.8,1215.2 199.8,1214.6 201.8,1214.0 C203.8,1213.5 205.8,1212.9 207.9,1212.3 C209.9,1211.8 211.9,1211.2 213.9,1210.6 C215.9,1210.0 217.9,1209.4 220.0,1208.8 C222.0,1208.1 224.0,1207.5 226.0,1206.7 C228.0,1206.0 230.0,1205.2 232.1,1204.3 C234.1,1203.5 236.1,1202.5 238.1,1201.6 C240.1,1200.6 242.1,1199.5 244.2,1198.4 C246.2,1197.2 248.2,1196.0 250.2,1194.8 C252.2,1193.6 254.3,1192.3 256.3,1191.0 C258.3,1189.7 260.3,1188.3 262.3,1186.9 C264.3,1185.5 266.4,1184.1 268.4,1182.7 C270.4,1181.3 272.4,1179.8 274.4,1178.3 C276.4,1176.9 278.5,1175.4 280.5,1174.0 C282.5,1172.5 284.5,1171.0 286.5,1169.6 C288.5,1168.1 290.6,1166.7 292.6,1165.3 C294.6,1163.9 296.6,1162.5 298.6,1161.1 C300.6,1159.8 302.7,1158.5 304.7,1157.2 C306.7,1155.9 308.7,1154.6 310.7,1153.4 C312.7,1152.2 314.8,1151.0 316.8,1149.8 C318.8,1148.6 320.8,1147.5 322.8,1146.3 C324.9,1145.2 326.9,1144.0 328.9,1142.9 C330.9,1141.8 332.9,1140.7 334.9,1139.6 C337.0,1138.5 339.0,1137.5 341.0,1136.4 C343.0,1135.3 345.0,1134.2 347.0,1133.2 C349.1,1132.1 351.1,1131.0 353.1,1129.9 C355.1,1128.8 357.1,1127.8 359.1,1126.7 C361.2,1125.6 363.2,1124.5 365.2,1123.3 C367.2,1122.2 369.2,1121.1 371.2,1119.9 C373.3,1118.8 375.3,1117.6 377.3,1116.4 C379.3,1115.2 381.3,1114.0 383.4,1112.7 C385.4,1111.5 387.4,1110.2 389.4,1108.9 C391.4,1107.6 393.4,1106.2 395.5,1104.8 C397.5,1103.5 399.5,1102.0 401.5,1100.6 C403.5,1099.1 405.5,1097.6 407.6,1096.1 C409.6,1094.6 411.6,1093.0 413.6,1091.4 C415.6,1089.7 417.6,1088.1 419.7,1086.4 C421.7,1084.6 423.7,1082.9 425.7,1081.1 C427.7,1079.3 429.7,1077.4 431.8,1075.5 C433.8,1073.6 435.8,1071.6 437.8,1069.6 C439.8,1067.5 441.8,1065.5 443.9,1063.3 C445.9,1061.2 447.9,1059.0 449.9,1056.7 C451.9,1054.5 454.0,1052.1 456.0,1049.7 C458.0,1047.4 460.0,1044.9 462.0,1042.4 C464.0,1039.9 466.1,1037.3 468.1,1034.6 C470.1,1032.0 472.1,1029.3 474.1,1026.5 C476.1,1023.7 478.2,1020.8 480.2,1017.9 C482.2,1014.9 484.2,1011.9 486.2,1008.8 C488.2,1005.8 490.3,1002.6 492.3,999.5 C494.3,996.3 496.3,993.1 498.3,989.8 C500.3,986.6 502.4,983.3 504.4,980.0 C506.4,976.7 508.4,973.4 510.4,970.1 C512.4,966.8 514.5,963.5 516.5,960.2 C518.5,956.9 520.5,953.6 522.5,950.3 C524.6,947.0 526.6,943.8 528.6,940.6 C530.6,937.4 532.6,934.2 534.6,931.1 C536.7,927.9 538.7,924.8 540.7,921.8 C542.7,918.7 544.7,915.7 546.7,912.7 C548.8,909.6 550.8,906.7 552.8,903.7 C554.8,900.7 556.8,897.7 558.8,894.7 C560.9,891.7 562.9,888.7 564.9,885.7 C566.9,882.7 568.9,879.7 570.9,876.7 C573.0,873.6 575.0,870.6 577.0,867.5 C579.0,864.4 581.0,861.2 583.0,858.1 C585.1,854.9 588.1,850.0 589.1,848.4" fill="none" stroke="#4472C4" stroke-width="3.00" stroke-linecap="round" stroke-linejoin="round"/>
<path d="M177.6,1222.2 C178.6,1222.1 181.6,1221.9 183.7,1221.7 C185.7,1221.5 187.7,1221.2 189.7,1221.0 C191.7,1220.8 193.7,1220.5 195.8,1220.2 C197.8,1219.9 199.8,1219.6 201.8,1219.3 C203.8,1218.9 205.8,1218.5 207.9,1218.1 C209.9,1217.7 211.9,1217.3 213.9,1216.8 C215.9,1216.3 217.9,1215.7 220.0,1215.1 C222.0,1214.6 224.0,1213.9 226.0,1213.2 C228.0,1212.6 230.0,1211.8 232.1,1211.0 C234.1,1210.2 236.1,1209.4 238.1,1208.5 C240.1,1207.6 242.1,1206.6 244.2,1205.6 C246.2,1204.6 248.2,1203.5 250.2,1202.4 C252.2,1201.3 254.3,1200.2 256.3,1199.0 C258.3,1197.8 260.3,1196.5 262.3,1195.3 C264.3,1194.0 266.4,1192.7 268.4,1191.3 C270.4,1190.0 272.4,1188.6 274.4,1187.2 C276.4,1185.8 278.5,1184.3 280.5,1182.9 C282.5,1181.4 284.5,1180.0 286.5,1178.5 C288.5,1177.0 290.6,1175.5 292.6,1173.9 C294.6,1172.4 296.6,1170.9 298.6,1169.3 C300.6,1167.8 302.7,1166.2 304.7,1164.6 C306.7,1163.1 308.7,1161.5 310.7,1160.0 C312.7,1158.4 314.8,1156.8 316.8,1155.3 C318.8,1153.8 320.8,1152.2 322.8,1150.7 C324.9,1149.2 326.9,1147.7 328.9,1146.3 C330.9,1144.8 332.9,1143.4 334.9,1142.0 C337.0,1140.6 339.0,1139.3 341.0,1137.9 C343.0,1136.6 345.0,1135.4 347.0,1134.1 C349.1,1132.9 351.1,1131.7 353.1,1130.5 C355.1,1129.3 357.1,1128.1 359.1,1127.0 C361.2,1125.8 363.2,1124.7 365.2,1123.6 C367.2,1122.4 369.2,1121.3 371.2,1120.2 C373.3,1119.0 375.3,1117.9 377.3,1116.7 C379.3,1115.6 381.3,1114.4 383.4,1113.2 C385.4,1112.0 387.4,1110.7 389.4,1109.5 C391.4,1108.2 393.4,1106.9 395.5,1105.5 C397.5,1104.2 399.5,1102.8 401.5,1101.4 C403.5,1099.9 405.5,1098.5 407.6,1097.0 C409.6,1095.4 411.6,1093.9 413.6,1092.3 C415.6,1090.7 417.6,1089.0 419.7,1087.3 C421.7,1085.7 423.7,1083.9 425.7,1082.2 C427.7,1080.4 429.7,1078.6 431.8,1076.7 C433.8,1074.8 435.8,1072.9 437.8,1071.0 C439.8,1069.0 441.8,1067.0 443.9,1065.0 C445.9,1063.0 447.9,1060.9 449.9,1058.7 C451.9,1056.6 454.0,1054.4 456.0,1052.2 C458.0,1050.0 460.0,1047.7 462.0,1045.4 C464.0,1043.1 466.1,1040.7 468.1,1038.3 C470.1,1035.9 472.1,1033.4 474.1,1030.9 C476.1,1028.4 478.2,1025.8 480.2,1023.2 C482.2,1020.6 484.2,1018.0 486.2,1015.3 C488.2,1012.6 490.3,1009.9 492.3,1007.1 C494.3,1004.3 496.3,1001.5 498.3,998.6 C500.3,995.7 502.4,992.8 504.4,989.9 C506.4,986.9 508.4,983.9 510.4,980.9 C512.4,977.9 514.5,974.8 516.5,971.7 C518.5,968.6 520.5,965.4 522.5,962.3 C524.6,959.1 526.6,955.9 528.6,952.7 C530.6,949.4 532.6,946.2 534.6,942.9 C536.7,939.6 538.7,936.3 540.7,932.9 C542.7,929.6 544.7,926.2 546.7,922.8 C548.8,919.4 550.8,916.0 552.8,912.5 C554.8,909.1 556.8,905.6 558.8,902.1 C560.9,898.6 562.9,895.1 564.9,891.6 C566.9,888.0 568.9,884.5 570.9,880.9 C573.0,877.3 575.0,873.8 577.0,870.2 C579.0,866.6 581.0,862.9 583.0,859.3 C585.1,855.7 588.1,850.2 589.1,848.4" fill="none" stroke="#7030A0" stroke-width="3.00" stroke-linecap="round" stroke-linejoin="round"/>
<g filter="url(#blurC)"><rect x="730.8" y="848.5" width="87.5" height="419.0" fill="#EEF1FA"/>
<rect x="818.3" y="848.5" width="88.5" height="416.0" fill="#DAE2F2"/>
<rect x="906.8" y="848.5" width="92.0" height="416.0" fill="#CDD9F0"/>
<rect x="998.8" y="848.5" width="87.2" height="416.0" fill="#A1B2D1"/>
<rect x="1086.0" y="848.5" width="90.0" height="416.0" fill="#98A4BA"/>
<line x1="722.00" y1="847.70" x2="1220.70" y2="847.70" stroke="#C8C8C8" stroke-width="1.60"/>
<line x1="729.00" y1="842.50" x2="729.00" y2="847.70" stroke="#C8C8C8" stroke-width="1.40"/>
<line x1="818.00" y1="842.50" x2="818.00" y2="847.70" stroke="#C8C8C8" stroke-width="1.40"/>
<line x1="907.30" y1="842.50" x2="907.30" y2="847.70" stroke="#C8C8C8" stroke-width="1.40"/>
<line x1="998.60" y1="842.50" x2="998.60" y2="847.70" stroke="#C8C8C8" stroke-width="1.40"/>
<line x1="1085.40" y1="842.50" x2="1085.40" y2="847.70" stroke="#C8C8C8" stroke-width="1.40"/>
<line x1="1176.00" y1="842.50" x2="1176.00" y2="847.70" stroke="#C8C8C8" stroke-width="1.40"/>
<line x1="728.80" y1="847.70" x2="728.80" y2="1258.20" stroke="#C8C8C8" stroke-width="1.60"/>
<line x1="722.50" y1="929.80" x2="728.80" y2="929.80" stroke="#C8C8C8" stroke-width="1.40"/>
<line x1="722.50" y1="1011.90" x2="728.80" y2="1011.90" stroke="#C8C8C8" stroke-width="1.40"/>
<line x1="722.50" y1="1094.00" x2="728.80" y2="1094.00" stroke="#C8C8C8" stroke-width="1.40"/>
<line x1="722.50" y1="1176.00" x2="728.80" y2="1176.00" stroke="#C8C8C8" stroke-width="1.40"/>
<line x1="722.50" y1="1258.20" x2="728.80" y2="1258.20" stroke="#C8C8C8" stroke-width="1.40"/>
<path d="M730.8,1256.5 C731.8,1255.6 734.8,1252.7 736.8,1250.8 C738.8,1248.9 740.8,1247.0 742.8,1245.1 C744.8,1243.2 746.8,1241.3 748.8,1239.4 C750.8,1237.5 752.8,1235.6 754.8,1233.7 C756.8,1231.8 758.8,1229.8 760.8,1227.9 C762.8,1226.0 764.8,1224.1 766.8,1222.1 C768.8,1220.2 770.8,1218.2 772.8,1216.3 C774.8,1214.4 776.9,1212.4 778.9,1210.5 C780.9,1208.5 782.9,1206.5 784.9,1204.6 C786.9,1202.6 788.9,1200.7 790.9,1198.7 C792.9,1196.7 794.9,1194.7 796.9,1192.8 C798.9,1190.8 800.9,1188.8 802.9,1186.8 C804.9,1184.8 806.9,1182.8 808.9,1180.8 C810.9,1178.8 812.9,1176.8 814.9,1174.8 C816.9,1172.8 818.9,1170.8 820.9,1168.7 C822.9,1166.7 824.9,1164.7 826.9,1162.7 C828.9,1160.6 830.9,1158.6 832.9,1156.6 C834.9,1154.5 836.9,1152.5 838.9,1150.5 C840.9,1148.4 842.9,1146.4 844.9,1144.3 C846.9,1142.3 848.9,1140.2 850.9,1138.2 C852.9,1136.1 854.9,1134.1 856.9,1132.0 C858.9,1130.0 860.9,1127.9 862.9,1125.9 C865.0,1123.8 867.0,1121.8 869.0,1119.7 C871.0,1117.7 873.0,1115.6 875.0,1113.6 C877.0,1111.5 879.0,1109.5 881.0,1107.5 C883.0,1105.4 885.0,1103.4 887.0,1101.4 C889.0,1099.3 891.0,1097.3 893.0,1095.3 C895.0,1093.2 897.0,1091.2 899.0,1089.2 C901.0,1087.2 903.0,1085.2 905.0,1083.2 C907.0,1081.2 909.0,1079.2 911.0,1077.2 C913.0,1075.2 915.0,1073.2 917.0,1071.2 C919.0,1069.2 921.0,1067.3 923.0,1065.3 C925.0,1063.3 927.0,1061.4 929.0,1059.4 C931.0,1057.5 933.0,1055.6 935.0,1053.6 C937.0,1051.7 939.0,1049.8 941.0,1047.9 C943.0,1046.0 945.0,1044.1 947.0,1042.2 C949.0,1040.3 951.0,1038.4 953.0,1036.5 C955.1,1034.7 957.1,1032.8 959.1,1031.0 C961.1,1029.2 963.1,1027.3 965.1,1025.5 C967.1,1023.7 969.1,1021.9 971.1,1020.1 C973.1,1018.3 975.1,1016.5 977.1,1014.8 C979.1,1013.0 981.1,1011.2 983.1,1009.5 C985.1,1007.7 987.1,1006.0 989.1,1004.3 C991.1,1002.5 993.1,1000.8 995.1,999.1 C997.1,997.4 999.1,995.7 1001.1,994.0 C1003.1,992.3 1005.1,990.6 1007.1,988.9 C1009.1,987.2 1011.1,985.6 1013.1,983.9 C1015.1,982.2 1017.1,980.6 1019.1,978.9 C1021.1,977.2 1023.1,975.6 1025.1,973.9 C1027.1,972.3 1029.1,970.6 1031.1,969.0 C1033.1,967.4 1035.1,965.7 1037.1,964.1 C1039.1,962.5 1041.1,960.9 1043.2,959.2 C1045.2,957.6 1047.2,956.0 1049.2,954.4 C1051.2,952.7 1053.2,951.1 1055.2,949.5 C1057.2,947.9 1059.2,946.3 1061.2,944.7 C1063.2,943.0 1065.2,941.4 1067.2,939.8 C1069.2,938.2 1071.2,936.6 1073.2,935.0 C1075.2,933.3 1077.2,931.7 1079.2,930.1 C1081.2,928.5 1083.2,926.9 1085.2,925.2 C1087.2,923.6 1089.2,922.0 1091.2,920.4 C1093.2,918.7 1095.2,917.1 1097.2,915.5 C1099.2,913.8 1101.2,912.2 1103.2,910.5 C1105.2,908.9 1107.2,907.3 1109.2,905.6 C1111.2,903.9 1113.2,902.3 1115.2,900.6 C1117.2,899.0 1119.2,897.3 1121.2,895.6 C1123.2,893.9 1125.2,892.2 1127.2,890.5 C1129.2,888.9 1131.3,887.2 1133.3,885.4 C1135.3,883.7 1137.3,882.0 1139.3,880.3 C1141.3,878.6 1143.3,876.8 1145.3,875.1 C1147.3,873.3 1149.3,871.6 1151.3,869.8 C1153.3,868.1 1155.3,866.3 1157.3,864.5 C1159.3,862.7 1161.3,860.9 1163.3,859.1 C1165.3,857.3 1167.3,855.5 1169.3,853.6 C1171.3,851.8 1174.3,849.0 1175.3,848.1" fill="none" stroke="#B04A5A" stroke-width="2.90" stroke-linecap="round" stroke-linejoin="round"/>
<path d="M730.8,1256.5 C731.8,1255.6 734.8,1252.7 736.8,1250.9 C738.8,1249.0 740.8,1247.1 742.8,1245.2 C744.8,1243.3 746.8,1241.5 748.8,1239.6 C750.8,1237.7 752.8,1235.8 754.8,1233.9 C756.8,1232.0 758.8,1230.1 760.8,1228.3 C762.8,1226.4 764.8,1224.5 766.8,1222.6 C768.8,1220.7 770.8,1218.7 772.8,1216.8 C774.8,1214.9 776.9,1213.0 778.9,1211.1 C780.9,1209.2 782.9,1207.2 784.9,1205.3 C786.9,1203.4 788.9,1201.4 790.9,1199.5 C792.9,1197.5 794.9,1195.5 796.9,1193.6 C798.9,1191.6 800.9,1189.6 802.9,1187.7 C804.9,1185.7 806.9,1183.7 808.9,1181.7 C810.9,1179.7 812.9,1177.7 814.9,1175.6 C816.9,1173.6 818.9,1171.6 820.9,1169.5 C822.9,1167.5 824.9,1165.4 826.9,1163.3 C828.9,1161.3 830.9,1159.2 832.9,1157.1 C834.9,1155.0 836.9,1152.9 838.9,1150.8 C840.9,1148.6 842.9,1146.5 844.9,1144.4 C846.9,1142.2 848.9,1140.0 850.9,1137.9 C852.9,1135.7 854.9,1133.5 856.9,1131.3 C858.9,1129.1 860.9,1126.8 862.9,1124.6 C865.0,1122.3 867.0,1120.1 869.0,1117.8 C871.0,1115.5 873.0,1113.2 875.0,1110.9 C877.0,1108.7 879.0,1106.3 881.0,1104.0 C883.0,1101.7 885.0,1099.4 887.0,1097.1 C889.0,1094.8 891.0,1092.4 893.0,1090.1 C895.0,1087.8 897.0,1085.4 899.0,1083.1 C901.0,1080.8 903.0,1078.4 905.0,1076.1 C907.0,1073.8 909.0,1071.4 911.0,1069.1 C913.0,1066.8 915.0,1064.5 917.0,1062.1 C919.0,1059.8 921.0,1057.5 923.0,1055.2 C925.0,1052.9 927.0,1050.7 929.0,1048.4 C931.0,1046.1 933.0,1043.9 935.0,1041.6 C937.0,1039.4 939.0,1037.2 941.0,1034.9 C943.0,1032.7 945.0,1030.5 947.0,1028.4 C949.0,1026.2 951.0,1024.0 953.0,1021.9 C955.1,1019.8 957.1,1017.7 959.1,1015.6 C961.1,1013.5 963.1,1011.5 965.1,1009.4 C967.1,1007.4 969.1,1005.4 971.1,1003.4 C973.1,1001.4 975.1,999.5 977.1,997.6 C979.1,995.6 981.1,993.7 983.1,991.8 C985.1,989.9 987.1,988.1 989.1,986.2 C991.1,984.4 993.1,982.6 995.1,980.8 C997.1,978.9 999.1,977.2 1001.1,975.4 C1003.1,973.6 1005.1,971.9 1007.1,970.2 C1009.1,968.4 1011.1,966.7 1013.1,965.0 C1015.1,963.4 1017.1,961.7 1019.1,960.0 C1021.1,958.4 1023.1,956.7 1025.1,955.1 C1027.1,953.5 1029.1,951.9 1031.1,950.3 C1033.1,948.7 1035.1,947.1 1037.1,945.5 C1039.1,944.0 1041.1,942.4 1043.2,940.9 C1045.2,939.4 1047.2,937.8 1049.2,936.3 C1051.2,934.8 1053.2,933.3 1055.2,931.8 C1057.2,930.3 1059.2,928.8 1061.2,927.4 C1063.2,925.9 1065.2,924.4 1067.2,923.0 C1069.2,921.5 1071.2,920.1 1073.2,918.7 C1075.2,917.2 1077.2,915.8 1079.2,914.4 C1081.2,913.0 1083.2,911.6 1085.2,910.2 C1087.2,908.8 1089.2,907.4 1091.2,906.0 C1093.2,904.6 1095.2,903.2 1097.2,901.8 C1099.2,900.4 1101.2,899.0 1103.2,897.7 C1105.2,896.3 1107.2,894.9 1109.2,893.6 C1111.2,892.2 1113.2,890.8 1115.2,889.5 C1117.2,888.1 1119.2,886.7 1121.2,885.4 C1123.2,884.0 1125.2,882.6 1127.2,881.3 C1129.2,879.9 1131.3,878.6 1133.3,877.2 C1135.3,875.8 1137.3,874.5 1139.3,873.1 C1141.3,871.7 1143.3,870.4 1145.3,869.0 C1147.3,867.6 1149.3,866.3 1151.3,864.9 C1153.3,863.5 1155.3,862.1 1157.3,860.7 C1159.3,859.3 1161.3,858.0 1163.3,856.6 C1165.3,855.2 1167.3,853.8 1169.3,852.3 C1171.3,850.9 1174.3,848.8 1175.3,848.1" fill="none" stroke="#3EB489" stroke-width="2.90" stroke-linecap="round" stroke-linejoin="round"/>
<path d="M730.8,1256.5 C731.8,1255.4 734.8,1252.2 736.8,1250.1 C738.8,1248.0 740.8,1245.9 742.8,1243.8 C744.8,1241.8 746.8,1239.7 748.8,1237.7 C750.8,1235.7 752.8,1233.7 754.8,1231.7 C756.8,1229.7 758.8,1227.8 760.8,1225.8 C762.8,1223.8 764.8,1221.9 766.8,1219.9 C768.8,1218.0 770.8,1216.1 772.8,1214.2 C774.8,1212.2 776.9,1210.3 778.9,1208.4 C780.9,1206.5 782.9,1204.6 784.9,1202.7 C786.9,1200.8 788.9,1198.8 790.9,1196.9 C792.9,1195.0 794.9,1193.1 796.9,1191.2 C798.9,1189.2 800.9,1187.3 802.9,1185.4 C804.9,1183.4 806.9,1181.5 808.9,1179.5 C810.9,1177.5 812.9,1175.5 814.9,1173.5 C816.9,1171.5 818.9,1169.5 820.9,1167.5 C822.9,1165.5 824.9,1163.4 826.9,1161.3 C828.9,1159.3 830.9,1157.2 832.9,1155.1 C834.9,1153.0 836.9,1150.9 838.9,1148.8 C840.9,1146.7 842.9,1144.6 844.9,1142.5 C846.9,1140.4 848.9,1138.3 850.9,1136.2 C852.9,1134.1 854.9,1131.9 856.9,1129.8 C858.9,1127.7 860.9,1125.6 862.9,1123.5 C865.0,1121.4 867.0,1119.4 869.0,1117.3 C871.0,1115.2 873.0,1113.1 875.0,1111.1 C877.0,1109.0 879.0,1106.9 881.0,1104.9 C883.0,1102.8 885.0,1100.8 887.0,1098.7 C889.0,1096.7 891.0,1094.7 893.0,1092.6 C895.0,1090.6 897.0,1088.6 899.0,1086.6 C901.0,1084.6 903.0,1082.6 905.0,1080.6 C907.0,1078.6 909.0,1076.6 911.0,1074.6 C913.0,1072.6 915.0,1070.6 917.0,1068.6 C919.0,1066.6 921.0,1064.7 923.0,1062.7 C925.0,1060.7 927.0,1058.8 929.0,1056.8 C931.0,1054.9 933.0,1052.9 935.0,1051.0 C937.0,1049.1 939.0,1047.1 941.0,1045.2 C943.0,1043.3 945.0,1041.3 947.0,1039.4 C949.0,1037.5 951.0,1035.6 953.0,1033.7 C955.1,1031.8 957.1,1029.9 959.1,1028.0 C961.1,1026.1 963.1,1024.2 965.1,1022.3 C967.1,1020.4 969.1,1018.5 971.1,1016.7 C973.1,1014.8 975.1,1012.9 977.1,1011.0 C979.1,1009.1 981.1,1007.2 983.1,1005.3 C985.1,1003.4 987.1,1001.4 989.1,999.5 C991.1,997.6 993.1,995.6 995.1,993.6 C997.1,991.6 999.1,989.6 1001.1,987.6 C1003.1,985.6 1005.1,983.6 1007.1,981.5 C1009.1,979.5 1011.1,977.4 1013.1,975.3 C1015.1,973.2 1017.1,971.1 1019.1,969.0 C1021.1,966.9 1023.1,964.9 1025.1,962.8 C1027.1,960.7 1029.1,958.6 1031.1,956.5 C1033.1,954.4 1035.1,952.3 1037.1,950.3 C1039.1,948.2 1041.1,946.2 1043.2,944.1 C1045.2,942.1 1047.2,940.1 1049.2,938.1 C1051.2,936.1 1053.2,934.2 1055.2,932.3 C1057.2,930.3 1059.2,928.4 1061.2,926.6 C1063.2,924.7 1065.2,922.9 1067.2,921.1 C1069.2,919.3 1071.2,917.5 1073.2,915.8 C1075.2,914.1 1077.2,912.4 1079.2,910.8 C1081.2,909.1 1083.2,907.5 1085.2,906.0 C1087.2,904.4 1089.2,902.9 1091.2,901.4 C1093.2,900.0 1095.2,898.5 1097.2,897.1 C1099.2,895.8 1101.2,894.4 1103.2,893.1 C1105.2,891.7 1107.2,890.5 1109.2,889.2 C1111.2,887.9 1113.2,886.7 1115.2,885.4 C1117.2,884.2 1119.2,883.0 1121.2,881.8 C1123.2,880.6 1125.2,879.4 1127.2,878.2 C1129.2,877.0 1131.3,875.9 1133.3,874.7 C1135.3,873.5 1137.3,872.3 1139.3,871.2 C1141.3,870.0 1143.3,868.8 1145.3,867.6 C1147.3,866.4 1149.3,865.2 1151.3,864.0 C1153.3,862.7 1155.3,861.5 1157.3,860.2 C1159.3,859.0 1161.3,857.7 1163.3,856.4 C1165.3,855.1 1167.3,853.7 1169.3,852.3 C1171.3,851.0 1174.3,848.8 1175.3,848.1" fill="none" stroke="#C8A640" stroke-width="2.90" stroke-linecap="round" stroke-linejoin="round"/>
<path d="M730.8,1258.0 C731.8,1257.8 734.8,1257.4 736.8,1256.9 C738.8,1256.5 740.8,1256.0 742.8,1255.5 C744.8,1255.0 746.8,1254.4 748.8,1253.7 C750.8,1253.1 752.8,1252.4 754.8,1251.6 C756.8,1250.9 758.8,1250.1 760.8,1249.2 C762.8,1248.4 764.8,1247.5 766.8,1246.5 C768.8,1245.6 770.8,1244.6 772.8,1243.5 C774.8,1242.5 776.9,1241.4 778.9,1240.3 C780.9,1239.2 782.9,1238.0 784.9,1236.8 C786.9,1235.6 788.9,1234.4 790.9,1233.1 C792.9,1231.8 794.9,1230.5 796.9,1229.2 C798.9,1227.9 800.9,1226.5 802.9,1225.1 C804.9,1223.7 806.9,1222.3 808.9,1220.9 C810.9,1219.4 812.9,1217.9 814.9,1216.4 C816.9,1214.9 818.9,1213.4 820.9,1211.9 C822.9,1210.4 824.9,1208.8 826.9,1207.2 C828.9,1205.7 830.9,1204.1 832.9,1202.5 C834.9,1200.9 836.9,1199.3 838.9,1197.7 C840.9,1196.0 842.9,1194.4 844.9,1192.8 C846.9,1191.1 848.9,1189.5 850.9,1187.8 C852.9,1186.2 854.9,1184.5 856.9,1182.9 C858.9,1181.2 860.9,1179.6 862.9,1177.9 C865.0,1176.2 867.0,1174.6 869.0,1172.9 C871.0,1171.3 873.0,1169.6 875.0,1168.0 C877.0,1166.3 879.0,1164.7 881.0,1163.0 C883.0,1161.4 885.0,1159.7 887.0,1158.1 C889.0,1156.4 891.0,1154.8 893.0,1153.1 C895.0,1151.5 897.0,1149.8 899.0,1148.2 C901.0,1146.6 903.0,1144.9 905.0,1143.3 C907.0,1141.7 909.0,1140.0 911.0,1138.4 C913.0,1136.8 915.0,1135.1 917.0,1133.5 C919.0,1131.9 921.0,1130.3 923.0,1128.7 C925.0,1127.1 927.0,1125.5 929.0,1123.9 C931.0,1122.3 933.0,1120.7 935.0,1119.1 C937.0,1117.5 939.0,1115.9 941.0,1114.3 C943.0,1112.7 945.0,1111.1 947.0,1109.6 C949.0,1108.0 951.0,1106.4 953.0,1104.9 C955.1,1103.3 957.1,1101.8 959.1,1100.2 C961.1,1098.7 963.1,1097.1 965.1,1095.6 C967.1,1094.1 969.1,1092.6 971.1,1091.0 C973.1,1089.5 975.1,1088.0 977.1,1086.5 C979.1,1085.0 981.1,1083.5 983.1,1082.0 C985.1,1080.6 987.1,1079.1 989.1,1077.6 C991.1,1076.2 993.1,1074.7 995.1,1073.2 C997.1,1071.8 999.1,1070.4 1001.1,1068.9 C1003.1,1067.5 1005.1,1066.1 1007.1,1064.6 C1009.1,1063.2 1011.1,1061.8 1013.1,1060.4 C1015.1,1058.9 1017.1,1057.5 1019.1,1056.0 C1021.1,1054.6 1023.1,1053.1 1025.1,1051.6 C1027.1,1050.1 1029.1,1048.6 1031.1,1047.0 C1033.1,1045.5 1035.1,1043.9 1037.1,1042.3 C1039.1,1040.7 1041.1,1039.0 1043.2,1037.3 C1045.2,1035.6 1047.2,1033.9 1049.2,1032.1 C1051.2,1030.3 1053.2,1028.4 1055.2,1026.5 C1057.2,1024.6 1059.2,1022.6 1061.2,1020.6 C1063.2,1018.5 1065.2,1016.4 1067.2,1014.3 C1069.2,1012.1 1071.2,1009.8 1073.2,1007.5 C1075.2,1005.1 1077.2,1002.7 1079.2,1000.2 C1081.2,997.7 1083.2,995.1 1085.2,992.4 C1087.2,989.7 1089.2,986.9 1091.2,984.0 C1093.2,981.1 1095.2,978.2 1097.2,975.1 C1099.2,972.1 1101.2,968.9 1103.2,965.8 C1105.2,962.6 1107.2,959.3 1109.2,956.1 C1111.2,952.8 1113.2,949.4 1115.2,946.0 C1117.2,942.7 1119.2,939.3 1121.2,935.8 C1123.2,932.4 1125.2,929.0 1127.2,925.5 C1129.2,922.1 1131.3,918.6 1133.3,915.1 C1135.3,911.7 1137.3,908.2 1139.3,904.8 C1141.3,901.4 1143.3,897.9 1145.3,894.6 C1147.3,891.2 1149.3,887.8 1151.3,884.6 C1153.3,881.3 1155.3,878.0 1157.3,874.8 C1159.3,871.6 1161.3,868.5 1163.3,865.4 C1165.3,862.4 1167.3,859.4 1169.3,856.5 C1171.3,853.6 1174.3,849.5 1175.3,848.1" fill="none" stroke="#B45CE6" stroke-width="2.90" stroke-linecap="round" stroke-linejoin="round"/>
<path d="M730.8,1259.6 C731.8,1259.3 734.8,1258.6 736.8,1258.1 C738.8,1257.5 740.8,1257.0 742.8,1256.4 C744.8,1255.8 746.8,1255.2 748.8,1254.6 C750.8,1254.0 752.8,1253.4 754.8,1252.7 C756.8,1252.0 758.8,1251.4 760.8,1250.6 C762.8,1249.9 764.8,1249.2 766.8,1248.4 C768.8,1247.7 770.8,1246.9 772.8,1246.1 C774.8,1245.2 776.9,1244.4 778.9,1243.5 C780.9,1242.6 782.9,1241.7 784.9,1240.8 C786.9,1239.8 788.9,1238.8 790.9,1237.8 C792.9,1236.8 794.9,1235.8 796.9,1234.7 C798.9,1233.6 800.9,1232.5 802.9,1231.3 C804.9,1230.2 806.9,1229.0 808.9,1227.7 C810.9,1226.5 812.9,1225.2 814.9,1223.9 C816.9,1222.6 818.9,1221.2 820.9,1219.8 C822.9,1218.4 824.9,1217.0 826.9,1215.5 C828.9,1214.1 830.9,1212.6 832.9,1211.1 C834.9,1209.6 836.9,1208.1 838.9,1206.5 C840.9,1205.0 842.9,1203.5 844.9,1202.0 C846.9,1200.5 848.9,1199.0 850.9,1197.5 C852.9,1196.0 854.9,1194.5 856.9,1193.1 C858.9,1191.7 860.9,1190.3 862.9,1188.9 C865.0,1187.5 867.0,1186.2 869.0,1184.9 C871.0,1183.6 873.0,1182.3 875.0,1181.1 C877.0,1179.8 879.0,1178.6 881.0,1177.4 C883.0,1176.2 885.0,1175.1 887.0,1173.9 C889.0,1172.8 891.0,1171.6 893.0,1170.5 C895.0,1169.4 897.0,1168.3 899.0,1167.2 C901.0,1166.1 903.0,1165.0 905.0,1163.9 C907.0,1162.8 909.0,1161.7 911.0,1160.6 C913.0,1159.5 915.0,1158.5 917.0,1157.4 C919.0,1156.3 921.0,1155.2 923.0,1154.1 C925.0,1153.0 927.0,1151.9 929.0,1150.8 C931.0,1149.7 933.0,1148.6 935.0,1147.4 C937.0,1146.3 939.0,1145.1 941.0,1143.9 C943.0,1142.8 945.0,1141.6 947.0,1140.3 C949.0,1139.1 951.0,1137.9 953.0,1136.6 C955.1,1135.3 957.1,1134.0 959.1,1132.7 C961.1,1131.4 963.1,1130.0 965.1,1128.6 C967.1,1127.2 969.1,1125.7 971.1,1124.3 C973.1,1122.8 975.1,1121.3 977.1,1119.7 C979.1,1118.1 981.1,1116.5 983.1,1114.9 C985.1,1113.2 987.1,1111.6 989.1,1109.8 C991.1,1108.1 993.1,1106.3 995.1,1104.5 C997.1,1102.7 999.1,1100.8 1001.1,1098.9 C1003.1,1097.0 1005.1,1095.0 1007.1,1093.0 C1009.1,1091.0 1011.1,1089.0 1013.1,1086.9 C1015.1,1084.8 1017.1,1082.6 1019.1,1080.4 C1021.1,1078.2 1023.1,1076.0 1025.1,1073.7 C1027.1,1071.4 1029.1,1069.0 1031.1,1066.6 C1033.1,1064.2 1035.1,1061.8 1037.1,1059.3 C1039.1,1056.8 1041.1,1054.2 1043.2,1051.6 C1045.2,1049.0 1047.2,1046.3 1049.2,1043.6 C1051.2,1040.9 1053.2,1038.1 1055.2,1035.3 C1057.2,1032.5 1059.2,1029.7 1061.2,1026.8 C1063.2,1024.0 1065.2,1021.1 1067.2,1018.2 C1069.2,1015.3 1071.2,1012.3 1073.2,1009.4 C1075.2,1006.5 1077.2,1003.5 1079.2,1000.5 C1081.2,997.6 1083.2,994.6 1085.2,991.7 C1087.2,988.7 1089.2,985.8 1091.2,982.8 C1093.2,979.9 1095.2,976.9 1097.2,974.0 C1099.2,971.1 1101.2,968.1 1103.2,965.2 C1105.2,962.2 1107.2,959.3 1109.2,956.3 C1111.2,953.3 1113.2,950.4 1115.2,947.4 C1117.2,944.4 1119.2,941.4 1121.2,938.4 C1123.2,935.3 1125.2,932.3 1127.2,929.2 C1129.2,926.1 1131.3,923.0 1133.3,919.9 C1135.3,916.8 1137.3,913.6 1139.3,910.4 C1141.3,907.2 1143.3,904.0 1145.3,900.7 C1147.3,897.5 1149.3,894.2 1151.3,890.8 C1153.3,887.4 1155.3,884.1 1157.3,880.6 C1159.3,877.2 1161.3,873.7 1163.3,870.1 C1165.3,866.6 1167.3,862.9 1169.3,859.3 C1171.3,855.6 1174.3,850.0 1175.3,848.1" fill="none" stroke="#5B7FD6" stroke-width="2.90" stroke-linecap="round" stroke-linejoin="round"/>
<path d="M730.8,1259.6 L818.5,1231.8 L860.0,1195.0 L906.7,1159.0 L940.0,1143.0 L970.0,1125.0 L1000.1,1104.7 L1043.3,1056.7 L1086.5,1003.3 L1136.7,915.3 L1175.3,848.1" fill="none" stroke="#6E22C0" stroke-width="3.1" stroke-linejoin="round" stroke-linecap="round"/>
<path d="M908.9,1164.8 L1000.1,1164.8 L1000.1,1104.7" fill="none" stroke="#8B3DB8" stroke-width="2.2"/></g>
<g filter="url(#blurT)"><text x="715.56" y="830.10" font-size="17.00" textLength="23.56" lengthAdjust="spacingAndGlyphs" style='font-family:"Liberation Sans", Arial, sans-serif;font-weight:bold;' fill="#505050">0%</text>
<text x="801.75" y="830.10" font-size="17.00" textLength="31.47" lengthAdjust="spacingAndGlyphs" style='font-family:"Liberation Sans", Arial, sans-serif;font-weight:bold;' fill="#505050">20%</text>
<text x="890.86" y="830.10" font-size="17.00" textLength="32.06" lengthAdjust="spacingAndGlyphs" style='font-family:"Liberation Sans", Arial, sans-serif;font-weight:bold;' fill="#505050">40%</text>
<text x="980.01" y="830.10" font-size="17.00" textLength="32.12" lengthAdjust="spacingAndGlyphs" style='font-family:"Liberation Sans", Arial, sans-serif;font-weight:bold;' fill="#505050">60%</text>
<text x="1069.99" y="830.10" font-size="17.00" textLength="32.04" lengthAdjust="spacingAndGlyphs" style='font-family:"Liberation Sans", Arial, sans-serif;font-weight:bold;' fill="#505050">80%</text>
<text x="1156.03" y="830.10" font-size="17.00" textLength="39.38" lengthAdjust="spacingAndGlyphs" style='font-family:"Liberation Sans", Arial, sans-serif;font-weight:bold;' fill="#505050">100%</text>
<text x="686.84" y="853.90" font-size="17.00" textLength="24.51" lengthAdjust="spacingAndGlyphs" style='font-family:"Liberation Sans", Arial, sans-serif;font-weight:bold;' fill="#505050">0%</text>
<text x="677.41" y="936.00" font-size="17.00" textLength="33.94" lengthAdjust="spacingAndGlyphs" style='font-family:"Liberation Sans", Arial, sans-serif;font-weight:bold;' fill="#505050">20%</text>
<text x="677.75" y="1018.10" font-size="17.00" textLength="33.60" lengthAdjust="spacingAndGlyphs" style='font-family:"Liberation Sans", Arial, sans-serif;font-weight:bold;' fill="#505050">40%</text>
<text x="677.37" y="1100.20" font-size="17.00" textLength="33.98" lengthAdjust="spacingAndGlyphs" style='font-family:"Liberation Sans", Arial, sans-serif;font-weight:bold;' fill="#505050">60%</text>
<text x="677.46" y="1182.20" font-size="17.00" textLength="33.89" lengthAdjust="spacingAndGlyphs" style='font-family:"Liberation Sans", Arial, sans-serif;font-weight:bold;' fill="#505050">80%</text>
<text x="669.98" y="1264.40" font-size="17.00" textLength="41.35" lengthAdjust="spacingAndGlyphs" style='font-family:"Liberation Sans", Arial, sans-serif;font-weight:bold;' fill="#505050">100%</text>
<text x="930.40" y="834.60" font-size="21.00" textLength="8.71" lengthAdjust="spacingAndGlyphs" style='font-family:"Liberation Sans", Arial, sans-serif;font-weight:bold;font-style:italic;' fill="#222">t</text>
<text x="939.55" y="839.10" font-size="15.00" textLength="35.83" lengthAdjust="spacingAndGlyphs" style='font-family:"Liberation Sans", Arial, sans-serif;font-weight:bold;' fill="#333">norm</text>
<g transform="translate(663.3,1072.8) rotate(-90)"><text x="-0.65" y="0.00" font-size="24.00" textLength="18.83" lengthAdjust="spacingAndGlyphs" style='font-family:"Liberation Sans", Arial, sans-serif;font-weight:bold;' fill="#222">A</text><text x="17.05" y="5.50" font-size="15.00" textLength="35.83" lengthAdjust="spacingAndGlyphs" style='font-family:"Liberation Sans", Arial, sans-serif;font-weight:bold;' fill="#444">norm</text></g></g>
<g filter="url(#blurT)"><text x="1006.02" y="1147.30" font-size="33.00" textLength="21.74" lengthAdjust="spacingAndGlyphs" style='font-family:"Liberation Serif", "Times New Roman", serif;' fill="#111" stroke="#111" stroke-width="0.35">Δ</text><text x="1031.47" y="1147.30" font-size="33.00" textLength="21.22" lengthAdjust="spacingAndGlyphs" style='font-family:"Liberation Serif", "Times New Roman", serif;font-style:italic;' fill="#111" stroke="#111" stroke-width="0.35">y</text><text x="936.70" y="1198.00" font-size="33.00" textLength="22.08" lengthAdjust="spacingAndGlyphs" style='font-family:"Liberation Serif", "Times New Roman", serif;' fill="#111" stroke="#111" stroke-width="0.35">Δ</text><text x="959.18" y="1198.00" font-size="33.00" textLength="25.21" lengthAdjust="spacingAndGlyphs" style='font-family:"Liberation Serif", "Times New Roman", serif;font-style:italic;' fill="#111" stroke="#111" stroke-width="0.35">x</text></g>
<text x="735.57" y="892.70" font-size="36.77" textLength="326.94" lengthAdjust="spacingAndGlyphs" style='font-family:"Liberation Sans", Arial, sans-serif;' fill="#000">Gradient extraction</text>
<line x1="1510.70" y1="841.20" x2="1940.50" y2="841.20" stroke="#BFBFBF" stroke-width="1.40"/>
<line x1="1596.40" y1="836.10" x2="1596.40" y2="841.20" stroke="#BFBFBF" stroke-width="1.20"/>
<line x1="1682.20" y1="836.10" x2="1682.20" y2="841.20" stroke="#BFBFBF" stroke-width="1.20"/>
<line x1="1768.30" y1="836.10" x2="1768.30" y2="841.20" stroke="#BFBFBF" stroke-width="1.20"/>
<line x1="1854.10" y1="836.10" x2="1854.10" y2="841.20" stroke="#BFBFBF" stroke-width="1.20"/>
<line x1="1510.70" y1="806.30" x2="1510.70" y2="1227.50" stroke="#BFBFBF" stroke-width="1.40"/>
<line x1="1505.30" y1="806.40" x2="1510.70" y2="806.40" stroke="#BFBFBF" stroke-width="1.20"/>
<line x1="1505.30" y1="876.40" x2="1510.70" y2="876.40" stroke="#BFBFBF" stroke-width="1.20"/>
<line x1="1505.30" y1="946.60" x2="1510.70" y2="946.60" stroke="#BFBFBF" stroke-width="1.20"/>
<line x1="1505.30" y1="1016.70" x2="1510.70" y2="1016.70" stroke="#BFBFBF" stroke-width="1.20"/>
<line x1="1505.30" y1="1086.90" x2="1510.70" y2="1086.90" stroke="#BFBFBF" stroke-width="1.20"/>
<line x1="1505.30" y1="1157.00" x2="1510.70" y2="1157.00" stroke="#BFBFBF" stroke-width="1.20"/>
<line x1="1505.30" y1="1227.50" x2="1510.70" y2="1227.50" stroke="#BFBFBF" stroke-width="1.20"/>
<text x="1500.06" y="825.40" font-size="16.00" textLength="19.92" lengthAdjust="spacingAndGlyphs" style='font-family:"Liberation Sans", Arial, sans-serif;' fill="#262626">0%</text>
<text x="1582.00" y="825.40" font-size="16.00" textLength="28.10" lengthAdjust="spacingAndGlyphs" style='font-family:"Liberation Sans", Arial, sans-serif;' fill="#262626">20%</text>
<text x="1668.48" y="825.40" font-size="16.00" textLength="27.71" lengthAdjust="spacingAndGlyphs" style='font-family:"Liberation Sans", Arial, sans-serif;' fill="#262626">40%</text>
<text x="1753.78" y="825.40" font-size="16.00" textLength="28.22" lengthAdjust="spacingAndGlyphs" style='font-family:"Liberation Sans", Arial, sans-serif;' fill="#262626">60%</text>
<text x="1839.79" y="825.40" font-size="16.00" textLength="28.21" lengthAdjust="spacingAndGlyphs" style='font-family:"Liberation Sans", Arial, sans-serif;' fill="#262626">80%</text>
<text x="1921.62" y="825.40" font-size="16.00" textLength="36.49" lengthAdjust="spacingAndGlyphs" style='font-family:"Liberation Sans", Arial, sans-serif;' fill="#262626">100%</text>
<text x="1456.91" y="812.00" font-size="17.00" textLength="36.85" lengthAdjust="spacingAndGlyphs" style='font-family:"Liberation Sans", Arial, sans-serif;' fill="#262626">-10%</text>
<text x="1462.41" y="882.00" font-size="17.00" textLength="31.35" lengthAdjust="spacingAndGlyphs" style='font-family:"Liberation Sans", Arial, sans-serif;' fill="#262626">10%</text>
<text x="1463.02" y="952.20" font-size="17.00" textLength="30.73" lengthAdjust="spacingAndGlyphs" style='font-family:"Liberation Sans", Arial, sans-serif;' fill="#262626">30%</text>
<text x="1462.99" y="1022.30" font-size="17.00" textLength="30.76" lengthAdjust="spacingAndGlyphs" style='font-family:"Liberation Sans", Arial, sans-serif;' fill="#262626">50%</text>
<text x="1462.81" y="1092.50" font-size="17.00" textLength="30.94" lengthAdjust="spacingAndGlyphs" style='font-family:"Liberation Sans", Arial, sans-serif;' fill="#262626">70%</text>
<text x="1462.88" y="1162.60" font-size="17.00" textLength="30.87" lengthAdjust="spacingAndGlyphs" style='font-family:"Liberation Sans", Arial, sans-serif;' fill="#262626">90%</text>
<text x="1452.64" y="1233.10" font-size="17.00" textLength="41.15" lengthAdjust="spacingAndGlyphs" style='font-family:"Liberation Sans", Arial, sans-serif;' fill="#262626">110%</text>
<text x="1767.91" y="801.50" font-size="15.50" textLength="6.25" lengthAdjust="spacingAndGlyphs" style='font-family:"Liberation Sans", Arial, sans-serif;font-weight:bold;font-style:italic;' fill="#000">t</text>
<text x="1774.54" y="805.00" font-size="11.50" textLength="25.08" lengthAdjust="spacingAndGlyphs" style='font-family:"Liberation Sans", Arial, sans-serif;font-weight:bold;' fill="#000">norm</text>
<g transform="translate(1452,1017) rotate(-90)"><text x="-0.46" y="0.00" font-size="17.50" textLength="13.24" lengthAdjust="spacingAndGlyphs" style='font-family:"Liberation Sans", Arial, sans-serif;font-weight:bold;' fill="#000">A</text><text x="12.74" y="4.00" font-size="11.50" textLength="12.00" lengthAdjust="spacingAndGlyphs" style='font-family:"Liberation Sans", Arial, sans-serif;font-weight:bold;' fill="#000">VC</text></g>
<text x="1533.57" y="893.40" font-size="36.77" textLength="241.01" lengthAdjust="spacingAndGlyphs" style='font-family:"Liberation Sans", Arial, sans-serif;' fill="#000">Normalisation</text>
<text x="1536.26" y="942.50" font-size="36.77" textLength="89.90" lengthAdjust="spacingAndGlyphs" style='font-family:"Liberation Sans", Arial, sans-serif;' fill="#000">to VC</text>
<path d="M1510.5,1130.4 C1511.5,1129.6 1514.5,1127.2 1516.6,1125.5 C1518.6,1123.9 1520.6,1122.2 1522.6,1120.4 C1524.6,1118.7 1526.7,1116.9 1528.7,1115.1 C1530.7,1113.3 1532.7,1111.5 1534.7,1109.7 C1536.7,1107.8 1538.8,1105.9 1540.8,1104.0 C1542.8,1102.1 1544.8,1100.2 1546.8,1098.3 C1548.9,1096.3 1550.9,1094.4 1552.9,1092.4 C1554.9,1090.5 1556.9,1088.5 1559.0,1086.5 C1561.0,1084.6 1563.0,1082.6 1565.0,1080.6 C1567.0,1078.6 1569.0,1076.6 1571.1,1074.6 C1573.1,1072.7 1575.1,1070.7 1577.1,1068.7 C1579.1,1066.7 1581.2,1064.8 1583.2,1062.8 C1585.2,1060.9 1587.2,1059.0 1589.2,1057.0 C1591.3,1055.1 1593.3,1053.2 1595.3,1051.3 C1597.3,1049.5 1599.3,1047.6 1601.3,1045.8 C1603.4,1044.0 1605.4,1042.2 1607.4,1040.4 C1609.4,1038.6 1611.4,1036.9 1613.5,1035.2 C1615.5,1033.5 1617.5,1031.8 1619.5,1030.2 C1621.5,1028.6 1623.6,1027.0 1625.6,1025.3 C1627.6,1023.7 1629.6,1022.1 1631.6,1020.5 C1633.6,1018.8 1635.7,1017.2 1637.7,1015.5 C1639.7,1013.7 1641.7,1012.0 1643.7,1010.2 C1645.8,1008.4 1647.8,1006.5 1649.8,1004.7 C1651.8,1002.8 1653.8,1000.9 1655.9,998.9 C1657.9,997.0 1659.9,995.1 1661.9,993.2 C1663.9,991.3 1665.9,989.3 1668.0,987.5 C1670.0,985.6 1672.0,983.8 1674.0,982.0 C1676.0,980.2 1678.1,978.4 1680.1,976.7 C1682.1,974.9 1684.1,973.2 1686.1,971.6 C1688.2,969.9 1690.2,968.3 1692.2,966.7 C1694.2,965.0 1696.2,963.5 1698.2,961.9 C1700.3,960.4 1702.3,958.8 1704.3,957.3 C1706.3,955.8 1708.3,954.4 1710.4,952.9 C1712.4,951.4 1714.4,950.0 1716.4,948.6 C1718.4,947.2 1720.5,945.8 1722.5,944.4 C1724.5,943.0 1726.5,941.7 1728.5,940.3 C1730.5,939.0 1732.6,937.6 1734.6,936.3 C1736.6,935.0 1738.6,933.7 1740.6,932.4 C1742.7,931.1 1744.7,929.8 1746.7,928.6 C1748.7,927.3 1750.7,926.1 1752.8,924.8 C1754.8,923.6 1756.8,922.4 1758.8,921.2 C1760.8,920.0 1762.8,918.8 1764.9,917.6 C1766.9,916.4 1768.9,915.2 1770.9,914.0 C1772.9,912.9 1775.0,911.7 1777.0,910.6 C1779.0,909.4 1781.0,908.3 1783.0,907.1 C1785.1,906.0 1787.1,904.9 1789.1,903.8 C1791.1,902.6 1793.1,901.5 1795.1,900.4 C1797.2,899.3 1799.2,898.2 1801.2,897.1 C1803.2,896.0 1805.2,894.9 1807.3,893.9 C1809.3,892.8 1811.3,891.7 1813.3,890.6 C1815.3,889.5 1817.4,888.5 1819.4,887.4 C1821.4,886.3 1823.4,885.2 1825.4,884.2 C1827.4,883.1 1829.5,882.0 1831.5,881.0 C1833.5,879.9 1835.5,878.8 1837.5,877.8 C1839.6,876.7 1841.6,875.7 1843.6,874.6 C1845.6,873.5 1847.6,872.5 1849.7,871.4 C1851.7,870.4 1853.7,869.4 1855.7,868.3 C1857.7,867.3 1859.7,866.3 1861.8,865.3 C1863.8,864.3 1865.8,863.3 1867.8,862.3 C1869.8,861.3 1871.9,860.4 1873.9,859.4 C1875.9,858.5 1877.9,857.5 1879.9,856.6 C1882.0,855.7 1884.0,854.8 1886.0,853.9 C1888.0,853.0 1890.0,852.2 1892.0,851.3 C1894.1,850.5 1896.1,849.7 1898.1,848.9 C1900.1,848.1 1902.1,847.4 1904.2,846.6 C1906.2,845.9 1908.2,845.2 1910.2,844.5 C1912.2,843.8 1914.3,843.2 1916.3,842.6 C1918.3,842.0 1920.3,841.4 1922.3,840.8 C1924.3,840.3 1926.4,839.8 1928.4,839.3 C1930.4,838.8 1932.4,838.4 1934.4,838.0 C1936.5,837.6 1939.5,837.1 1940.5,836.9" fill="none" stroke="#00A443" stroke-width="3.00" stroke-linecap="round" stroke-linejoin="round"/>
<path d="M1510.5,1133.2 C1511.5,1132.6 1514.5,1131.0 1516.6,1129.8 C1518.6,1128.5 1520.6,1127.2 1522.6,1125.7 C1524.6,1124.3 1526.7,1122.8 1528.7,1121.2 C1530.7,1119.6 1532.7,1117.9 1534.7,1116.2 C1536.7,1114.4 1538.8,1112.6 1540.8,1110.8 C1542.8,1109.0 1544.8,1107.1 1546.8,1105.2 C1548.9,1103.3 1550.9,1101.4 1552.9,1099.4 C1554.9,1097.5 1556.9,1095.5 1559.0,1093.6 C1561.0,1091.6 1563.0,1089.7 1565.0,1087.8 C1567.0,1085.8 1569.0,1083.9 1571.1,1081.9 C1573.1,1080.0 1575.1,1078.1 1577.1,1076.2 C1579.1,1074.3 1581.2,1072.4 1583.2,1070.5 C1585.2,1068.6 1587.2,1066.8 1589.2,1064.9 C1591.3,1063.0 1593.3,1061.2 1595.3,1059.4 C1597.3,1057.5 1599.3,1055.7 1601.3,1053.9 C1603.4,1052.2 1605.4,1050.4 1607.4,1048.6 C1609.4,1046.9 1611.4,1045.2 1613.5,1043.4 C1615.5,1041.7 1617.5,1040.1 1619.5,1038.4 C1621.5,1036.7 1623.6,1035.1 1625.6,1033.5 C1627.6,1031.8 1629.6,1030.2 1631.6,1028.7 C1633.6,1027.1 1635.7,1025.5 1637.7,1024.0 C1639.7,1022.4 1641.7,1020.9 1643.7,1019.4 C1645.8,1017.9 1647.8,1016.4 1649.8,1014.9 C1651.8,1013.4 1653.8,1011.9 1655.9,1010.5 C1657.9,1009.0 1659.9,1007.6 1661.9,1006.1 C1663.9,1004.7 1665.9,1003.3 1668.0,1001.9 C1670.0,1000.5 1672.0,999.1 1674.0,997.7 C1676.0,996.3 1678.1,994.9 1680.1,993.5 C1682.1,992.1 1684.1,990.8 1686.1,989.4 C1688.2,988.0 1690.2,986.7 1692.2,985.3 C1694.2,983.9 1696.2,982.6 1698.2,981.2 C1700.3,979.9 1702.3,978.5 1704.3,977.2 C1706.3,975.8 1708.3,974.5 1710.4,973.1 C1712.4,971.7 1714.4,970.4 1716.4,969.0 C1718.4,967.7 1720.5,966.3 1722.5,964.9 C1724.5,963.6 1726.5,962.2 1728.5,960.8 C1730.5,959.5 1732.6,958.1 1734.6,956.7 C1736.6,955.3 1738.6,954.0 1740.6,952.6 C1742.7,951.2 1744.7,949.8 1746.7,948.4 C1748.7,947.1 1750.7,945.7 1752.8,944.3 C1754.8,942.9 1756.8,941.5 1758.8,940.2 C1760.8,938.8 1762.8,937.4 1764.9,936.1 C1766.9,934.7 1768.9,933.3 1770.9,932.0 C1772.9,930.6 1775.0,929.3 1777.0,927.9 C1779.0,926.6 1781.0,925.2 1783.0,923.9 C1785.1,922.6 1787.1,921.2 1789.1,919.9 C1791.1,918.6 1793.1,917.3 1795.1,916.0 C1797.2,914.7 1799.2,913.4 1801.2,912.1 C1803.2,910.8 1805.2,909.6 1807.3,908.3 C1809.3,907.1 1811.3,905.8 1813.3,904.6 C1815.3,903.4 1817.4,902.1 1819.4,900.9 C1821.4,899.7 1823.4,898.5 1825.4,897.4 C1827.4,896.2 1829.5,895.0 1831.5,893.9 C1833.5,892.7 1835.5,891.6 1837.5,890.5 C1839.6,889.4 1841.6,888.3 1843.6,887.2 C1845.6,886.1 1847.6,885.0 1849.7,883.9 C1851.7,882.8 1853.7,881.7 1855.7,880.6 C1857.7,879.5 1859.7,878.4 1861.8,877.2 C1863.8,876.1 1865.8,874.9 1867.8,873.8 C1869.8,872.6 1871.9,871.5 1873.9,870.3 C1875.9,869.1 1877.9,868.0 1879.9,866.8 C1882.0,865.7 1884.0,864.5 1886.0,863.3 C1888.0,862.2 1890.0,861.0 1892.0,859.9 C1894.1,858.8 1896.1,857.6 1898.1,856.5 C1900.1,855.4 1902.1,854.3 1904.2,853.3 C1906.2,852.2 1908.2,851.2 1910.2,850.2 C1912.2,849.2 1914.3,848.3 1916.3,847.4 C1918.3,846.5 1920.3,845.6 1922.3,844.8 C1924.3,844.0 1926.4,843.3 1928.4,842.6 C1930.4,842.0 1932.4,841.4 1934.4,840.8 C1936.5,840.3 1939.5,839.7 1940.5,839.5" fill="none" stroke="#C00000" stroke-width="3.00" stroke-linecap="round" stroke-linejoin="round"/>
<path d="M1510.5,1094.8 C1511.5,1094.8 1514.5,1094.9 1516.6,1094.9 C1518.6,1094.9 1520.6,1094.8 1522.6,1094.7 C1524.6,1094.6 1526.7,1094.4 1528.7,1094.2 C1530.7,1094.0 1532.7,1093.7 1534.7,1093.4 C1536.7,1093.1 1538.8,1092.8 1540.8,1092.4 C1542.8,1092.0 1544.8,1091.5 1546.8,1091.0 C1548.9,1090.5 1550.9,1090.0 1552.9,1089.4 C1554.9,1088.8 1556.9,1088.2 1559.0,1087.5 C1561.0,1086.8 1563.0,1086.1 1565.0,1085.3 C1567.0,1084.5 1569.0,1083.7 1571.1,1082.8 C1573.1,1081.9 1575.1,1081.0 1577.1,1080.0 C1579.1,1079.0 1581.2,1078.0 1583.2,1077.0 C1585.2,1075.9 1587.2,1074.8 1589.2,1073.6 C1591.3,1072.4 1593.3,1071.2 1595.3,1070.0 C1597.3,1068.7 1599.3,1067.4 1601.3,1066.0 C1603.4,1064.7 1605.4,1063.3 1607.4,1061.8 C1609.4,1060.3 1611.4,1058.8 1613.5,1057.3 C1615.5,1055.7 1617.5,1054.1 1619.5,1052.5 C1621.5,1050.9 1623.6,1049.2 1625.6,1047.5 C1627.6,1045.8 1629.6,1044.1 1631.6,1042.4 C1633.6,1040.8 1635.7,1039.1 1637.7,1037.4 C1639.7,1035.7 1641.7,1034.1 1643.7,1032.5 C1645.8,1030.9 1647.8,1029.3 1649.8,1027.8 C1651.8,1026.3 1653.8,1024.9 1655.9,1023.5 C1657.9,1022.1 1659.9,1020.8 1661.9,1019.6 C1663.9,1018.3 1665.9,1017.1 1668.0,1015.9 C1670.0,1014.6 1672.0,1013.4 1674.0,1012.1 C1676.0,1010.8 1678.1,1009.6 1680.1,1008.1 C1682.1,1006.7 1684.1,1005.3 1686.1,1003.7 C1688.2,1002.1 1690.2,1000.4 1692.2,998.7 C1694.2,997.0 1696.2,995.2 1698.2,993.4 C1700.3,991.6 1702.3,989.8 1704.3,988.0 C1706.3,986.2 1708.3,984.3 1710.4,982.6 C1712.4,980.9 1714.4,979.1 1716.4,977.5 C1718.4,975.9 1720.5,974.4 1722.5,973.0 C1724.5,971.6 1726.5,970.4 1728.5,969.2 C1730.5,968.0 1732.6,967.0 1734.6,965.9 C1736.6,964.9 1738.6,964.0 1740.6,963.1 C1742.7,962.2 1744.7,961.3 1746.7,960.4 C1748.7,959.6 1750.7,958.7 1752.8,957.8 C1754.8,956.9 1756.8,956.0 1758.8,955.0 C1760.8,954.1 1762.8,953.1 1764.9,952.0 C1766.9,951.0 1768.9,949.9 1770.9,948.8 C1772.9,947.7 1775.0,946.6 1777.0,945.5 C1779.0,944.4 1781.0,943.2 1783.0,942.1 C1785.1,941.0 1787.1,939.8 1789.1,938.7 C1791.1,937.5 1793.1,936.4 1795.1,935.3 C1797.2,934.2 1799.2,933.1 1801.2,932.1 C1803.2,931.0 1805.2,930.0 1807.3,929.0 C1809.3,928.0 1811.3,927.0 1813.3,926.1 C1815.3,925.2 1817.4,924.4 1819.4,923.6 C1821.4,922.8 1823.4,922.0 1825.4,921.3 C1827.4,920.6 1829.5,920.0 1831.5,919.4 C1833.5,918.8 1835.5,918.3 1837.5,917.8 C1839.6,917.3 1841.6,916.8 1843.6,916.4 C1845.6,916.0 1847.6,915.7 1849.7,915.3 C1851.7,915.0 1853.7,914.7 1855.7,914.5 C1857.7,914.2 1859.7,914.0 1861.8,913.9 C1863.8,913.7 1865.8,913.6 1867.8,913.5 C1869.8,913.4 1871.9,913.3 1873.9,913.2 C1875.9,913.2 1877.9,913.2 1879.9,913.2 C1882.0,913.2 1884.0,913.2 1886.0,913.3 C1888.0,913.3 1890.0,913.4 1892.0,913.4 C1894.1,913.5 1896.1,913.6 1898.1,913.7 C1900.1,913.7 1902.1,913.8 1904.2,913.8 C1906.2,913.9 1908.2,913.9 1910.2,913.9 C1912.2,913.9 1914.3,913.9 1916.3,913.9 C1918.3,913.8 1920.3,913.7 1922.3,913.6 C1924.3,913.4 1926.4,913.3 1928.4,913.0 C1930.4,912.8 1932.4,912.5 1934.4,912.2 C1936.5,911.8 1939.5,911.1 1940.5,910.9" fill="none" stroke="#FFC000" stroke-width="3.00" stroke-linecap="round" stroke-linejoin="round"/>
<path d="M1510.5,1120.2 C1511.5,1119.2 1514.5,1116.0 1516.6,1114.0 C1518.6,1112.0 1520.6,1110.1 1522.6,1108.3 C1524.6,1106.5 1526.7,1104.8 1528.7,1103.2 C1530.7,1101.5 1532.7,1100.0 1534.7,1098.5 C1536.7,1097.0 1538.8,1095.6 1540.8,1094.2 C1542.8,1092.9 1544.8,1091.6 1546.8,1090.4 C1548.9,1089.1 1550.9,1088.0 1552.9,1086.9 C1554.9,1085.8 1556.9,1084.8 1559.0,1083.8 C1561.0,1082.8 1563.0,1081.9 1565.0,1081.0 C1567.0,1080.1 1569.0,1079.3 1571.1,1078.5 C1573.1,1077.7 1575.1,1077.0 1577.1,1076.2 C1579.1,1075.5 1581.2,1074.9 1583.2,1074.2 C1585.2,1073.6 1587.2,1073.0 1589.2,1072.4 C1591.3,1071.9 1593.3,1071.3 1595.3,1070.8 C1597.3,1070.3 1599.3,1069.8 1601.3,1069.3 C1603.4,1068.8 1605.4,1068.4 1607.4,1067.9 C1609.4,1067.5 1611.4,1067.1 1613.5,1066.6 C1615.5,1066.2 1617.5,1065.8 1619.5,1065.4 C1621.5,1065.0 1623.6,1064.6 1625.6,1064.2 C1627.6,1063.7 1629.6,1063.3 1631.6,1062.9 C1633.6,1062.5 1635.7,1062.0 1637.7,1061.6 C1639.7,1061.1 1641.7,1060.6 1643.7,1060.2 C1645.8,1059.7 1647.8,1059.1 1649.8,1058.6 C1651.8,1058.0 1653.8,1057.5 1655.9,1056.9 C1657.9,1056.3 1659.9,1055.6 1661.9,1054.9 C1663.9,1054.2 1665.9,1053.5 1668.0,1052.7 C1670.0,1052.0 1672.0,1051.2 1674.0,1050.3 C1676.0,1049.4 1678.1,1048.5 1680.1,1047.5 C1682.1,1046.5 1684.1,1045.5 1686.1,1044.5 C1688.2,1043.4 1690.2,1042.3 1692.2,1041.3 C1694.2,1040.2 1696.2,1039.0 1698.2,1037.9 C1700.3,1036.8 1702.3,1035.7 1704.3,1034.6 C1706.3,1033.6 1708.3,1032.5 1710.4,1031.4 C1712.4,1030.4 1714.4,1029.3 1716.4,1028.3 C1718.4,1027.3 1720.5,1026.3 1722.5,1025.3 C1724.5,1024.3 1726.5,1023.3 1728.5,1022.4 C1730.5,1021.4 1732.6,1020.5 1734.6,1019.6 C1736.6,1018.7 1738.6,1017.8 1740.6,1016.9 C1742.7,1016.0 1744.7,1015.2 1746.7,1014.3 C1748.7,1013.4 1750.7,1012.5 1752.8,1011.6 C1754.8,1010.7 1756.8,1009.7 1758.8,1008.8 C1760.8,1007.8 1762.8,1006.8 1764.9,1005.7 C1766.9,1004.7 1768.9,1003.6 1770.9,1002.5 C1772.9,1001.4 1775.0,1000.3 1777.0,999.1 C1779.0,998.0 1781.0,996.9 1783.0,995.7 C1785.1,994.5 1787.1,993.3 1789.1,992.1 C1791.1,991.0 1793.1,989.8 1795.1,988.6 C1797.2,987.4 1799.2,986.2 1801.2,985.0 C1803.2,983.8 1805.2,982.6 1807.3,981.4 C1809.3,980.2 1811.3,979.1 1813.3,977.9 C1815.3,976.7 1817.4,975.6 1819.4,974.4 C1821.4,973.2 1823.4,972.1 1825.4,970.9 C1827.4,969.7 1829.5,968.6 1831.5,967.4 C1833.5,966.3 1835.5,965.1 1837.5,963.9 C1839.6,962.8 1841.6,961.6 1843.6,960.4 C1845.6,959.3 1847.6,958.1 1849.7,956.9 C1851.7,955.7 1853.7,954.5 1855.7,953.3 C1857.7,952.1 1859.7,950.9 1861.8,949.7 C1863.8,948.5 1865.8,947.3 1867.8,946.0 C1869.8,944.8 1871.9,943.5 1873.9,942.3 C1875.9,941.0 1877.9,939.7 1879.9,938.4 C1882.0,937.1 1884.0,935.8 1886.0,934.5 C1888.0,933.2 1890.0,931.8 1892.0,930.5 C1894.1,929.1 1896.1,927.7 1898.1,926.3 C1900.1,924.9 1902.1,923.5 1904.2,922.0 C1906.2,920.6 1908.2,919.1 1910.2,917.6 C1912.2,916.1 1914.3,914.6 1916.3,913.1 C1918.3,911.5 1920.3,909.9 1922.3,908.3 C1924.3,906.7 1926.4,905.1 1928.4,903.4 C1930.4,901.8 1932.4,900.1 1934.4,898.4 C1936.5,896.6 1939.5,894.0 1940.5,893.1" fill="none" stroke="#CC00CC" stroke-width="3.00" stroke-linecap="round" stroke-linejoin="round"/>
<path d="M1510.5,1142.7 C1511.5,1142.4 1514.5,1141.6 1516.6,1141.1 C1518.6,1140.5 1520.6,1139.9 1522.6,1139.2 C1524.6,1138.6 1526.7,1137.9 1528.7,1137.2 C1530.7,1136.5 1532.7,1135.8 1534.7,1135.0 C1536.7,1134.3 1538.8,1133.5 1540.8,1132.7 C1542.8,1131.9 1544.8,1131.0 1546.8,1130.2 C1548.9,1129.3 1550.9,1128.5 1552.9,1127.6 C1554.9,1126.7 1556.9,1125.8 1559.0,1124.8 C1561.0,1123.9 1563.0,1123.0 1565.0,1122.0 C1567.0,1121.0 1569.0,1120.1 1571.1,1119.1 C1573.1,1118.1 1575.1,1117.1 1577.1,1116.1 C1579.1,1115.1 1581.2,1114.1 1583.2,1113.0 C1585.2,1112.0 1587.2,1111.0 1589.2,1109.9 C1591.3,1108.9 1593.3,1107.8 1595.3,1106.8 C1597.3,1105.7 1599.3,1104.7 1601.3,1103.6 C1603.4,1102.6 1605.4,1101.5 1607.4,1100.5 C1609.4,1099.4 1611.4,1098.4 1613.5,1097.3 C1615.5,1096.3 1617.5,1095.2 1619.5,1094.2 C1621.5,1093.1 1623.6,1092.1 1625.6,1091.0 C1627.6,1089.9 1629.6,1088.9 1631.6,1087.8 C1633.6,1086.7 1635.7,1085.6 1637.7,1084.4 C1639.7,1083.3 1641.7,1082.1 1643.7,1080.9 C1645.8,1079.7 1647.8,1078.5 1649.8,1077.2 C1651.8,1075.9 1653.8,1074.6 1655.9,1073.3 C1657.9,1071.9 1659.9,1070.5 1661.9,1069.1 C1663.9,1067.6 1665.9,1066.2 1668.0,1064.7 C1670.0,1063.3 1672.0,1061.9 1674.0,1060.5 C1676.0,1059.1 1678.1,1057.7 1680.1,1056.4 C1682.1,1055.1 1684.1,1053.9 1686.1,1052.6 C1688.2,1051.3 1690.2,1050.1 1692.2,1048.8 C1694.2,1047.5 1696.2,1046.3 1698.2,1045.0 C1700.3,1043.7 1702.3,1042.3 1704.3,1041.0 C1706.3,1039.6 1708.3,1038.3 1710.4,1036.9 C1712.4,1035.5 1714.4,1034.1 1716.4,1032.7 C1718.4,1031.3 1720.5,1029.8 1722.5,1028.4 C1724.5,1026.9 1726.5,1025.5 1728.5,1024.0 C1730.5,1022.6 1732.6,1021.1 1734.6,1019.6 C1736.6,1018.1 1738.6,1016.6 1740.6,1015.1 C1742.7,1013.7 1744.7,1012.2 1746.7,1010.7 C1748.7,1009.2 1750.7,1007.7 1752.8,1006.2 C1754.8,1004.7 1756.8,1003.2 1758.8,1001.8 C1760.8,1000.3 1762.8,998.8 1764.9,997.3 C1766.9,995.9 1768.9,994.4 1770.9,993.0 C1772.9,991.5 1775.0,990.1 1777.0,988.6 C1779.0,987.2 1781.0,985.8 1783.0,984.4 C1785.1,983.0 1787.1,981.6 1789.1,980.2 C1791.1,978.8 1793.1,977.5 1795.1,976.1 C1797.2,974.7 1799.2,973.3 1801.2,971.9 C1803.2,970.6 1805.2,969.2 1807.3,967.8 C1809.3,966.4 1811.3,965.0 1813.3,963.6 C1815.3,962.2 1817.4,960.8 1819.4,959.4 C1821.4,957.9 1823.4,956.5 1825.4,955.0 C1827.4,953.6 1829.5,952.1 1831.5,950.6 C1833.5,949.1 1835.5,947.6 1837.5,946.0 C1839.6,944.5 1841.6,942.9 1843.6,941.3 C1845.6,939.7 1847.6,938.1 1849.7,936.5 C1851.7,934.8 1853.7,933.2 1855.7,931.5 C1857.7,929.8 1859.7,928.1 1861.8,926.3 C1863.8,924.6 1865.8,922.8 1867.8,921.0 C1869.8,919.2 1871.9,917.4 1873.9,915.5 C1875.9,913.6 1877.9,911.8 1879.9,909.8 C1882.0,907.9 1884.0,906.0 1886.0,904.0 C1888.0,902.1 1890.0,900.1 1892.0,898.1 C1894.1,896.1 1896.1,894.2 1898.1,892.2 C1900.1,890.3 1902.1,888.3 1904.2,886.4 C1906.2,884.6 1908.2,882.7 1910.2,880.9 C1912.2,879.1 1914.3,877.3 1916.3,875.6 C1918.3,873.9 1920.3,872.3 1922.3,870.7 C1924.3,869.2 1926.4,867.7 1928.4,866.3 C1930.4,865.0 1932.4,863.7 1934.4,862.5 C1936.5,861.4 1939.5,859.9 1940.5,859.4" fill="none" stroke="#0066CC" stroke-width="3.00" stroke-linecap="round" stroke-linejoin="round"/>
<path d="M1510.5,1111.3 C1511.5,1111.2 1514.5,1110.7 1516.6,1110.4 C1518.6,1110.1 1520.6,1109.9 1522.6,1109.6 C1524.6,1109.3 1526.7,1109.0 1528.7,1108.8 C1530.7,1108.5 1532.7,1108.3 1534.7,1108.0 C1536.7,1107.7 1538.8,1107.5 1540.8,1107.2 C1542.8,1107.0 1544.8,1106.7 1546.8,1106.5 C1548.9,1106.2 1550.9,1106.0 1552.9,1105.7 C1554.9,1105.4 1556.9,1105.2 1559.0,1104.9 C1561.0,1104.6 1563.0,1104.4 1565.0,1104.1 C1567.0,1103.8 1569.0,1103.5 1571.1,1103.2 C1573.1,1102.9 1575.1,1102.6 1577.1,1102.3 C1579.1,1101.9 1581.2,1101.6 1583.2,1101.3 C1585.2,1100.9 1587.2,1100.5 1589.2,1100.2 C1591.3,1099.8 1593.3,1099.4 1595.3,1099.0 C1597.3,1098.6 1599.3,1098.1 1601.3,1097.7 C1603.4,1097.2 1605.4,1096.8 1607.4,1096.3 C1609.4,1095.8 1611.4,1095.3 1613.5,1094.7 C1615.5,1094.2 1617.5,1093.6 1619.5,1093.0 C1621.5,1092.5 1623.6,1091.8 1625.6,1091.2 C1627.6,1090.6 1629.6,1089.9 1631.6,1089.2 C1633.6,1088.5 1635.7,1087.8 1637.7,1087.0 C1639.7,1086.3 1641.7,1085.5 1643.7,1084.7 C1645.8,1083.9 1647.8,1083.1 1649.8,1082.3 C1651.8,1081.5 1653.8,1080.6 1655.9,1079.7 C1657.9,1078.9 1659.9,1078.0 1661.9,1077.1 C1663.9,1076.2 1665.9,1075.3 1668.0,1074.4 C1670.0,1073.5 1672.0,1072.6 1674.0,1071.6 C1676.0,1070.7 1678.1,1069.8 1680.1,1068.8 C1682.1,1067.9 1684.1,1067.0 1686.1,1066.0 C1688.2,1065.1 1690.2,1064.1 1692.2,1063.2 C1694.2,1062.3 1696.2,1061.3 1698.2,1060.4 C1700.3,1059.5 1702.3,1058.6 1704.3,1057.7 C1706.3,1056.7 1708.3,1055.8 1710.4,1054.9 C1712.4,1054.1 1714.4,1053.2 1716.4,1052.3 C1718.4,1051.4 1720.5,1050.6 1722.5,1049.7 C1724.5,1048.9 1726.5,1048.1 1728.5,1047.2 C1730.5,1046.4 1732.6,1045.5 1734.6,1044.6 C1736.6,1043.8 1738.6,1042.9 1740.6,1042.0 C1742.7,1041.1 1744.7,1040.1 1746.7,1039.2 C1748.7,1038.2 1750.7,1037.2 1752.8,1036.2 C1754.8,1035.1 1756.8,1034.1 1758.8,1032.9 C1760.8,1031.8 1762.8,1030.6 1764.9,1029.4 C1766.9,1028.2 1768.9,1026.9 1770.9,1025.5 C1772.9,1024.2 1775.0,1022.9 1777.0,1021.5 C1779.0,1020.1 1781.0,1018.8 1783.0,1017.4 C1785.1,1016.0 1787.1,1014.7 1789.1,1013.4 C1791.1,1012.0 1793.1,1010.7 1795.1,1009.4 C1797.2,1008.1 1799.2,1006.7 1801.2,1005.4 C1803.2,1004.1 1805.2,1002.8 1807.3,1001.5 C1809.3,1000.2 1811.3,998.9 1813.3,997.6 C1815.3,996.3 1817.4,995.0 1819.4,993.7 C1821.4,992.4 1823.4,991.1 1825.4,989.8 C1827.4,988.5 1829.5,987.1 1831.5,985.8 C1833.5,984.4 1835.5,983.1 1837.5,981.7 C1839.6,980.3 1841.6,979.0 1843.6,977.6 C1845.6,976.2 1847.6,974.8 1849.7,973.3 C1851.7,971.9 1853.7,970.5 1855.7,969.0 C1857.7,967.6 1859.7,966.1 1861.8,964.6 C1863.8,963.1 1865.8,961.6 1867.8,960.1 C1869.8,958.6 1871.9,957.0 1873.9,955.5 C1875.9,953.9 1877.9,952.3 1879.9,950.7 C1882.0,949.1 1884.0,947.5 1886.0,945.9 C1888.0,944.3 1890.0,942.6 1892.0,941.0 C1894.1,939.3 1896.1,937.6 1898.1,935.9 C1900.1,934.2 1902.1,932.4 1904.2,930.7 C1906.2,928.9 1908.2,927.2 1910.2,925.4 C1912.2,923.6 1914.3,921.7 1916.3,919.9 C1918.3,918.0 1920.3,916.2 1922.3,914.3 C1924.3,912.4 1926.4,910.5 1928.4,908.5 C1930.4,906.6 1932.4,904.6 1934.4,902.6 C1936.5,900.7 1939.5,897.6 1940.5,896.6" fill="none" stroke="#7030A0" stroke-width="3.00" stroke-linecap="round" stroke-linejoin="round"/>
</svg>
</body></html>
